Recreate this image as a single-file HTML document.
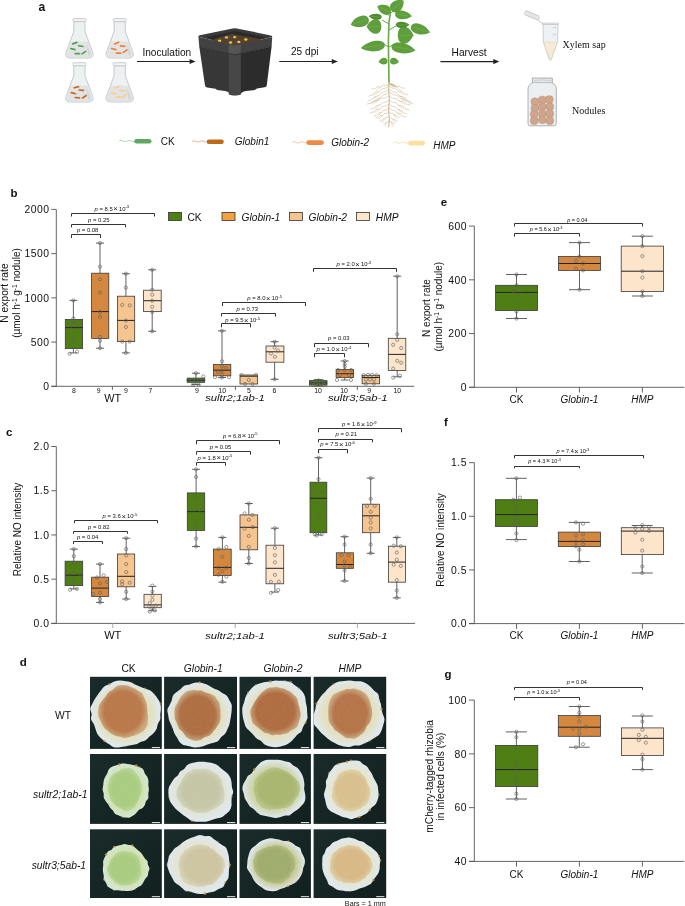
<!DOCTYPE html><html><head><meta charset="utf-8"><style>html,body{margin:0;padding:0;background:#fff;overflow:hidden;}svg{display:block;will-change:transform;}</style></head><body>
<svg width="685" height="906" viewBox="0 0 685 906">
<rect width="685" height="906" fill="#fff"/>
<text x="38.6" y="11.4" font-family='"Liberation Sans", sans-serif' font-size="12" text-anchor="start" fill="#111" font-weight="bold" >a</text>
<path d="M73.8 21.6 L73.8 31.6 L66.2 52 Q64.2 57 69.4 58 L89.4 58 Q94.6 57 92.6 52 L85 31.6 L85 21.6 Z" fill="#eef1f2" stroke="#b9bdc0" stroke-width="0.8"/>
<path d="M70.67 41.6 L66.4 52 Q64.8 56.8 69.4 57.4 L89.4 57.4 Q94 56.8 92.4 52 L88.13 41.6 Z" fill="#e1e3e4"/>
<path d="M86.4 43.6 L90.9 54 L88.4 56 Z" fill="#d3d6d8"/>
<rect x="72.8" y="18.6" width="13.2" height="3" rx="1.2" fill="#f3f5f6" stroke="#b9bdc0" stroke-width="0.7"/>
<line x1="72.7" y1="43.1" x2="77.1" y2="43.1" stroke="#4fa04f" stroke-width="1.7" stroke-linecap="round" transform="rotate(-20 74.9 43.1)"/>
<path d="M77.1 43.1 q1.5 -0.8 3 0" fill="none" stroke="#d8d8d8" stroke-width="0.4" transform="rotate(-20 74.9 43.1)"/>
<line x1="78.7" y1="46.1" x2="83.1" y2="46.1" stroke="#4fa04f" stroke-width="1.7" stroke-linecap="round" transform="rotate(10 80.9 46.1)"/>
<path d="M83.1 46.1 q1.5 -0.8 3 0" fill="none" stroke="#d8d8d8" stroke-width="0.4" transform="rotate(10 80.9 46.1)"/>
<line x1="70.7" y1="49.1" x2="75.1" y2="49.1" stroke="#4fa04f" stroke-width="1.7" stroke-linecap="round" transform="rotate(15 72.9 49.1)"/>
<path d="M75.1 49.1 q1.5 -0.8 3 0" fill="none" stroke="#d8d8d8" stroke-width="0.4" transform="rotate(15 72.9 49.1)"/>
<line x1="75.2" y1="53.6" x2="79.6" y2="53.6" stroke="#4fa04f" stroke-width="1.7" stroke-linecap="round" transform="rotate(0 77.4 53.6)"/>
<path d="M79.6 53.6 q1.5 -0.8 3 0" fill="none" stroke="#d8d8d8" stroke-width="0.4" transform="rotate(0 77.4 53.6)"/>
<line x1="81.7" y1="52.6" x2="86.1" y2="52.6" stroke="#4fa04f" stroke-width="1.7" stroke-linecap="round" transform="rotate(-35 83.9 52.6)"/>
<path d="M86.1 52.6 q1.5 -0.8 3 0" fill="none" stroke="#d8d8d8" stroke-width="0.4" transform="rotate(-35 83.9 52.6)"/>
<path d="M114.1 21.6 L114.1 31.6 L106.5 52 Q104.5 57 109.7 58 L129.7 58 Q134.9 57 132.9 52 L125.3 31.6 L125.3 21.6 Z" fill="#eef1f2" stroke="#b9bdc0" stroke-width="0.8"/>
<path d="M110.97 41.6 L106.7 52 Q105.1 56.8 109.7 57.4 L129.7 57.4 Q134.3 56.8 132.7 52 L128.43 41.6 Z" fill="#e1e3e4"/>
<path d="M126.7 43.6 L131.2 54 L128.7 56 Z" fill="#d3d6d8"/>
<rect x="113.1" y="18.6" width="13.2" height="3" rx="1.2" fill="#f3f5f6" stroke="#b9bdc0" stroke-width="0.7"/>
<line x1="114.5" y1="43.1" x2="118.9" y2="43.1" stroke="#ef7f33" stroke-width="1.7" stroke-linecap="round" transform="rotate(-25 116.7 43.1)"/>
<path d="M118.9 43.1 q1.5 -0.8 3 0" fill="none" stroke="#d8d8d8" stroke-width="0.4" transform="rotate(-25 116.7 43.1)"/>
<line x1="120.5" y1="46.1" x2="124.9" y2="46.1" stroke="#ef7f33" stroke-width="1.7" stroke-linecap="round" transform="rotate(5 122.7 46.1)"/>
<path d="M124.9 46.1 q1.5 -0.8 3 0" fill="none" stroke="#d8d8d8" stroke-width="0.4" transform="rotate(5 122.7 46.1)"/>
<line x1="111.5" y1="49.1" x2="115.9" y2="49.1" stroke="#ef7f33" stroke-width="1.7" stroke-linecap="round" transform="rotate(15 113.7 49.1)"/>
<path d="M115.9 49.1 q1.5 -0.8 3 0" fill="none" stroke="#d8d8d8" stroke-width="0.4" transform="rotate(15 113.7 49.1)"/>
<line x1="116.5" y1="53.1" x2="120.9" y2="53.1" stroke="#ef7f33" stroke-width="1.7" stroke-linecap="round" transform="rotate(0 118.7 53.1)"/>
<path d="M120.9 53.1 q1.5 -0.8 3 0" fill="none" stroke="#d8d8d8" stroke-width="0.4" transform="rotate(0 118.7 53.1)"/>
<line x1="123" y1="51.1" x2="127.4" y2="51.1" stroke="#ef7f33" stroke-width="1.7" stroke-linecap="round" transform="rotate(-35 125.2 51.1)"/>
<path d="M127.4 51.1 q1.5 -0.8 3 0" fill="none" stroke="#d8d8d8" stroke-width="0.4" transform="rotate(-35 125.2 51.1)"/>
<path d="M73.8 65.7 L73.8 75.7 L66.2 96 Q64.2 101 69.4 102 L89.4 102 Q94.6 101 92.6 96 L85 75.7 L85 65.7 Z" fill="#eef1f2" stroke="#b9bdc0" stroke-width="0.8"/>
<path d="M70.66 85.7 L66.4 96 Q64.8 100.8 69.4 101.4 L89.4 101.4 Q94 100.8 92.4 96 L88.14 85.7 Z" fill="#e1e3e4"/>
<path d="M86.4 87.7 L90.9 98 L88.4 100 Z" fill="#d3d6d8"/>
<rect x="72.8" y="62.7" width="13.2" height="3" rx="1.2" fill="#f3f5f6" stroke="#b9bdc0" stroke-width="0.7"/>
<line x1="74.2" y1="87.2" x2="78.6" y2="87.2" stroke="#c8691e" stroke-width="1.7" stroke-linecap="round" transform="rotate(-15 76.4 87.2)"/>
<path d="M78.6 87.2 q1.5 -0.8 3 0" fill="none" stroke="#d8d8d8" stroke-width="0.4" transform="rotate(-15 76.4 87.2)"/>
<line x1="79.2" y1="90.2" x2="83.6" y2="90.2" stroke="#c8691e" stroke-width="1.7" stroke-linecap="round" transform="rotate(5 81.4 90.2)"/>
<path d="M83.6 90.2 q1.5 -0.8 3 0" fill="none" stroke="#d8d8d8" stroke-width="0.4" transform="rotate(5 81.4 90.2)"/>
<line x1="71.2" y1="93.2" x2="75.6" y2="93.2" stroke="#c8691e" stroke-width="1.7" stroke-linecap="round" transform="rotate(15 73.4 93.2)"/>
<path d="M75.6 93.2 q1.5 -0.8 3 0" fill="none" stroke="#d8d8d8" stroke-width="0.4" transform="rotate(15 73.4 93.2)"/>
<line x1="75.2" y1="97.7" x2="79.6" y2="97.7" stroke="#c8691e" stroke-width="1.7" stroke-linecap="round" transform="rotate(5 77.4 97.7)"/>
<path d="M79.6 97.7 q1.5 -0.8 3 0" fill="none" stroke="#d8d8d8" stroke-width="0.4" transform="rotate(5 77.4 97.7)"/>
<line x1="82.2" y1="96.7" x2="86.6" y2="96.7" stroke="#c8691e" stroke-width="1.7" stroke-linecap="round" transform="rotate(-35 84.4 96.7)"/>
<path d="M86.6 96.7 q1.5 -0.8 3 0" fill="none" stroke="#d8d8d8" stroke-width="0.4" transform="rotate(-35 84.4 96.7)"/>
<path d="M114.1 65.7 L114.1 75.7 L106.5 96 Q104.5 101 109.7 102 L129.7 102 Q134.9 101 132.9 96 L125.3 75.7 L125.3 65.7 Z" fill="#eef1f2" stroke="#b9bdc0" stroke-width="0.8"/>
<path d="M110.96 85.7 L106.7 96 Q105.1 100.8 109.7 101.4 L129.7 101.4 Q134.3 100.8 132.7 96 L128.44 85.7 Z" fill="#e1e3e4"/>
<path d="M126.7 87.7 L131.2 98 L128.7 100 Z" fill="#d3d6d8"/>
<rect x="113.1" y="62.7" width="13.2" height="3" rx="1.2" fill="#f3f5f6" stroke="#b9bdc0" stroke-width="0.7"/>
<line x1="114.5" y1="87.2" x2="118.9" y2="87.2" stroke="#f7d08e" stroke-width="1.7" stroke-linecap="round" transform="rotate(-20 116.7 87.2)"/>
<path d="M118.9 87.2 q1.5 -0.8 3 0" fill="none" stroke="#d8d8d8" stroke-width="0.4" transform="rotate(-20 116.7 87.2)"/>
<line x1="120" y1="90.7" x2="124.4" y2="90.7" stroke="#f7d08e" stroke-width="1.7" stroke-linecap="round" transform="rotate(5 122.2 90.7)"/>
<path d="M124.4 90.7 q1.5 -0.8 3 0" fill="none" stroke="#d8d8d8" stroke-width="0.4" transform="rotate(5 122.2 90.7)"/>
<line x1="111.5" y1="93.2" x2="115.9" y2="93.2" stroke="#f7d08e" stroke-width="1.7" stroke-linecap="round" transform="rotate(10 113.7 93.2)"/>
<path d="M115.9 93.2 q1.5 -0.8 3 0" fill="none" stroke="#d8d8d8" stroke-width="0.4" transform="rotate(10 113.7 93.2)"/>
<line x1="116.5" y1="97.2" x2="120.9" y2="97.2" stroke="#f7d08e" stroke-width="1.7" stroke-linecap="round" transform="rotate(0 118.7 97.2)"/>
<path d="M120.9 97.2 q1.5 -0.8 3 0" fill="none" stroke="#d8d8d8" stroke-width="0.4" transform="rotate(0 118.7 97.2)"/>
<line x1="122.5" y1="95.7" x2="126.9" y2="95.7" stroke="#f7d08e" stroke-width="1.7" stroke-linecap="round" transform="rotate(-35 124.7 95.7)"/>
<path d="M126.9 95.7 q1.5 -0.8 3 0" fill="none" stroke="#d8d8d8" stroke-width="0.4" transform="rotate(-35 124.7 95.7)"/>
<line x1="137" y1="61.5" x2="191.6" y2="61.5" stroke="#222" stroke-width="1.1"/>
<path d="M195.6 61.5 L189.6 58.9 L189.6 64.1 Z" fill="#222"/>
<text x="142.4" y="56.1" font-family='"Liberation Sans", sans-serif' font-size="10.1" text-anchor="start" fill="#111" >Inoculation</text>
<line x1="279.3" y1="61.5" x2="333.8" y2="61.5" stroke="#222" stroke-width="1.1"/>
<path d="M337.8 61.5 L331.8 58.9 L331.8 64.1 Z" fill="#222"/>
<text x="291" y="55.1" font-family='"Liberation Sans", sans-serif' font-size="10.1" text-anchor="start" fill="#111" >25 dpi</text>
<line x1="440.5" y1="61.6" x2="495.3" y2="61.6" stroke="#222" stroke-width="1.1"/>
<path d="M499.3 61.6 L493.3 59 L493.3 64.2 Z" fill="#222"/>
<text x="451.6" y="56.3" font-family='"Liberation Sans", sans-serif' font-size="10.2" text-anchor="start" fill="#111" >Harvest</text>
<path d="M199.3 46.8 L234.7 54.8 L234.7 95.2 L231 95 Q229 91.5 225 91 L219 90.2 Q216.5 90.3 215.5 88.8 L207 87.6 Q205.2 87.2 205 85.6 Z" fill="#373737"/>
<path d="M234.7 54.8 L271.6 46.4 L266.8 85.2 Q266.5 87 264.6 87.2 L257 88.4 Q255.5 90 253 90.2 L246 91 Q241.5 91.5 240 95 L234.7 95.2 Z" fill="#2c2c2c"/>
<path d="M228.6 53.4 L234.7 54.8 L240.8 53.4 L240.8 94.6 Q237.5 95.6 234.7 95.6 Q231.5 95.6 228.8 94.6 Z" fill="#474747"/>
<path d="M198.4 36.8 Q198.2 35.6 199.8 35.2 L232.6 28.4 Q234.7 27.9 236.8 28.4 L270.8 35.4 Q272.4 35.8 272.2 37 L234.7 45.6 Z" fill="#3b3b3b"/>
<path d="M205 37.4 L234.7 31 L266 37.4 L234.7 45 Z" fill="#2a2a2a"/>
<path d="M212.5 41 Q213.5 38.8 216 38.3 L230.5 34.3 Q232 33.9 233.5 34.3 L259.5 39 Q262 40 259.8 41.2 L236 46 Q234.7 46.3 233.4 46 Z" fill="#56412f"/>
<ellipse cx="226.5" cy="37.4" rx="1.7" ry="1.2" fill="#e8c24a"/>
<ellipse cx="234.7" cy="37.1" rx="1.7" ry="1.2" fill="#e8c24a"/>
<ellipse cx="219.6" cy="40.8" rx="1.7" ry="1.2" fill="#e8c24a"/>
<ellipse cx="230.6" cy="42.5" rx="1.7" ry="1.2" fill="#e8c24a"/>
<ellipse cx="238.8" cy="41.9" rx="1.7" ry="1.2" fill="#e8c24a"/>
<ellipse cx="245.8" cy="39.5" rx="1.7" ry="1.2" fill="#e8c24a"/>
<path d="M198.4 36.8 L234.7 45.6 L272.2 37 L271.6 46.4 L234.7 54.9 L199.3 46.8 Z" fill="#424242"/>
<path d="M228.6 44.2 L234.7 45.6 L240.8 44.2 L240.8 53.4 L234.7 54.9 L228.6 53.4 Z" fill="#555"/>
<path d="M199.3 46.8 L234.7 54.9 L271.6 46.4" fill="none" stroke="#222" stroke-width="0.6"/>
<g stroke="#c9b48f" fill="none" stroke-linecap="round">
<path d="M389 81 L388.7 90 L389.4 100 L388.6 110 L389.3 119 L388.8 127" stroke-width="1"/>
<path d="M389 84 L386.17 85.43 L383.33 85.07 L380.5 87.1 L377.67 86.73 L374.83 88.77 L372 89" stroke-width="0.55"/>
<path d="M380.5 87.1 L379.08 88.67 L377.67 89.03 L376.25 90.6" stroke-width="0.4"/>
<path d="M389 84 L391.5 85.27 L394 84.73 L396.5 86.6 L399 86.07 L401.5 87.93 L404 88" stroke-width="0.55"/>
<path d="M396.5 86.6 L397.75 88.17 L399 88.53 L400.25 90.1" stroke-width="0.4"/>
<path d="M389 86 L385.67 88.27 L382.33 88.73 L379 91.6 L375.67 92.07 L372.33 94.93 L369 96" stroke-width="0.55"/>
<path d="M379 91.6 L377.33 93.17 L375.67 93.53 L374 95.1" stroke-width="0.4"/>
<path d="M389 86 L392.17 88.1 L395.33 88.4 L398.5 91.1 L401.67 91.4 L404.83 94.1 L408 95" stroke-width="0.55"/>
<path d="M398.5 91.1 L400.08 92.67 L401.67 93.03 L403.25 94.6" stroke-width="0.4"/>
<path d="M389 89 L385.5 91.6 L382 92.4 L378.5 95.6 L375 96.4 L371.5 99.6 L368 101" stroke-width="0.55"/>
<path d="M378.5 95.6 L376.75 97.17 L375 97.53 L373.25 99.1" stroke-width="0.4"/>
<path d="M389 89 L392.67 91.77 L396.33 92.73 L400 96.1 L403.67 97.07 L407.33 100.43 L411 102" stroke-width="0.55"/>
<path d="M400 96.1 L401.83 97.67 L403.67 98.03 L405.5 99.6" stroke-width="0.4"/>
<path d="M389 92 L386 94.43 L383 95.07 L380 98.1 L377 98.73 L374 101.77 L371 103" stroke-width="0.55"/>
<path d="M380 98.1 L378.5 99.67 L377 100.03 L375.5 101.6" stroke-width="0.4"/>
<path d="M389 92 L393 94.6 L397 95.4 L401 98.6 L405 99.4 L409 102.6 L413 104" stroke-width="0.55"/>
<path d="M401 98.6 L403 100.17 L405 100.53 L407 102.1" stroke-width="0.4"/>
<path d="M389 96 L385.33 97.93 L381.67 98.07 L378 100.6 L374.33 100.73 L370.67 103.27 L367 104" stroke-width="0.55"/>
<path d="M378 100.6 L376.17 102.17 L374.33 102.53 L372.5 104.1" stroke-width="0.4"/>
<path d="M389 96 L392.5 98.1 L396 98.4 L399.5 101.1 L403 101.4 L406.5 104.1 L410 105" stroke-width="0.55"/>
<path d="M399.5 101.1 L401.25 102.67 L403 103.03 L404.75 104.6" stroke-width="0.4"/>
<path d="M389 100 L386 102.1 L383 102.4 L380 105.1 L377 105.4 L374 108.1 L371 109" stroke-width="0.55"/>
<path d="M380 105.1 L378.5 106.67 L377 107.03 L375.5 108.6" stroke-width="0.4"/>
<path d="M389 100 L392.33 102.27 L395.67 102.73 L399 105.6 L402.33 106.07 L405.67 108.93 L409 110" stroke-width="0.55"/>
<path d="M399 105.6 L400.67 107.17 L402.33 107.53 L404 109.1" stroke-width="0.4"/>
<path d="M389 104 L385.83 106.1 L382.67 106.4 L379.5 109.1 L376.33 109.4 L373.17 112.1 L370 113" stroke-width="0.55"/>
<path d="M379.5 109.1 L377.92 110.67 L376.33 111.03 L374.75 112.6" stroke-width="0.4"/>
<path d="M389 104 L392 106.27 L395 106.73 L398 109.6 L401 110.07 L404 112.93 L407 114" stroke-width="0.55"/>
<path d="M398 109.6 L399.5 111.17 L401 111.53 L402.5 113.1" stroke-width="0.4"/>
<path d="M389 108 L386.5 109.93 L384 110.07 L381.5 112.6 L379 112.73 L376.5 115.27 L374 116" stroke-width="0.55"/>
<path d="M381.5 112.6 L380.25 114.17 L379 114.53 L377.75 116.1" stroke-width="0.4"/>
<path d="M389 108 L391.83 110.1 L394.67 110.4 L397.5 113.1 L400.33 113.4 L403.17 116.1 L406 117" stroke-width="0.55"/>
<path d="M397.5 113.1 L398.92 114.67 L400.33 115.03 L401.75 116.6" stroke-width="0.4"/>
<path d="M389 112 L386.83 113.6 L384.67 113.4 L382.5 115.6 L380.33 115.4 L378.17 117.6 L376 118" stroke-width="0.55"/>
<path d="M382.5 115.6 L381.42 117.17 L380.33 117.53 L379.25 119.1" stroke-width="0.4"/>
<path d="M389 112 L390.67 113.43 L392.33 113.07 L394 115.1 L395.67 114.73 L397.33 116.77 L399 117" stroke-width="0.55"/>
<path d="M394 115.1 L394.83 116.67 L395.67 117.03 L396.5 118.6" stroke-width="0.4"/>
<path d="M389 116 L387.5 117.43 L386 117.07 L384.5 119.1 L383 118.73 L381.5 120.77 L380 121" stroke-width="0.55"/>
<path d="M384.5 119.1 L383.75 120.67 L383 121.03 L382.25 122.6" stroke-width="0.4"/>
<path d="M389 117 L390.33 118.27 L391.67 117.73 L393 119.6 L394.33 119.07 L395.67 120.93 L397 121" stroke-width="0.55"/>
<path d="M393 119.6 L393.67 121.17 L394.33 121.53 L395 123.1" stroke-width="0.4"/>
<path d="M389 121 L388.17 122.1 L387.33 121.4 L386.5 123.1 L385.67 122.4 L384.83 124.1 L384 124" stroke-width="0.55"/>
<path d="M386.5 123.1 L386.08 124.67 L385.67 125.03 L385.25 126.6" stroke-width="0.4"/>
<path d="M389 121 L389.83 122.1 L390.67 121.4 L391.5 123.1 L392.33 122.4 L393.17 124.1 L394 124" stroke-width="0.55"/>
<path d="M391.5 123.1 L391.92 124.67 L392.33 125.03 L392.75 126.6" stroke-width="0.4"/>
<path d="M389 82.5 L390.17 84.1 L391.33 84.8 L392.5 86.4" stroke-width="0.5"/>
<path d="M389 82.5 L390.71 84.17 L392.41 84.95 L394.12 86.62" stroke-width="0.5"/>
<path d="M389 82.5 L391.1 84.42 L393.19 85.43 L395.29 87.35" stroke-width="0.5"/>
<path d="M389 82.5 L391.3 84.11 L393.61 84.82 L395.91 86.43" stroke-width="0.5"/>
<path d="M389 82.5 L391.31 84.14 L393.62 84.88 L395.93 86.52" stroke-width="0.5"/>
<path d="M389 82.5 L391.11 84.19 L393.23 84.98 L395.34 86.67" stroke-width="0.5"/>
<path d="M389 82.5 L390.73 83.92 L392.47 84.45 L394.2 85.87" stroke-width="0.5"/>
<path d="M389 82.5 L390.2 84.14 L391.4 84.88 L392.61 86.52" stroke-width="0.5"/>
</g>
<path d="M389 82 L388.6 60 L388.4 40 L389 22 L390.5 12" fill="none" stroke="#6aa84a" stroke-width="1.6"/>
<path d="M388.6 47 L380 42 M388.8 47 L397 43 M389 30 L396 26 M389 24 L382 20 M389.5 16 L384 9 M390 14 L396 8" stroke="#6aa84a" stroke-width="1"/>
<g transform="translate(397.5 5.5) rotate(-40) scale(1.05,1.18)"><path d="M-7.5 0 C-7.5 -6.25 2.62 -6.5 7.5 0 C2.62 6.5 -7.5 6.25 -7.5 0 Z" fill="#5f9e3d"/><path d="M-6 0 L6 0" stroke="#7dba5c" stroke-width="0.35"/></g>
<g transform="translate(384 9.2) rotate(25) scale(1.05,1.18)"><path d="M7 0 C7 -5.25 -2.45 -5.46 -7 0 C-2.45 5.46 7 5.25 7 0 Z" fill="#5f9e3d"/><path d="M5.6 0 L-5.6 0" stroke="#7dba5c" stroke-width="0.35"/></g>
<g transform="translate(403.5 15.2) rotate(8) scale(1.05,1.18)"><path d="M-8 0 C-8 -4.75 2.8 -4.94 8 0 C2.8 4.94 -8 4.75 -8 0 Z" fill="#5f9e3d"/><path d="M-6.4 0 L6.4 0" stroke="#7dba5c" stroke-width="0.35"/></g>
<g transform="translate(359.7 21.9) rotate(-18) scale(1.05,1.18)"><path d="M9 0 C9 -6 -3.15 -6.24 -9 0 C-3.15 6.24 9 6 9 0 Z" fill="#5f9e3d"/><path d="M7.2 0 L-7.2 0" stroke="#7dba5c" stroke-width="0.35"/></g>
<g transform="translate(374 26.5) rotate(0) scale(1.05,1.18)"><path d="M7 0 C7 -8.12 -2.45 -8.45 -7 0 C-2.45 8.45 7 8.12 7 0 Z" fill="#5f9e3d"/><path d="M5.6 0 L-5.6 0" stroke="#7dba5c" stroke-width="0.35"/></g>
<g transform="translate(375.2 16.7) rotate(5) scale(1.05,1.18)"><path d="M6.2 0 C6.2 -3.25 -2.17 -3.38 -6.2 0 C-2.17 3.38 6.2 3.25 6.2 0 Z" fill="#4f8c30"/><path d="M4.96 0 L-4.96 0" stroke="#7dba5c" stroke-width="0.35"/></g>
<g transform="translate(420.5 29.5) rotate(18) scale(1.05,1.18)"><path d="M-9.5 0 C-9.5 -5.62 3.32 -5.85 9.5 0 C3.32 5.85 -9.5 5.62 -9.5 0 Z" fill="#5f9e3d"/><path d="M-7.6 0 L7.6 0" stroke="#7dba5c" stroke-width="0.35"/></g>
<g transform="translate(405.6 35.2) rotate(0) scale(1.05,1.18)"><path d="M-7.4 0 C-7.4 -9.5 2.59 -9.88 7.4 0 C2.59 9.88 -7.4 9.5 -7.4 0 Z" fill="#5f9e3d"/><path d="M-5.92 0 L5.92 0" stroke="#7dba5c" stroke-width="0.35"/></g>
<g transform="translate(402.6 24.8) rotate(0) scale(1.05,1.18)"><path d="M-6.5 0 C-6.5 -3.5 2.27 -3.64 6.5 0 C2.27 3.64 -6.5 3.5 -6.5 0 Z" fill="#4f8c30"/><path d="M-5.2 0 L5.2 0" stroke="#7dba5c" stroke-width="0.35"/></g>
<g transform="translate(372.8 46.4) rotate(-8) scale(1.05,1.18)"><path d="M11.5 0 C11.5 -5.75 -4.02 -5.98 -11.5 0 C-4.02 5.98 11.5 5.75 11.5 0 Z" fill="#5f9e3d"/><path d="M9.2 0 L-9.2 0" stroke="#7dba5c" stroke-width="0.35"/></g>
<g transform="translate(403.5 48.4) rotate(10) scale(1.05,1.18)"><path d="M-11.5 0 C-11.5 -5.75 4.02 -5.98 11.5 0 C4.02 5.98 -11.5 5.75 -11.5 0 Z" fill="#5f9e3d"/><path d="M-9.2 0 L9.2 0" stroke="#7dba5c" stroke-width="0.35"/></g>
<g transform="translate(383 61.3) rotate(-10) scale(1.05,1.18)"><path d="M4.3 0 C4.3 -3.75 -1.5 -3.9 -4.3 0 C-1.5 3.9 4.3 3.75 4.3 0 Z" fill="#5f9e3d"/><path d="M3.44 0 L-3.44 0" stroke="#7dba5c" stroke-width="0.35"/></g>
<g transform="translate(394.5 61.3) rotate(10) scale(1.05,1.18)"><path d="M-4.3 0 C-4.3 -3.75 1.5 -3.9 4.3 0 C1.5 3.9 -4.3 3.75 -4.3 0 Z" fill="#5f9e3d"/><path d="M-3.44 0 L3.44 0" stroke="#7dba5c" stroke-width="0.35"/></g>
<g transform="translate(531.9 15.4) rotate(23)"><rect x="-7.5" y="-2.1" width="15" height="4.2" rx="1.3" fill="#eef1f2" stroke="#a9adb0" stroke-width="0.6"/><path d="M-6 -0.6 H6 M-6 0.7 H6" stroke="#c4c8ca" stroke-width="0.35"/></g>
<path d="M537.5 19.5 Q539.5 22.5 542.8 23.4" fill="none" stroke="#a9adb0" stroke-width="0.6"/>
<path d="M543 24 L558 24 L557.6 41.8 L551.3 59.6 Q550.3 61 549.3 59.6 L543.4 41.8 Z" fill="#eef1f3" stroke="#b0b4b7" stroke-width="0.6"/>
<path d="M543.6 42.2 L557.3 42.2 L551.2 59 Q550.3 60.2 549.4 59 Z" fill="#f4ead7" stroke="#d9c9a3" stroke-width="0.4"/>
<rect x="542.2" y="23" width="16.6" height="1.6" fill="#e4e7e9" stroke="#a9adb0" stroke-width="0.4"/>
<path d="M553.2 27.4 h2.6 M553.2 34.4 h2.6" stroke="#a0a4a6" stroke-width="0.5"/>
<text x="562.6" y="47.8" font-family='"Liberation Serif", serif' font-size="10" text-anchor="start" fill="#111" >Xylem sap</text>
<path d="M532.4 78.2 L552.2 78.2 L552.2 83 Q556.3 84.8 556.3 89 L556.3 123.4 Q556.3 125.8 553.9 125.8 L530.4 125.8 Q528 125.8 528 123.4 L528 89 Q528 84.8 532.4 83 Z" fill="#eceff1" stroke="#8f9498" stroke-width="0.7"/>
<path d="M532.4 78.2 L552.2 78.2 L552.2 82.6 L532.4 82.6 Z" fill="#e3e7ea" stroke="#8f9498" stroke-width="0.5"/>
<path d="M533.5 80.6 Q542 79.2 551 80.6" fill="none" stroke="#a8adb0" stroke-width="0.4"/>
<circle cx="534.9" cy="101.8" r="4" fill="#cfa68c" stroke="#b38e75" stroke-width="0.4"/>
<circle cx="542.3" cy="99.9" r="4" fill="#cfa68c" stroke="#b38e75" stroke-width="0.4"/>
<circle cx="549.3" cy="99.6" r="4" fill="#cfa68c" stroke="#b38e75" stroke-width="0.4"/>
<circle cx="534.9" cy="108.2" r="4" fill="#cfa68c" stroke="#b38e75" stroke-width="0.4"/>
<circle cx="542.3" cy="106.8" r="4" fill="#cfa68c" stroke="#b38e75" stroke-width="0.4"/>
<circle cx="549.8" cy="106.8" r="4" fill="#cfa68c" stroke="#b38e75" stroke-width="0.4"/>
<circle cx="534.2" cy="114.3" r="4" fill="#cfa68c" stroke="#b38e75" stroke-width="0.4"/>
<circle cx="542.3" cy="113.7" r="4" fill="#cfa68c" stroke="#b38e75" stroke-width="0.4"/>
<circle cx="549.8" cy="113.7" r="4" fill="#cfa68c" stroke="#b38e75" stroke-width="0.4"/>
<circle cx="534.2" cy="120.7" r="4" fill="#cfa68c" stroke="#b38e75" stroke-width="0.4"/>
<circle cx="542.3" cy="119.8" r="4" fill="#cfa68c" stroke="#b38e75" stroke-width="0.4"/>
<circle cx="549.8" cy="120.7" r="4" fill="#cfa68c" stroke="#b38e75" stroke-width="0.4"/>
<text x="572" y="114.4" font-family='"Liberation Serif", serif' font-size="10" text-anchor="start" fill="#111" >Nodules</text>
<path d="M119.2 141 q2 -1.4 4 0 t4 0 t4 0 t3 0" fill="none" stroke="#5ea862" stroke-width="0.55" opacity="0.85"/>
<rect x="134.2" y="139" width="17.3" height="4.6" rx="2.3" fill="#5ea862"/>
<text x="160.7" y="145" font-family='"Liberation Sans", sans-serif' font-size="10" text-anchor="start" fill="#111" >CK</text>
<path d="M192 141.5 q2 -1.4 4 0 t4 0 t4 0 t2.7 0" fill="none" stroke="#bf6a18" stroke-width="0.55" opacity="0.85"/>
<rect x="206.7" y="139.5" width="17.1" height="4.6" rx="2.3" fill="#bf6a18"/>
<text x="234.8" y="145.4" font-family='"Liberation Sans", sans-serif' font-size="10" text-anchor="start" fill="#111" font-style="italic" >Globin1</text>
<path d="M291.8 142.3 q2 -1.4 4 0 t4 0 t4 0 t2.5 0" fill="none" stroke="#ef8a45" stroke-width="0.55" opacity="0.85"/>
<rect x="306.3" y="140.3" width="17.6" height="4.6" rx="2.3" fill="#ef8a45"/>
<text x="331.2" y="146.2" font-family='"Liberation Sans", sans-serif' font-size="10" text-anchor="start" fill="#111" font-style="italic" >Globin-2</text>
<path d="M393 142.8 q2 -1.4 4 0 t4 0 t4 0 t3 0" fill="none" stroke="#e8c088" stroke-width="0.55" opacity="0.85"/>
<rect x="408" y="140.8" width="17" height="4.6" rx="2.3" fill="#fbe0a2"/>
<text x="433.2" y="148.8" font-family='"Liberation Sans", sans-serif' font-size="10" text-anchor="start" fill="#111" font-style="italic" >HMP</text>
<text x="10.4" y="196.6" font-family='"Liberation Sans", sans-serif' font-size="11.5" text-anchor="start" fill="#111" font-weight="bold" >b</text>
<line x1="56.3" y1="209.4" x2="56.3" y2="386.3" stroke="#555" stroke-width="0.9"/>
<line x1="51.3" y1="386.3" x2="414.3" y2="386.3" stroke="#555" stroke-width="0.9"/>
<line x1="51.3" y1="386.3" x2="56.3" y2="386.3" stroke="#555" stroke-width="0.9"/>
<text x="49.5" y="390.05" font-family='"Liberation Sans", sans-serif' font-size="10.4" text-anchor="end" fill="#111" letter-spacing="0.5">0</text>
<line x1="51.3" y1="342.07" x2="56.3" y2="342.07" stroke="#555" stroke-width="0.9"/>
<text x="49.5" y="345.82" font-family='"Liberation Sans", sans-serif' font-size="10.4" text-anchor="end" fill="#111" letter-spacing="0.5">500</text>
<line x1="51.3" y1="297.85" x2="56.3" y2="297.85" stroke="#555" stroke-width="0.9"/>
<text x="49.5" y="301.6" font-family='"Liberation Sans", sans-serif' font-size="10.4" text-anchor="end" fill="#111" letter-spacing="0.5">1000</text>
<line x1="51.3" y1="253.62" x2="56.3" y2="253.62" stroke="#555" stroke-width="0.9"/>
<text x="49.5" y="257.38" font-family='"Liberation Sans", sans-serif' font-size="10.4" text-anchor="end" fill="#111" letter-spacing="0.5">1500</text>
<line x1="51.3" y1="209.4" x2="56.3" y2="209.4" stroke="#555" stroke-width="0.9"/>
<text x="49.5" y="213.15" font-family='"Liberation Sans", sans-serif' font-size="10.4" text-anchor="end" fill="#111" letter-spacing="0.5">2000</text>
<text transform="translate(7.7,293) rotate(-90)" font-family='"Liberation Sans", sans-serif' font-size="10.25" text-anchor="middle" fill="#111">N export rate</text>
<text transform="translate(20.3,293) rotate(-90)" font-family='"Liberation Sans", sans-serif' font-size="10" text-anchor="middle" fill="#111">(µmol h<tspan font-size="6.5" dy="-3.5">-1</tspan><tspan dy="3.5"> g</tspan><tspan font-size="6.5" dy="-3.5">-1</tspan><tspan dy="3.5"> nodule)</tspan></text>
<rect x="168.5" y="212.4" width="13" height="8" fill="#4f7f14" stroke="#333" stroke-width="0.8"/>
<text x="187.5" y="220.5" font-family='"Liberation Sans", sans-serif' font-size="10.2" text-anchor="start" fill="#111" >CK</text>
<rect x="222" y="212.4" width="13" height="8" fill="#f7a040" stroke="#333" stroke-width="0.8"/>
<text x="241.6" y="220.5" font-family='"Liberation Sans", sans-serif' font-size="10.2" text-anchor="start" fill="#111" font-style="italic" >Globin-1</text>
<rect x="289.5" y="212.4" width="13" height="8" fill="#f5c48f" stroke="#333" stroke-width="0.8"/>
<text x="308.5" y="220.5" font-family='"Liberation Sans", sans-serif' font-size="10.2" text-anchor="start" fill="#111" font-style="italic" >Globin-2</text>
<rect x="356.5" y="212.4" width="13" height="8" fill="#fde5cc" stroke="#333" stroke-width="0.8"/>
<text x="375.8" y="220.5" font-family='"Liberation Sans", sans-serif' font-size="10.2" text-anchor="start" fill="#111" font-style="italic" >HMP</text>
<line x1="73.4" y1="300.4" x2="73.4" y2="319.5" stroke="#505050" stroke-width="0.9"/>
<line x1="69.4" y1="300.4" x2="77.4" y2="300.4" stroke="#505050" stroke-width="0.9"/>
<line x1="73.4" y1="348.6" x2="73.4" y2="352.9" stroke="#505050" stroke-width="0.9"/>
<line x1="69.4" y1="352.9" x2="77.4" y2="352.9" stroke="#505050" stroke-width="0.9"/>
<rect x="65.3" y="319.5" width="17.3" height="29.1" fill="#4f7f14" stroke="#3a3a3a" stroke-width="0.8"/>
<line x1="65.3" y1="327.6" x2="82.6" y2="327.6" stroke="#222" stroke-width="1.0"/>
<circle cx="73.4" cy="300.4" r="1.6" fill="none" stroke="#5f5f5f" stroke-width="0.62"/>
<circle cx="73.4" cy="318.6" r="1.6" fill="none" stroke="#5f5f5f" stroke-width="0.62"/>
<circle cx="73.4" cy="322.9" r="1.6" fill="none" stroke="#5f5f5f" stroke-width="0.62"/>
<circle cx="69.6" cy="327.6" r="1.6" fill="none" stroke="#5f5f5f" stroke-width="0.62"/>
<circle cx="77.1" cy="327.6" r="1.6" fill="none" stroke="#5f5f5f" stroke-width="0.62"/>
<circle cx="73.4" cy="340.7" r="1.6" fill="none" stroke="#5f5f5f" stroke-width="0.62"/>
<circle cx="69.6" cy="353.8" r="1.6" fill="none" stroke="#5f5f5f" stroke-width="0.62"/>
<circle cx="77.1" cy="351.6" r="1.6" fill="none" stroke="#5f5f5f" stroke-width="0.62"/>
<line x1="100" y1="243.1" x2="100" y2="273.2" stroke="#505050" stroke-width="0.9"/>
<line x1="96" y1="243.1" x2="104" y2="243.1" stroke="#505050" stroke-width="0.9"/>
<line x1="100" y1="338.4" x2="100" y2="348.2" stroke="#505050" stroke-width="0.9"/>
<line x1="96" y1="348.2" x2="104" y2="348.2" stroke="#505050" stroke-width="0.9"/>
<rect x="91.6" y="273.2" width="17.2" height="65.2" fill="#d4883f" stroke="#3a3a3a" stroke-width="0.8"/>
<line x1="91.6" y1="311.6" x2="108.8" y2="311.6" stroke="#222" stroke-width="1.0"/>
<circle cx="100" cy="243.1" r="1.6" fill="none" stroke="#5f5f5f" stroke-width="0.62"/>
<circle cx="100" cy="266.6" r="1.6" fill="none" stroke="#5f5f5f" stroke-width="0.62"/>
<circle cx="100" cy="279.2" r="1.6" fill="none" stroke="#5f5f5f" stroke-width="0.62"/>
<circle cx="100" cy="292.5" r="1.6" fill="none" stroke="#5f5f5f" stroke-width="0.62"/>
<circle cx="100" cy="312" r="1.6" fill="none" stroke="#5f5f5f" stroke-width="0.62"/>
<circle cx="100" cy="316.9" r="1.6" fill="none" stroke="#5f5f5f" stroke-width="0.62"/>
<circle cx="100" cy="336.9" r="1.6" fill="none" stroke="#5f5f5f" stroke-width="0.62"/>
<circle cx="100" cy="340.7" r="1.6" fill="none" stroke="#5f5f5f" stroke-width="0.62"/>
<circle cx="100" cy="348.2" r="1.6" fill="none" stroke="#5f5f5f" stroke-width="0.62"/>
<line x1="125.9" y1="273.7" x2="125.9" y2="296.2" stroke="#505050" stroke-width="0.9"/>
<line x1="121.9" y1="273.7" x2="129.9" y2="273.7" stroke="#505050" stroke-width="0.9"/>
<line x1="125.9" y1="341.6" x2="125.9" y2="352.9" stroke="#505050" stroke-width="0.9"/>
<line x1="121.9" y1="352.9" x2="129.9" y2="352.9" stroke="#505050" stroke-width="0.9"/>
<rect x="117.5" y="296.2" width="17.2" height="45.4" fill="#f5c48f" stroke="#3a3a3a" stroke-width="0.8"/>
<line x1="117.5" y1="320.4" x2="134.7" y2="320.4" stroke="#222" stroke-width="1.0"/>
<circle cx="125.9" cy="273.7" r="1.6" fill="none" stroke="#5f5f5f" stroke-width="0.62"/>
<circle cx="125.9" cy="287.6" r="1.6" fill="none" stroke="#5f5f5f" stroke-width="0.62"/>
<circle cx="122.2" cy="305" r="1.6" fill="none" stroke="#5f5f5f" stroke-width="0.62"/>
<circle cx="129.7" cy="305.4" r="1.6" fill="none" stroke="#5f5f5f" stroke-width="0.62"/>
<circle cx="125.9" cy="320.6" r="1.6" fill="none" stroke="#5f5f5f" stroke-width="0.62"/>
<circle cx="125.9" cy="327" r="1.6" fill="none" stroke="#5f5f5f" stroke-width="0.62"/>
<circle cx="122.2" cy="341.6" r="1.6" fill="none" stroke="#5f5f5f" stroke-width="0.62"/>
<circle cx="129.7" cy="341.6" r="1.6" fill="none" stroke="#5f5f5f" stroke-width="0.62"/>
<circle cx="125.9" cy="352.9" r="1.6" fill="none" stroke="#5f5f5f" stroke-width="0.62"/>
<line x1="152.2" y1="269.8" x2="152.2" y2="290.2" stroke="#505050" stroke-width="0.9"/>
<line x1="148.2" y1="269.8" x2="156.2" y2="269.8" stroke="#505050" stroke-width="0.9"/>
<line x1="152.2" y1="311.6" x2="152.2" y2="331.3" stroke="#505050" stroke-width="0.9"/>
<line x1="148.2" y1="331.3" x2="156.2" y2="331.3" stroke="#505050" stroke-width="0.9"/>
<rect x="143.6" y="290.2" width="17.6" height="21.4" fill="#fde5cc" stroke="#3a3a3a" stroke-width="0.8"/>
<line x1="143.6" y1="300.7" x2="161.2" y2="300.7" stroke="#222" stroke-width="1.0"/>
<circle cx="152.2" cy="269.8" r="1.6" fill="none" stroke="#5f5f5f" stroke-width="0.62"/>
<circle cx="152.2" cy="289.7" r="1.6" fill="none" stroke="#5f5f5f" stroke-width="0.62"/>
<circle cx="152.2" cy="294.7" r="1.6" fill="none" stroke="#5f5f5f" stroke-width="0.62"/>
<circle cx="152.2" cy="300.7" r="1.6" fill="none" stroke="#5f5f5f" stroke-width="0.62"/>
<circle cx="152.2" cy="306.9" r="1.6" fill="none" stroke="#5f5f5f" stroke-width="0.62"/>
<circle cx="152.2" cy="312" r="1.6" fill="none" stroke="#5f5f5f" stroke-width="0.62"/>
<circle cx="152.2" cy="331.3" r="1.6" fill="none" stroke="#5f5f5f" stroke-width="0.62"/>
<line x1="195.9" y1="373.2" x2="195.9" y2="378.1" stroke="#505050" stroke-width="0.9"/>
<line x1="191.9" y1="373.2" x2="199.9" y2="373.2" stroke="#505050" stroke-width="0.9"/>
<line x1="195.9" y1="382.3" x2="195.9" y2="384.5" stroke="#505050" stroke-width="0.9"/>
<line x1="191.9" y1="384.5" x2="199.9" y2="384.5" stroke="#505050" stroke-width="0.9"/>
<rect x="187.2" y="378.1" width="17.5" height="4.2" fill="#4f7f14" stroke="#3a3a3a" stroke-width="0.8"/>
<line x1="187.2" y1="380.2" x2="204.7" y2="380.2" stroke="#222" stroke-width="1.0"/>
<circle cx="195.9" cy="373.2" r="1.6" fill="none" stroke="#5f5f5f" stroke-width="0.62"/>
<circle cx="203.3" cy="376.4" r="1.6" fill="none" stroke="#5f5f5f" stroke-width="0.62"/>
<circle cx="188.5" cy="380.2" r="1.6" fill="none" stroke="#5f5f5f" stroke-width="0.62"/>
<circle cx="192.2" cy="380.2" r="1.6" fill="none" stroke="#5f5f5f" stroke-width="0.62"/>
<circle cx="195.9" cy="380.2" r="1.6" fill="none" stroke="#5f5f5f" stroke-width="0.62"/>
<circle cx="199.6" cy="380.2" r="1.6" fill="none" stroke="#5f5f5f" stroke-width="0.62"/>
<circle cx="203.3" cy="380.2" r="1.6" fill="none" stroke="#5f5f5f" stroke-width="0.62"/>
<circle cx="193" cy="384.6" r="1.6" fill="none" stroke="#5f5f5f" stroke-width="0.62"/>
<circle cx="198.8" cy="384.6" r="1.6" fill="none" stroke="#5f5f5f" stroke-width="0.62"/>
<line x1="222" y1="330.8" x2="222" y2="364.5" stroke="#505050" stroke-width="0.9"/>
<line x1="218" y1="330.8" x2="226" y2="330.8" stroke="#505050" stroke-width="0.9"/>
<line x1="222" y1="375.8" x2="222" y2="377.5" stroke="#505050" stroke-width="0.9"/>
<line x1="218" y1="377.5" x2="226" y2="377.5" stroke="#505050" stroke-width="0.9"/>
<rect x="213.4" y="364.5" width="17.4" height="11.3" fill="#d4883f" stroke="#3a3a3a" stroke-width="0.8"/>
<line x1="213.4" y1="370.2" x2="230.8" y2="370.2" stroke="#222" stroke-width="1.0"/>
<circle cx="222" cy="330.8" r="1.6" fill="none" stroke="#5f5f5f" stroke-width="0.62"/>
<circle cx="222" cy="361.3" r="1.6" fill="none" stroke="#5f5f5f" stroke-width="0.62"/>
<circle cx="222" cy="366.2" r="1.6" fill="none" stroke="#5f5f5f" stroke-width="0.62"/>
<circle cx="222" cy="370.6" r="1.6" fill="none" stroke="#5f5f5f" stroke-width="0.62"/>
<circle cx="222" cy="374.4" r="1.6" fill="none" stroke="#5f5f5f" stroke-width="0.62"/>
<circle cx="215" cy="377.1" r="1.6" fill="none" stroke="#5f5f5f" stroke-width="0.62"/>
<circle cx="229" cy="377.1" r="1.6" fill="none" stroke="#5f5f5f" stroke-width="0.62"/>
<circle cx="218" cy="372" r="1.6" fill="none" stroke="#5f5f5f" stroke-width="0.62"/>
<circle cx="226" cy="368" r="1.6" fill="none" stroke="#5f5f5f" stroke-width="0.62"/>
<circle cx="222" cy="377.5" r="1.6" fill="none" stroke="#5f5f5f" stroke-width="0.62"/>
<rect x="240" y="375" width="17.6" height="9" fill="#f5c48f" stroke="#3a3a3a" stroke-width="0.8"/>
<line x1="240" y1="376.2" x2="257.6" y2="376.2" stroke="#222" stroke-width="1.0"/>
<circle cx="241.5" cy="375" r="1.6" fill="none" stroke="#5f5f5f" stroke-width="0.62"/>
<circle cx="256" cy="375" r="1.6" fill="none" stroke="#5f5f5f" stroke-width="0.62"/>
<circle cx="248.8" cy="380" r="1.6" fill="none" stroke="#5f5f5f" stroke-width="0.62"/>
<circle cx="245" cy="384" r="1.6" fill="none" stroke="#5f5f5f" stroke-width="0.62"/>
<circle cx="252.6" cy="384" r="1.6" fill="none" stroke="#5f5f5f" stroke-width="0.62"/>
<line x1="274.6" y1="341.7" x2="274.6" y2="346" stroke="#505050" stroke-width="0.9"/>
<line x1="270.6" y1="341.7" x2="278.6" y2="341.7" stroke="#505050" stroke-width="0.9"/>
<line x1="274.6" y1="362.2" x2="274.6" y2="379.3" stroke="#505050" stroke-width="0.9"/>
<line x1="270.6" y1="379.3" x2="278.6" y2="379.3" stroke="#505050" stroke-width="0.9"/>
<rect x="266" y="346" width="17.9" height="16.2" fill="#fde5cc" stroke="#3a3a3a" stroke-width="0.8"/>
<line x1="266" y1="351.8" x2="283.9" y2="351.8" stroke="#222" stroke-width="1.0"/>
<circle cx="274.6" cy="341.7" r="1.6" fill="none" stroke="#5f5f5f" stroke-width="0.62"/>
<circle cx="274.6" cy="347.5" r="1.6" fill="none" stroke="#5f5f5f" stroke-width="0.62"/>
<circle cx="271" cy="353.5" r="1.6" fill="none" stroke="#5f5f5f" stroke-width="0.62"/>
<circle cx="275" cy="356.8" r="1.6" fill="none" stroke="#5f5f5f" stroke-width="0.62"/>
<circle cx="278" cy="350.6" r="1.6" fill="none" stroke="#5f5f5f" stroke-width="0.62"/>
<circle cx="274.6" cy="379.3" r="1.6" fill="none" stroke="#5f5f5f" stroke-width="0.62"/>
<line x1="318.5" y1="379.5" x2="318.5" y2="380.6" stroke="#505050" stroke-width="0.9"/>
<line x1="314.5" y1="379.5" x2="322.5" y2="379.5" stroke="#505050" stroke-width="0.9"/>
<line x1="318.5" y1="385.1" x2="318.5" y2="386" stroke="#505050" stroke-width="0.9"/>
<line x1="314.5" y1="386" x2="322.5" y2="386" stroke="#505050" stroke-width="0.9"/>
<rect x="309.5" y="380.6" width="17.5" height="4.5" fill="#4f7f14" stroke="#3a3a3a" stroke-width="0.8"/>
<line x1="309.5" y1="382.9" x2="327" y2="382.9" stroke="#222" stroke-width="1.0"/>
<circle cx="311.5" cy="382.5" r="1.6" fill="none" stroke="#5f5f5f" stroke-width="0.62"/>
<circle cx="314.5" cy="381" r="1.6" fill="none" stroke="#5f5f5f" stroke-width="0.62"/>
<circle cx="318.5" cy="380.5" r="1.6" fill="none" stroke="#5f5f5f" stroke-width="0.62"/>
<circle cx="322.5" cy="381" r="1.6" fill="none" stroke="#5f5f5f" stroke-width="0.62"/>
<circle cx="325.5" cy="382.5" r="1.6" fill="none" stroke="#5f5f5f" stroke-width="0.62"/>
<circle cx="313" cy="385" r="1.6" fill="none" stroke="#5f5f5f" stroke-width="0.62"/>
<circle cx="318.5" cy="385" r="1.6" fill="none" stroke="#5f5f5f" stroke-width="0.62"/>
<circle cx="324" cy="385" r="1.6" fill="none" stroke="#5f5f5f" stroke-width="0.62"/>
<circle cx="316" cy="383" r="1.6" fill="none" stroke="#5f5f5f" stroke-width="0.62"/>
<circle cx="321" cy="383" r="1.6" fill="none" stroke="#5f5f5f" stroke-width="0.62"/>
<line x1="344.7" y1="361" x2="344.7" y2="369.6" stroke="#505050" stroke-width="0.9"/>
<line x1="340.7" y1="361" x2="348.7" y2="361" stroke="#505050" stroke-width="0.9"/>
<line x1="344.7" y1="377.5" x2="344.7" y2="380" stroke="#505050" stroke-width="0.9"/>
<line x1="340.7" y1="380" x2="348.7" y2="380" stroke="#505050" stroke-width="0.9"/>
<rect x="336.1" y="369.6" width="17.5" height="7.9" fill="#d4883f" stroke="#3a3a3a" stroke-width="0.8"/>
<line x1="336.1" y1="373.7" x2="353.6" y2="373.7" stroke="#222" stroke-width="1.0"/>
<circle cx="344.7" cy="361" r="1.6" fill="none" stroke="#5f5f5f" stroke-width="0.62"/>
<circle cx="344.7" cy="364" r="1.6" fill="none" stroke="#5f5f5f" stroke-width="0.62"/>
<circle cx="344.7" cy="366.5" r="1.6" fill="none" stroke="#5f5f5f" stroke-width="0.62"/>
<circle cx="338" cy="370" r="1.6" fill="none" stroke="#5f5f5f" stroke-width="0.62"/>
<circle cx="344.7" cy="370" r="1.6" fill="none" stroke="#5f5f5f" stroke-width="0.62"/>
<circle cx="351" cy="370" r="1.6" fill="none" stroke="#5f5f5f" stroke-width="0.62"/>
<circle cx="340" cy="375" r="1.6" fill="none" stroke="#5f5f5f" stroke-width="0.62"/>
<circle cx="349" cy="375" r="1.6" fill="none" stroke="#5f5f5f" stroke-width="0.62"/>
<circle cx="337" cy="380" r="1.6" fill="none" stroke="#5f5f5f" stroke-width="0.62"/>
<circle cx="351" cy="380" r="1.6" fill="none" stroke="#5f5f5f" stroke-width="0.62"/>
<rect x="362.1" y="375.3" width="17.5" height="8.5" fill="#f5c48f" stroke="#3a3a3a" stroke-width="0.8"/>
<line x1="362.1" y1="377.5" x2="379.6" y2="377.5" stroke="#222" stroke-width="1.0"/>
<circle cx="363.6" cy="375.2" r="1.6" fill="none" stroke="#5f5f5f" stroke-width="0.62"/>
<circle cx="368" cy="374.8" r="1.6" fill="none" stroke="#5f5f5f" stroke-width="0.62"/>
<circle cx="372" cy="374.8" r="1.6" fill="none" stroke="#5f5f5f" stroke-width="0.62"/>
<circle cx="376.6" cy="375.2" r="1.6" fill="none" stroke="#5f5f5f" stroke-width="0.62"/>
<circle cx="366" cy="379.5" r="1.6" fill="none" stroke="#5f5f5f" stroke-width="0.62"/>
<circle cx="370" cy="379.5" r="1.6" fill="none" stroke="#5f5f5f" stroke-width="0.62"/>
<circle cx="374" cy="379.5" r="1.6" fill="none" stroke="#5f5f5f" stroke-width="0.62"/>
<circle cx="366" cy="383.8" r="1.6" fill="none" stroke="#5f5f5f" stroke-width="0.62"/>
<circle cx="374" cy="383.8" r="1.6" fill="none" stroke="#5f5f5f" stroke-width="0.62"/>
<line x1="397.2" y1="276.2" x2="397.2" y2="338.3" stroke="#505050" stroke-width="0.9"/>
<line x1="393.2" y1="276.2" x2="401.2" y2="276.2" stroke="#505050" stroke-width="0.9"/>
<line x1="397.2" y1="370.5" x2="397.2" y2="376.8" stroke="#505050" stroke-width="0.9"/>
<line x1="393.2" y1="376.8" x2="401.2" y2="376.8" stroke="#505050" stroke-width="0.9"/>
<rect x="388.3" y="338.3" width="17.5" height="32.2" fill="#fde5cc" stroke="#3a3a3a" stroke-width="0.8"/>
<line x1="388.3" y1="354.4" x2="405.8" y2="354.4" stroke="#222" stroke-width="1.0"/>
<circle cx="397.2" cy="276.2" r="1.6" fill="none" stroke="#5f5f5f" stroke-width="0.62"/>
<circle cx="397.2" cy="334.3" r="1.6" fill="none" stroke="#5f5f5f" stroke-width="0.62"/>
<circle cx="397.2" cy="339.8" r="1.6" fill="none" stroke="#5f5f5f" stroke-width="0.62"/>
<circle cx="393.2" cy="344.8" r="1.6" fill="none" stroke="#5f5f5f" stroke-width="0.62"/>
<circle cx="401.2" cy="348" r="1.6" fill="none" stroke="#5f5f5f" stroke-width="0.62"/>
<circle cx="397.2" cy="360.8" r="1.6" fill="none" stroke="#5f5f5f" stroke-width="0.62"/>
<circle cx="401.2" cy="362.7" r="1.6" fill="none" stroke="#5f5f5f" stroke-width="0.62"/>
<circle cx="393.2" cy="368.6" r="1.6" fill="none" stroke="#5f5f5f" stroke-width="0.62"/>
<circle cx="400" cy="375.8" r="1.6" fill="none" stroke="#5f5f5f" stroke-width="0.62"/>
<circle cx="393.2" cy="377.6" r="1.6" fill="none" stroke="#5f5f5f" stroke-width="0.62"/>
<path d="M71.5 216.5 V213.5 H154.5 V216.5" fill="none" stroke="#333" stroke-width="1"/>
<text x="94.5" y="210.52" font-family='"Liberation Sans", sans-serif' font-size="5.9" fill="#111"><tspan font-style="italic">p</tspan> = 8.5<tspan font-size="7.67" dx="0.59" dy="0.71">×</tspan><tspan dx="1.18" dy="-0.71">10</tspan><tspan font-size="4.13" dy="-2.36">-3</tspan></text>
<path d="M71.5 227.3 V224.5 H125.5 V227.3" fill="none" stroke="#333" stroke-width="1"/>
<text x="88.1" y="221.72" font-family='"Liberation Sans", sans-serif' font-size="5.9" fill="#111"><tspan font-style="italic">p</tspan> = 0.25</text>
<path d="M71.5 238 V234.5 H100.5 V238" fill="none" stroke="#333" stroke-width="1"/>
<text x="76.9" y="232.02" font-family='"Liberation Sans", sans-serif' font-size="5.9" fill="#111"><tspan font-style="italic">p</tspan> = 0.08</text>
<path d="M222.5 306.1 V302.5 H305.5 V306.1" fill="none" stroke="#333" stroke-width="1"/>
<text x="247.3" y="300.12" font-family='"Liberation Sans", sans-serif' font-size="5.9" fill="#111"><tspan font-style="italic">p</tspan> = 8.0<tspan font-size="7.67" dx="0.59" dy="0.71">×</tspan><tspan dx="1.18" dy="-0.71">10</tspan><tspan font-size="4.13" dy="-2.36">-5</tspan></text>
<path d="M221.5 316.5 V313.5 H275.5 V316.5" fill="none" stroke="#333" stroke-width="1"/>
<text x="236.5" y="311.42" font-family='"Liberation Sans", sans-serif' font-size="5.9" fill="#111"><tspan font-style="italic">p</tspan> = 0.73</text>
<path d="M221.5 327.3 V323.5 H250.5 V327.3" fill="none" stroke="#333" stroke-width="1"/>
<text x="225.3" y="322.02" font-family='"Liberation Sans", sans-serif' font-size="5.9" fill="#111"><tspan font-style="italic">p</tspan> = 9.5<tspan font-size="7.67" dx="0.59" dy="0.71">×</tspan><tspan dx="1.18" dy="-0.71">10</tspan><tspan font-size="4.13" dy="-2.36">-5</tspan></text>
<path d="M313.5 271.8 V268.5 H396.5 V271.8" fill="none" stroke="#333" stroke-width="1"/>
<text x="336.5" y="266.32" font-family='"Liberation Sans", sans-serif' font-size="5.9" fill="#111"><tspan font-style="italic">p</tspan> = 2.0<tspan font-size="7.67" dx="0.59" dy="0.71">×</tspan><tspan dx="1.18" dy="-0.71">10</tspan><tspan font-size="4.13" dy="-2.36">-3</tspan></text>
<path d="M314.5 347.2 V343.5 H368.5 V347.2" fill="none" stroke="#333" stroke-width="1"/>
<text x="328" y="340.02" font-family='"Liberation Sans", sans-serif' font-size="5.9" fill="#111"><tspan font-style="italic">p</tspan> = 0.03</text>
<path d="M314.5 357.2 V353.5 H344.5 V357.2" fill="none" stroke="#333" stroke-width="1"/>
<text x="316.6" y="351.22" font-family='"Liberation Sans", sans-serif' font-size="5.9" fill="#111"><tspan font-style="italic">p</tspan> = 1.0<tspan font-size="7.67" dx="0.59" dy="0.71">×</tspan><tspan dx="1.18" dy="-0.71">10</tspan><tspan font-size="4.13" dy="-2.36">-4</tspan></text>
<text x="74" y="393.3" font-family='"Liberation Sans", sans-serif' font-size="6.9" text-anchor="middle" fill="#111" >8</text>
<text x="98.6" y="393.3" font-family='"Liberation Sans", sans-serif' font-size="6.9" text-anchor="middle" fill="#111" >9</text>
<text x="126" y="393.3" font-family='"Liberation Sans", sans-serif' font-size="6.9" text-anchor="middle" fill="#111" >9</text>
<text x="150.4" y="393.3" font-family='"Liberation Sans", sans-serif' font-size="6.9" text-anchor="middle" fill="#111" >7</text>
<text x="197" y="393.3" font-family='"Liberation Sans", sans-serif' font-size="6.9" text-anchor="middle" fill="#111" >9</text>
<text x="222.2" y="393.3" font-family='"Liberation Sans", sans-serif' font-size="6.9" text-anchor="middle" fill="#111" >10</text>
<text x="248.9" y="393.3" font-family='"Liberation Sans", sans-serif' font-size="6.9" text-anchor="middle" fill="#111" >5</text>
<text x="274.3" y="393.3" font-family='"Liberation Sans", sans-serif' font-size="6.9" text-anchor="middle" fill="#111" >6</text>
<text x="318.1" y="393.3" font-family='"Liberation Sans", sans-serif' font-size="6.9" text-anchor="middle" fill="#111" >10</text>
<text x="344.1" y="393.3" font-family='"Liberation Sans", sans-serif' font-size="6.9" text-anchor="middle" fill="#111" >10</text>
<text x="369.2" y="393.3" font-family='"Liberation Sans", sans-serif' font-size="6.9" text-anchor="middle" fill="#111" >9</text>
<text x="397.3" y="393.3" font-family='"Liberation Sans", sans-serif' font-size="6.9" text-anchor="middle" fill="#111" >10</text>
<line x1="112.4" y1="386.3" x2="112.4" y2="390" stroke="#555" stroke-width="0.9"/>
<line x1="235.4" y1="386.3" x2="235.4" y2="390" stroke="#555" stroke-width="0.9"/>
<line x1="357.3" y1="386.3" x2="357.3" y2="390" stroke="#555" stroke-width="0.9"/>
<text transform="translate(112.7,401.9) scale(1.06,1)" font-family='"Liberation Sans", sans-serif' font-size="10.3" text-anchor="middle" fill="#111" >WT</text>
<text transform="translate(235,401.4) scale(1.18,1)" font-family='"Liberation Sans", sans-serif' font-size="9.6" text-anchor="middle" fill="#111" font-style="italic" >sultr2;1ab-1</text>
<text transform="translate(357.8,401.4) scale(1.18,1)" font-family='"Liberation Sans", sans-serif' font-size="9.6" text-anchor="middle" fill="#111" font-style="italic" >sultr3;5ab-1</text>
<text x="440.8" y="205.8" font-family='"Liberation Sans", sans-serif' font-size="11.5" text-anchor="start" fill="#111" font-weight="bold" >e</text>
<line x1="474.3" y1="226.08" x2="474.3" y2="387.3" stroke="#555" stroke-width="0.9"/>
<line x1="469" y1="387.3" x2="684.3" y2="387.3" stroke="#555" stroke-width="0.9"/>
<line x1="469" y1="387.3" x2="474.3" y2="387.3" stroke="#555" stroke-width="0.9"/>
<text x="467" y="391.05" font-family='"Liberation Sans", sans-serif' font-size="10.4" text-anchor="end" fill="#111" letter-spacing="0.5">0</text>
<line x1="469" y1="333.56" x2="474.3" y2="333.56" stroke="#555" stroke-width="0.9"/>
<text x="467" y="337.31" font-family='"Liberation Sans", sans-serif' font-size="10.4" text-anchor="end" fill="#111" letter-spacing="0.5">200</text>
<line x1="469" y1="279.82" x2="474.3" y2="279.82" stroke="#555" stroke-width="0.9"/>
<text x="467" y="283.57" font-family='"Liberation Sans", sans-serif' font-size="10.4" text-anchor="end" fill="#111" letter-spacing="0.5">400</text>
<line x1="469" y1="226.08" x2="474.3" y2="226.08" stroke="#555" stroke-width="0.9"/>
<text x="467" y="229.83" font-family='"Liberation Sans", sans-serif' font-size="10.4" text-anchor="end" fill="#111" letter-spacing="0.5">600</text>
<line x1="516.5" y1="387.3" x2="516.5" y2="392.5" stroke="#555" stroke-width="0.9"/>
<line x1="579.4" y1="387.3" x2="579.4" y2="392.5" stroke="#555" stroke-width="0.9"/>
<line x1="642.4" y1="387.3" x2="642.4" y2="392.5" stroke="#555" stroke-width="0.9"/>
<text x="516.5" y="402.9" font-family='"Liberation Sans", sans-serif' font-size="10" text-anchor="middle" fill="#111" >CK</text>
<text x="579.4" y="402.9" font-family='"Liberation Sans", sans-serif' font-size="10" text-anchor="middle" fill="#111" font-style="italic" >Globin-1</text>
<text x="642.4" y="402.9" font-family='"Liberation Sans", sans-serif' font-size="10" text-anchor="middle" fill="#111" font-style="italic" >HMP</text>
<text transform="translate(430,308) rotate(-90)" font-family='"Liberation Sans", sans-serif' font-size="10" text-anchor="middle" fill="#111">N export rate</text>
<text transform="translate(442.2,306.7) rotate(-90)" font-family='"Liberation Sans", sans-serif' font-size="10" text-anchor="middle" fill="#111">(µmol h<tspan font-size="6.5" dy="-3.5">-1</tspan><tspan dy="3.5"> g</tspan><tspan font-size="6.5" dy="-3.5">-1</tspan><tspan dy="3.5"> nodule)</tspan></text>
<line x1="516.5" y1="274.5" x2="516.5" y2="285.3" stroke="#505050" stroke-width="0.9"/>
<line x1="506" y1="274.5" x2="527" y2="274.5" stroke="#505050" stroke-width="0.9"/>
<line x1="516.5" y1="310.6" x2="516.5" y2="318.5" stroke="#505050" stroke-width="0.9"/>
<line x1="506" y1="318.5" x2="527" y2="318.5" stroke="#505050" stroke-width="0.9"/>
<rect x="495.6" y="285.3" width="42" height="25.3" fill="#4f7f14" stroke="#3a3a3a" stroke-width="0.8"/>
<line x1="495.6" y1="292.4" x2="537.6" y2="292.4" stroke="#222" stroke-width="1.0"/>
<circle cx="516.5" cy="274.5" r="1.6" fill="none" stroke="#5f5f5f" stroke-width="0.62"/>
<circle cx="516.5" cy="285.3" r="1.6" fill="none" stroke="#5f5f5f" stroke-width="0.62"/>
<circle cx="513.3" cy="291" r="1.6" fill="none" stroke="#5f5f5f" stroke-width="0.62"/>
<circle cx="519.7" cy="292.6" r="1.6" fill="none" stroke="#5f5f5f" stroke-width="0.62"/>
<circle cx="516.5" cy="303.4" r="1.6" fill="none" stroke="#5f5f5f" stroke-width="0.62"/>
<circle cx="516.5" cy="311.5" r="1.6" fill="none" stroke="#5f5f5f" stroke-width="0.62"/>
<circle cx="516.5" cy="318.6" r="1.6" fill="none" stroke="#5f5f5f" stroke-width="0.62"/>
<line x1="579.5" y1="242.6" x2="579.5" y2="256.5" stroke="#505050" stroke-width="0.9"/>
<line x1="569" y1="242.6" x2="590" y2="242.6" stroke="#505050" stroke-width="0.9"/>
<line x1="579.5" y1="270.4" x2="579.5" y2="289.7" stroke="#505050" stroke-width="0.9"/>
<line x1="569" y1="289.7" x2="590" y2="289.7" stroke="#505050" stroke-width="0.9"/>
<rect x="558.6" y="256.5" width="41.9" height="13.9" fill="#d4883f" stroke="#3a3a3a" stroke-width="0.8"/>
<line x1="558.6" y1="263.5" x2="600.5" y2="263.5" stroke="#222" stroke-width="1.0"/>
<circle cx="579.5" cy="242.6" r="1.6" fill="none" stroke="#5f5f5f" stroke-width="0.62"/>
<circle cx="579.5" cy="256.5" r="1.6" fill="none" stroke="#5f5f5f" stroke-width="0.62"/>
<circle cx="576" cy="260.9" r="1.6" fill="none" stroke="#5f5f5f" stroke-width="0.62"/>
<circle cx="583" cy="263.5" r="1.6" fill="none" stroke="#5f5f5f" stroke-width="0.62"/>
<circle cx="576" cy="268.8" r="1.6" fill="none" stroke="#5f5f5f" stroke-width="0.62"/>
<circle cx="583" cy="270.4" r="1.6" fill="none" stroke="#5f5f5f" stroke-width="0.62"/>
<circle cx="579.5" cy="289.7" r="1.6" fill="none" stroke="#5f5f5f" stroke-width="0.62"/>
<line x1="642.4" y1="236.2" x2="642.4" y2="246.1" stroke="#505050" stroke-width="0.9"/>
<line x1="631.9" y1="236.2" x2="652.9" y2="236.2" stroke="#505050" stroke-width="0.9"/>
<line x1="642.4" y1="291.4" x2="642.4" y2="296" stroke="#505050" stroke-width="0.9"/>
<line x1="631.9" y1="296" x2="652.9" y2="296" stroke="#505050" stroke-width="0.9"/>
<rect x="621.2" y="246.1" width="42.2" height="45.3" fill="#fde5cc" stroke="#3a3a3a" stroke-width="0.8"/>
<line x1="621.2" y1="271.2" x2="663.4" y2="271.2" stroke="#222" stroke-width="1.0"/>
<circle cx="642.4" cy="236.2" r="1.6" fill="none" stroke="#5f5f5f" stroke-width="0.62"/>
<circle cx="642.4" cy="246.1" r="1.6" fill="none" stroke="#5f5f5f" stroke-width="0.62"/>
<circle cx="642.4" cy="256.1" r="1.6" fill="none" stroke="#5f5f5f" stroke-width="0.62"/>
<circle cx="642.4" cy="271.2" r="1.6" fill="none" stroke="#5f5f5f" stroke-width="0.62"/>
<circle cx="642.4" cy="277.5" r="1.6" fill="none" stroke="#5f5f5f" stroke-width="0.62"/>
<circle cx="642.4" cy="291.4" r="1.6" fill="none" stroke="#5f5f5f" stroke-width="0.62"/>
<circle cx="642.4" cy="296" r="1.6" fill="none" stroke="#5f5f5f" stroke-width="0.62"/>
<path d="M514.5 236.6 V233.5 H579.5 V236.6" fill="none" stroke="#333" stroke-width="1"/>
<text x="529.8" y="231.4" font-family='"Liberation Sans", sans-serif' font-size="5.55" fill="#111"><tspan font-style="italic">p</tspan> = 5.6<tspan font-size="7.21" dx="0.56" dy="0.67">×</tspan><tspan dx="1.11" dy="-0.67">10</tspan><tspan font-size="3.88" dy="-2.22">-3</tspan></text>
<path d="M514.5 226.5 V223.5 H642.5 V226.5" fill="none" stroke="#333" stroke-width="1"/>
<text x="567.2" y="221.5" font-family='"Liberation Sans", sans-serif' font-size="5.55" fill="#111"><tspan font-style="italic">p</tspan> = 0.04</text>
<text x="444" y="425.9" font-family='"Liberation Sans", sans-serif' font-size="11.5" text-anchor="start" fill="#111" font-weight="bold" >f</text>
<line x1="474.3" y1="462.65" x2="474.3" y2="623.6" stroke="#555" stroke-width="0.9"/>
<line x1="469" y1="623.6" x2="684.3" y2="623.6" stroke="#555" stroke-width="0.9"/>
<line x1="469" y1="623.6" x2="474.3" y2="623.6" stroke="#555" stroke-width="0.9"/>
<text x="467" y="627.35" font-family='"Liberation Sans", sans-serif' font-size="10.4" text-anchor="end" fill="#111" letter-spacing="0.5">0.0</text>
<line x1="469" y1="569.95" x2="474.3" y2="569.95" stroke="#555" stroke-width="0.9"/>
<text x="467" y="573.7" font-family='"Liberation Sans", sans-serif' font-size="10.4" text-anchor="end" fill="#111" letter-spacing="0.5">0.5</text>
<line x1="469" y1="516.3" x2="474.3" y2="516.3" stroke="#555" stroke-width="0.9"/>
<text x="467" y="520.05" font-family='"Liberation Sans", sans-serif' font-size="10.4" text-anchor="end" fill="#111" letter-spacing="0.5">1.0</text>
<line x1="469" y1="462.65" x2="474.3" y2="462.65" stroke="#555" stroke-width="0.9"/>
<text x="467" y="466.4" font-family='"Liberation Sans", sans-serif' font-size="10.4" text-anchor="end" fill="#111" letter-spacing="0.5">1.5</text>
<line x1="516.5" y1="623.6" x2="516.5" y2="628.8" stroke="#555" stroke-width="0.9"/>
<line x1="579.4" y1="623.6" x2="579.4" y2="628.8" stroke="#555" stroke-width="0.9"/>
<line x1="642.4" y1="623.6" x2="642.4" y2="628.8" stroke="#555" stroke-width="0.9"/>
<text x="516.5" y="639" font-family='"Liberation Sans", sans-serif' font-size="10" text-anchor="middle" fill="#111" >CK</text>
<text x="579.4" y="639" font-family='"Liberation Sans", sans-serif' font-size="10" text-anchor="middle" fill="#111" font-style="italic" >Globin-1</text>
<text x="642.4" y="639" font-family='"Liberation Sans", sans-serif' font-size="10" text-anchor="middle" fill="#111" font-style="italic" >HMP</text>
<text transform="translate(443.5,540) rotate(-90)" font-family='"Liberation Sans", sans-serif' font-size="10" text-anchor="middle" fill="#111">Relative NO intensity</text>
<line x1="516.4" y1="478.3" x2="516.4" y2="499.7" stroke="#505050" stroke-width="0.9"/>
<line x1="505.9" y1="478.3" x2="526.9" y2="478.3" stroke="#505050" stroke-width="0.9"/>
<line x1="516.4" y1="526.5" x2="516.4" y2="539.6" stroke="#505050" stroke-width="0.9"/>
<line x1="505.9" y1="539.6" x2="526.9" y2="539.6" stroke="#505050" stroke-width="0.9"/>
<rect x="495.4" y="499.7" width="42.1" height="26.8" fill="#4f7f14" stroke="#3a3a3a" stroke-width="0.8"/>
<line x1="495.4" y1="514.6" x2="537.5" y2="514.6" stroke="#222" stroke-width="1.0"/>
<circle cx="516.4" cy="478.3" r="1.6" fill="none" stroke="#5f5f5f" stroke-width="0.62"/>
<circle cx="513.3" cy="499.7" r="1.6" fill="none" stroke="#5f5f5f" stroke-width="0.62"/>
<circle cx="520" cy="497.6" r="1.6" fill="none" stroke="#5f5f5f" stroke-width="0.62"/>
<circle cx="516.4" cy="507.2" r="1.6" fill="none" stroke="#5f5f5f" stroke-width="0.62"/>
<circle cx="516.4" cy="511.6" r="1.6" fill="none" stroke="#5f5f5f" stroke-width="0.62"/>
<circle cx="516.4" cy="516.8" r="1.6" fill="none" stroke="#5f5f5f" stroke-width="0.62"/>
<circle cx="520" cy="522.4" r="1.6" fill="none" stroke="#5f5f5f" stroke-width="0.62"/>
<circle cx="513.3" cy="524.7" r="1.6" fill="none" stroke="#5f5f5f" stroke-width="0.62"/>
<circle cx="516.4" cy="533.5" r="1.6" fill="none" stroke="#5f5f5f" stroke-width="0.62"/>
<circle cx="516.4" cy="540.1" r="1.6" fill="none" stroke="#5f5f5f" stroke-width="0.62"/>
<line x1="579.3" y1="522.4" x2="579.3" y2="532.1" stroke="#505050" stroke-width="0.9"/>
<line x1="568.8" y1="522.4" x2="589.8" y2="522.4" stroke="#505050" stroke-width="0.9"/>
<line x1="579.3" y1="546.6" x2="579.3" y2="561.5" stroke="#505050" stroke-width="0.9"/>
<line x1="568.8" y1="561.5" x2="589.8" y2="561.5" stroke="#505050" stroke-width="0.9"/>
<rect x="558.3" y="532.1" width="42.3" height="14.5" fill="#d4883f" stroke="#3a3a3a" stroke-width="0.8"/>
<line x1="558.3" y1="541.4" x2="600.6" y2="541.4" stroke="#222" stroke-width="1.0"/>
<circle cx="576" cy="522.4" r="1.6" fill="none" stroke="#5f5f5f" stroke-width="0.62"/>
<circle cx="583" cy="523.8" r="1.6" fill="none" stroke="#5f5f5f" stroke-width="0.62"/>
<circle cx="576" cy="535.6" r="1.6" fill="none" stroke="#5f5f5f" stroke-width="0.62"/>
<circle cx="583" cy="534.3" r="1.6" fill="none" stroke="#5f5f5f" stroke-width="0.62"/>
<circle cx="576" cy="541.7" r="1.6" fill="none" stroke="#5f5f5f" stroke-width="0.62"/>
<circle cx="583" cy="540.5" r="1.6" fill="none" stroke="#5f5f5f" stroke-width="0.62"/>
<circle cx="576" cy="546.1" r="1.6" fill="none" stroke="#5f5f5f" stroke-width="0.62"/>
<circle cx="583" cy="544.3" r="1.6" fill="none" stroke="#5f5f5f" stroke-width="0.62"/>
<circle cx="579.3" cy="549.6" r="1.6" fill="none" stroke="#5f5f5f" stroke-width="0.62"/>
<circle cx="579.3" cy="561.5" r="1.6" fill="none" stroke="#5f5f5f" stroke-width="0.62"/>
<line x1="642.2" y1="525.5" x2="642.2" y2="527.7" stroke="#505050" stroke-width="0.9"/>
<line x1="631.7" y1="525.5" x2="652.7" y2="525.5" stroke="#505050" stroke-width="0.9"/>
<line x1="642.2" y1="554.6" x2="642.2" y2="573" stroke="#505050" stroke-width="0.9"/>
<line x1="631.7" y1="573" x2="652.7" y2="573" stroke="#505050" stroke-width="0.9"/>
<rect x="621.3" y="527.7" width="42.3" height="26.9" fill="#fde5cc" stroke="#3a3a3a" stroke-width="0.8"/>
<line x1="621.3" y1="531.1" x2="663.6" y2="531.1" stroke="#222" stroke-width="1.0"/>
<circle cx="642.2" cy="525.1" r="1.6" fill="none" stroke="#5f5f5f" stroke-width="0.62"/>
<circle cx="635.4" cy="528" r="1.6" fill="none" stroke="#5f5f5f" stroke-width="0.62"/>
<circle cx="642.2" cy="528.9" r="1.6" fill="none" stroke="#5f5f5f" stroke-width="0.62"/>
<circle cx="649" cy="526.8" r="1.6" fill="none" stroke="#5f5f5f" stroke-width="0.62"/>
<circle cx="635.4" cy="532.6" r="1.6" fill="none" stroke="#5f5f5f" stroke-width="0.62"/>
<circle cx="649" cy="530.9" r="1.6" fill="none" stroke="#5f5f5f" stroke-width="0.62"/>
<circle cx="642.2" cy="539.7" r="1.6" fill="none" stroke="#5f5f5f" stroke-width="0.62"/>
<circle cx="642.2" cy="550.6" r="1.6" fill="none" stroke="#5f5f5f" stroke-width="0.62"/>
<circle cx="642.2" cy="566.5" r="1.6" fill="none" stroke="#5f5f5f" stroke-width="0.62"/>
<circle cx="642.2" cy="573" r="1.6" fill="none" stroke="#5f5f5f" stroke-width="0.62"/>
<path d="M514.5 468.3 V466.5 H579.5 V468.3" fill="none" stroke="#333" stroke-width="1"/>
<text x="528.2" y="462.8" font-family='"Liberation Sans", sans-serif' font-size="5.55" fill="#111"><tspan font-style="italic">p</tspan> = 4.3<tspan font-size="7.21" dx="0.56" dy="0.67">×</tspan><tspan dx="1.11" dy="-0.67">10</tspan><tspan font-size="3.88" dy="-2.22">-3</tspan></text>
<path d="M514.5 458.3 V455.5 H643.5 V458.3" fill="none" stroke="#333" stroke-width="1"/>
<text x="556.6" y="453.1" font-family='"Liberation Sans", sans-serif' font-size="5.55" fill="#111"><tspan font-style="italic">p</tspan> = 7.4<tspan font-size="7.21" dx="0.56" dy="0.67">×</tspan><tspan dx="1.11" dy="-0.67">10</tspan><tspan font-size="3.88" dy="-2.22">-3</tspan></text>
<text x="444.6" y="677.8" font-family='"Liberation Sans", sans-serif' font-size="11.5" text-anchor="start" fill="#111" font-weight="bold" >g</text>
<line x1="474.3" y1="700.1" x2="474.3" y2="861.4" stroke="#555" stroke-width="0.9"/>
<line x1="469" y1="861.4" x2="684.3" y2="861.4" stroke="#555" stroke-width="0.9"/>
<line x1="469" y1="861.4" x2="474.3" y2="861.4" stroke="#555" stroke-width="0.9"/>
<text x="467" y="865.15" font-family='"Liberation Sans", sans-serif' font-size="10.4" text-anchor="end" fill="#111" letter-spacing="0.5">40</text>
<line x1="469" y1="807.63" x2="474.3" y2="807.63" stroke="#555" stroke-width="0.9"/>
<text x="467" y="811.38" font-family='"Liberation Sans", sans-serif' font-size="10.4" text-anchor="end" fill="#111" letter-spacing="0.5">60</text>
<line x1="469" y1="753.87" x2="474.3" y2="753.87" stroke="#555" stroke-width="0.9"/>
<text x="467" y="757.62" font-family='"Liberation Sans", sans-serif' font-size="10.4" text-anchor="end" fill="#111" letter-spacing="0.5">80</text>
<line x1="469" y1="700.1" x2="474.3" y2="700.1" stroke="#555" stroke-width="0.9"/>
<text x="467" y="703.85" font-family='"Liberation Sans", sans-serif' font-size="10.4" text-anchor="end" fill="#111" letter-spacing="0.5">100</text>
<line x1="516.5" y1="861.4" x2="516.5" y2="866.6" stroke="#555" stroke-width="0.9"/>
<line x1="579.4" y1="861.4" x2="579.4" y2="866.6" stroke="#555" stroke-width="0.9"/>
<line x1="642.4" y1="861.4" x2="642.4" y2="866.6" stroke="#555" stroke-width="0.9"/>
<text x="516.5" y="877.5" font-family='"Liberation Sans", sans-serif' font-size="10" text-anchor="middle" fill="#111" >CK</text>
<text x="579.4" y="877.5" font-family='"Liberation Sans", sans-serif' font-size="10" text-anchor="middle" fill="#111" font-style="italic" >Globin-1</text>
<text x="642.4" y="877.5" font-family='"Liberation Sans", sans-serif' font-size="10" text-anchor="middle" fill="#111" font-style="italic" >HMP</text>
<text transform="translate(432.6,776.4) rotate(-90)" font-family='"Liberation Sans", sans-serif' font-size="10.25" text-anchor="middle" fill="#111">mCherry-tagged rhizobia</text>
<text transform="translate(443.6,776.5) rotate(-90)" font-family='"Liberation Sans", sans-serif' font-size="10.15" text-anchor="middle" fill="#111">in infected cells (%)</text>
<line x1="516.4" y1="731.9" x2="516.4" y2="745.4" stroke="#505050" stroke-width="0.9"/>
<line x1="505.9" y1="731.9" x2="526.9" y2="731.9" stroke="#505050" stroke-width="0.9"/>
<line x1="516.4" y1="786.6" x2="516.4" y2="799" stroke="#505050" stroke-width="0.9"/>
<line x1="505.9" y1="799" x2="526.9" y2="799" stroke="#505050" stroke-width="0.9"/>
<rect x="495.4" y="745.4" width="42.4" height="41.2" fill="#4f7f14" stroke="#3a3a3a" stroke-width="0.8"/>
<line x1="495.4" y1="769.6" x2="537.8" y2="769.6" stroke="#222" stroke-width="1.0"/>
<circle cx="516.4" cy="731.9" r="1.6" fill="none" stroke="#5f5f5f" stroke-width="0.62"/>
<circle cx="516.4" cy="737.2" r="1.6" fill="none" stroke="#5f5f5f" stroke-width="0.62"/>
<circle cx="516.4" cy="747.7" r="1.6" fill="none" stroke="#5f5f5f" stroke-width="0.62"/>
<circle cx="516.4" cy="762.6" r="1.6" fill="none" stroke="#5f5f5f" stroke-width="0.62"/>
<circle cx="516.4" cy="767" r="1.6" fill="none" stroke="#5f5f5f" stroke-width="0.62"/>
<circle cx="516.4" cy="771.4" r="1.6" fill="none" stroke="#5f5f5f" stroke-width="0.62"/>
<circle cx="516.4" cy="778" r="1.6" fill="none" stroke="#5f5f5f" stroke-width="0.62"/>
<circle cx="516.4" cy="784.5" r="1.6" fill="none" stroke="#5f5f5f" stroke-width="0.62"/>
<circle cx="516.4" cy="793.8" r="1.6" fill="none" stroke="#5f5f5f" stroke-width="0.62"/>
<circle cx="516.4" cy="799" r="1.6" fill="none" stroke="#5f5f5f" stroke-width="0.62"/>
<line x1="579.3" y1="706.5" x2="579.3" y2="715.6" stroke="#505050" stroke-width="0.9"/>
<line x1="568.8" y1="706.5" x2="589.8" y2="706.5" stroke="#505050" stroke-width="0.9"/>
<line x1="579.3" y1="736.3" x2="579.3" y2="747.2" stroke="#505050" stroke-width="0.9"/>
<line x1="568.8" y1="747.2" x2="589.8" y2="747.2" stroke="#505050" stroke-width="0.9"/>
<rect x="558.3" y="715.6" width="42.2" height="20.7" fill="#d4883f" stroke="#3a3a3a" stroke-width="0.8"/>
<line x1="558.3" y1="727.2" x2="600.5" y2="727.2" stroke="#222" stroke-width="1.0"/>
<circle cx="579.3" cy="706.5" r="1.6" fill="none" stroke="#5f5f5f" stroke-width="0.62"/>
<circle cx="579.3" cy="712.7" r="1.6" fill="none" stroke="#5f5f5f" stroke-width="0.62"/>
<circle cx="579.3" cy="716.2" r="1.6" fill="none" stroke="#5f5f5f" stroke-width="0.62"/>
<circle cx="579.3" cy="721.4" r="1.6" fill="none" stroke="#5f5f5f" stroke-width="0.62"/>
<circle cx="572.9" cy="728.4" r="1.6" fill="none" stroke="#5f5f5f" stroke-width="0.62"/>
<circle cx="586" cy="726.7" r="1.6" fill="none" stroke="#5f5f5f" stroke-width="0.62"/>
<circle cx="579.3" cy="729.3" r="1.6" fill="none" stroke="#5f5f5f" stroke-width="0.62"/>
<circle cx="579.3" cy="733.7" r="1.6" fill="none" stroke="#5f5f5f" stroke-width="0.62"/>
<circle cx="583" cy="744.2" r="1.6" fill="none" stroke="#5f5f5f" stroke-width="0.62"/>
<circle cx="576" cy="747.2" r="1.6" fill="none" stroke="#5f5f5f" stroke-width="0.62"/>
<line x1="642.4" y1="716" x2="642.4" y2="727.9" stroke="#505050" stroke-width="0.9"/>
<line x1="631.9" y1="716" x2="652.9" y2="716" stroke="#505050" stroke-width="0.9"/>
<line x1="642.4" y1="755.4" x2="642.4" y2="769.6" stroke="#505050" stroke-width="0.9"/>
<line x1="631.9" y1="769.6" x2="652.9" y2="769.6" stroke="#505050" stroke-width="0.9"/>
<rect x="621.6" y="727.9" width="41.8" height="27.5" fill="#fde5cc" stroke="#3a3a3a" stroke-width="0.8"/>
<line x1="621.6" y1="738.3" x2="663.4" y2="738.3" stroke="#222" stroke-width="1.0"/>
<circle cx="642.4" cy="715.5" r="1.6" fill="none" stroke="#5f5f5f" stroke-width="0.62"/>
<circle cx="642.4" cy="721.5" r="1.6" fill="none" stroke="#5f5f5f" stroke-width="0.62"/>
<circle cx="642.4" cy="729.8" r="1.6" fill="none" stroke="#5f5f5f" stroke-width="0.62"/>
<circle cx="638.8" cy="734.9" r="1.6" fill="none" stroke="#5f5f5f" stroke-width="0.62"/>
<circle cx="645.8" cy="736.8" r="1.6" fill="none" stroke="#5f5f5f" stroke-width="0.62"/>
<circle cx="638.8" cy="740.2" r="1.6" fill="none" stroke="#5f5f5f" stroke-width="0.62"/>
<circle cx="645.8" cy="742.7" r="1.6" fill="none" stroke="#5f5f5f" stroke-width="0.62"/>
<circle cx="642.4" cy="754.7" r="1.6" fill="none" stroke="#5f5f5f" stroke-width="0.62"/>
<circle cx="642.4" cy="759.1" r="1.6" fill="none" stroke="#5f5f5f" stroke-width="0.62"/>
<circle cx="642.4" cy="769.6" r="1.6" fill="none" stroke="#5f5f5f" stroke-width="0.62"/>
<path d="M514.5 700.4 V697.5 H579.5 V700.4" fill="none" stroke="#333" stroke-width="1"/>
<text x="527.3" y="694" font-family='"Liberation Sans", sans-serif' font-size="5.55" fill="#111"><tspan font-style="italic">p</tspan> = 1.0<tspan font-size="7.21" dx="0.56" dy="0.67">×</tspan><tspan dx="1.11" dy="-0.67">10</tspan><tspan font-size="3.88" dy="-2.22">-3</tspan></text>
<path d="M514.5 689.9 V687.5 H642.5 V689.9" fill="none" stroke="#333" stroke-width="1"/>
<text x="566.7" y="684" font-family='"Liberation Sans", sans-serif' font-size="5.55" fill="#111"><tspan font-style="italic">p</tspan> = 0.04</text>
<text x="6.1" y="436.4" font-family='"Liberation Sans", sans-serif' font-size="11.5" text-anchor="start" fill="#111" font-weight="bold" >c</text>
<line x1="56.3" y1="446.5" x2="56.3" y2="623.4" stroke="#555" stroke-width="0.9"/>
<line x1="51.3" y1="623.4" x2="415" y2="623.4" stroke="#555" stroke-width="0.9"/>
<line x1="51.3" y1="623.4" x2="56.3" y2="623.4" stroke="#555" stroke-width="0.9"/>
<text x="49.5" y="627.15" font-family='"Liberation Sans", sans-serif' font-size="10.4" text-anchor="end" fill="#111" letter-spacing="0.5">0.0</text>
<line x1="51.3" y1="579.17" x2="56.3" y2="579.17" stroke="#555" stroke-width="0.9"/>
<text x="49.5" y="582.92" font-family='"Liberation Sans", sans-serif' font-size="10.4" text-anchor="end" fill="#111" letter-spacing="0.5">0.5</text>
<line x1="51.3" y1="534.95" x2="56.3" y2="534.95" stroke="#555" stroke-width="0.9"/>
<text x="49.5" y="538.7" font-family='"Liberation Sans", sans-serif' font-size="10.4" text-anchor="end" fill="#111" letter-spacing="0.5">1.0</text>
<line x1="51.3" y1="490.72" x2="56.3" y2="490.72" stroke="#555" stroke-width="0.9"/>
<text x="49.5" y="494.47" font-family='"Liberation Sans", sans-serif' font-size="10.4" text-anchor="end" fill="#111" letter-spacing="0.5">1.5</text>
<line x1="51.3" y1="446.5" x2="56.3" y2="446.5" stroke="#555" stroke-width="0.9"/>
<text x="49.5" y="450.25" font-family='"Liberation Sans", sans-serif' font-size="10.4" text-anchor="end" fill="#111" letter-spacing="0.5">2.0</text>
<text transform="translate(20.6,529.5) rotate(-90)" font-family='"Liberation Sans", sans-serif' font-size="10" text-anchor="middle" fill="#111">Relative NO intensity</text>
<line x1="112.8" y1="623.4" x2="112.8" y2="628" stroke="#a8a8a8" stroke-width="1.0"/>
<line x1="235.2" y1="623.4" x2="235.2" y2="628" stroke="#a8a8a8" stroke-width="1.0"/>
<line x1="357.4" y1="623.4" x2="357.4" y2="628" stroke="#a8a8a8" stroke-width="1.0"/>
<text transform="translate(112.7,638.8) scale(1.06,1)" font-family='"Liberation Sans", sans-serif' font-size="10.4" text-anchor="middle" fill="#111" >WT</text>
<text transform="translate(235,638.8) scale(1.18,1)" font-family='"Liberation Sans", sans-serif' font-size="9.6" text-anchor="middle" fill="#111" font-style="italic" >sultr2;1ab-1</text>
<text transform="translate(357.8,638.8) scale(1.18,1)" font-family='"Liberation Sans", sans-serif' font-size="9.6" text-anchor="middle" fill="#111" font-style="italic" >sultr3;5ab-1</text>
<line x1="73.8" y1="549.1" x2="73.8" y2="561.2" stroke="#505050" stroke-width="0.9"/>
<line x1="69.8" y1="549.1" x2="77.8" y2="549.1" stroke="#505050" stroke-width="0.9"/>
<line x1="73.8" y1="585.6" x2="73.8" y2="588.9" stroke="#505050" stroke-width="0.9"/>
<line x1="69.8" y1="588.9" x2="77.8" y2="588.9" stroke="#505050" stroke-width="0.9"/>
<rect x="65.1" y="561.2" width="17.6" height="24.4" fill="#4f7f14" stroke="#3a3a3a" stroke-width="0.8"/>
<line x1="65.1" y1="575.2" x2="82.7" y2="575.2" stroke="#222" stroke-width="1.0"/>
<circle cx="73.8" cy="549.1" r="1.6" fill="none" stroke="#5f5f5f" stroke-width="0.62"/>
<circle cx="73.8" cy="556.2" r="1.6" fill="none" stroke="#5f5f5f" stroke-width="0.62"/>
<circle cx="73.8" cy="562.9" r="1.6" fill="none" stroke="#5f5f5f" stroke-width="0.62"/>
<circle cx="73.8" cy="573" r="1.6" fill="none" stroke="#5f5f5f" stroke-width="0.62"/>
<circle cx="67.1" cy="575.5" r="1.6" fill="none" stroke="#5f5f5f" stroke-width="0.62"/>
<circle cx="80.5" cy="574.2" r="1.6" fill="none" stroke="#5f5f5f" stroke-width="0.62"/>
<circle cx="73.8" cy="581.4" r="1.6" fill="none" stroke="#5f5f5f" stroke-width="0.62"/>
<circle cx="70.1" cy="589.8" r="1.6" fill="none" stroke="#5f5f5f" stroke-width="0.62"/>
<circle cx="76.8" cy="588.9" r="1.6" fill="none" stroke="#5f5f5f" stroke-width="0.62"/>
<line x1="100" y1="564.1" x2="100" y2="577.2" stroke="#505050" stroke-width="0.9"/>
<line x1="96" y1="564.1" x2="104" y2="564.1" stroke="#505050" stroke-width="0.9"/>
<line x1="100" y1="596.5" x2="100" y2="602.4" stroke="#505050" stroke-width="0.9"/>
<line x1="96" y1="602.4" x2="104" y2="602.4" stroke="#505050" stroke-width="0.9"/>
<rect x="91.6" y="577.2" width="17.1" height="19.3" fill="#d4883f" stroke="#3a3a3a" stroke-width="0.8"/>
<line x1="91.6" y1="588.1" x2="108.7" y2="588.1" stroke="#222" stroke-width="1.0"/>
<circle cx="100" cy="564.1" r="1.6" fill="none" stroke="#5f5f5f" stroke-width="0.62"/>
<circle cx="103.7" cy="575.5" r="1.6" fill="none" stroke="#5f5f5f" stroke-width="0.62"/>
<circle cx="97" cy="577.5" r="1.6" fill="none" stroke="#5f5f5f" stroke-width="0.62"/>
<circle cx="100" cy="583.6" r="1.6" fill="none" stroke="#5f5f5f" stroke-width="0.62"/>
<circle cx="107" cy="581.9" r="1.6" fill="none" stroke="#5f5f5f" stroke-width="0.62"/>
<circle cx="100" cy="592.6" r="1.6" fill="none" stroke="#5f5f5f" stroke-width="0.62"/>
<circle cx="93.3" cy="594" r="1.6" fill="none" stroke="#5f5f5f" stroke-width="0.62"/>
<circle cx="100" cy="599" r="1.6" fill="none" stroke="#5f5f5f" stroke-width="0.62"/>
<circle cx="100" cy="602.4" r="1.6" fill="none" stroke="#5f5f5f" stroke-width="0.62"/>
<line x1="126.2" y1="538.2" x2="126.2" y2="554" stroke="#505050" stroke-width="0.9"/>
<line x1="122.2" y1="538.2" x2="130.2" y2="538.2" stroke="#505050" stroke-width="0.9"/>
<line x1="126.2" y1="586.8" x2="126.2" y2="599" stroke="#505050" stroke-width="0.9"/>
<line x1="122.2" y1="599" x2="130.2" y2="599" stroke="#505050" stroke-width="0.9"/>
<rect x="117.4" y="554" width="17.3" height="32.8" fill="#f5c48f" stroke="#3a3a3a" stroke-width="0.8"/>
<line x1="117.4" y1="576.3" x2="134.7" y2="576.3" stroke="#222" stroke-width="1.0"/>
<circle cx="126.2" cy="538.2" r="1.6" fill="none" stroke="#5f5f5f" stroke-width="0.62"/>
<circle cx="126.2" cy="549.1" r="1.6" fill="none" stroke="#5f5f5f" stroke-width="0.62"/>
<circle cx="126.2" cy="555.4" r="1.6" fill="none" stroke="#5f5f5f" stroke-width="0.62"/>
<circle cx="126.2" cy="564.1" r="1.6" fill="none" stroke="#5f5f5f" stroke-width="0.62"/>
<circle cx="126.2" cy="572.1" r="1.6" fill="none" stroke="#5f5f5f" stroke-width="0.62"/>
<circle cx="122.1" cy="581.4" r="1.6" fill="none" stroke="#5f5f5f" stroke-width="0.62"/>
<circle cx="129.7" cy="582.7" r="1.6" fill="none" stroke="#5f5f5f" stroke-width="0.62"/>
<circle cx="122.1" cy="584.2" r="1.6" fill="none" stroke="#5f5f5f" stroke-width="0.62"/>
<circle cx="126.2" cy="591.8" r="1.6" fill="none" stroke="#5f5f5f" stroke-width="0.62"/>
<circle cx="126.2" cy="599" r="1.6" fill="none" stroke="#5f5f5f" stroke-width="0.62"/>
<line x1="152.4" y1="586.4" x2="152.4" y2="594.3" stroke="#505050" stroke-width="0.9"/>
<line x1="148.4" y1="586.4" x2="156.4" y2="586.4" stroke="#505050" stroke-width="0.9"/>
<line x1="152.4" y1="607.7" x2="152.4" y2="610.8" stroke="#505050" stroke-width="0.9"/>
<line x1="148.4" y1="610.8" x2="156.4" y2="610.8" stroke="#505050" stroke-width="0.9"/>
<rect x="144" y="594.3" width="17.3" height="13.4" fill="#fde5cc" stroke="#3a3a3a" stroke-width="0.8"/>
<line x1="144" y1="604.9" x2="161.3" y2="604.9" stroke="#222" stroke-width="1.0"/>
<circle cx="152.4" cy="585.6" r="1.6" fill="none" stroke="#5f5f5f" stroke-width="0.62"/>
<circle cx="152.4" cy="591.5" r="1.6" fill="none" stroke="#5f5f5f" stroke-width="0.62"/>
<circle cx="152.4" cy="595.6" r="1.6" fill="none" stroke="#5f5f5f" stroke-width="0.62"/>
<circle cx="152.4" cy="599.8" r="1.6" fill="none" stroke="#5f5f5f" stroke-width="0.62"/>
<circle cx="149.8" cy="603.2" r="1.6" fill="none" stroke="#5f5f5f" stroke-width="0.62"/>
<circle cx="155.7" cy="605.7" r="1.6" fill="none" stroke="#5f5f5f" stroke-width="0.62"/>
<circle cx="149" cy="606.6" r="1.6" fill="none" stroke="#5f5f5f" stroke-width="0.62"/>
<circle cx="152.4" cy="608.2" r="1.6" fill="none" stroke="#5f5f5f" stroke-width="0.62"/>
<circle cx="149.8" cy="611.6" r="1.6" fill="none" stroke="#5f5f5f" stroke-width="0.62"/>
<circle cx="154.9" cy="610.4" r="1.6" fill="none" stroke="#5f5f5f" stroke-width="0.62"/>
<line x1="196.1" y1="469.3" x2="196.1" y2="492.9" stroke="#505050" stroke-width="0.9"/>
<line x1="192.1" y1="469.3" x2="200.1" y2="469.3" stroke="#505050" stroke-width="0.9"/>
<line x1="196.1" y1="530.4" x2="196.1" y2="546.5" stroke="#505050" stroke-width="0.9"/>
<line x1="192.1" y1="546.5" x2="200.1" y2="546.5" stroke="#505050" stroke-width="0.9"/>
<rect x="187.3" y="492.9" width="17.4" height="37.5" fill="#4f7f14" stroke="#3a3a3a" stroke-width="0.8"/>
<line x1="187.3" y1="511.6" x2="204.7" y2="511.6" stroke="#222" stroke-width="1.0"/>
<circle cx="196.1" cy="469.3" r="1.6" fill="none" stroke="#5f5f5f" stroke-width="0.62"/>
<circle cx="196.1" cy="477" r="1.6" fill="none" stroke="#5f5f5f" stroke-width="0.62"/>
<circle cx="196.1" cy="497.9" r="1.6" fill="none" stroke="#5f5f5f" stroke-width="0.62"/>
<circle cx="196.1" cy="505.4" r="1.6" fill="none" stroke="#5f5f5f" stroke-width="0.62"/>
<circle cx="192.1" cy="511.2" r="1.6" fill="none" stroke="#5f5f5f" stroke-width="0.62"/>
<circle cx="200.3" cy="510.5" r="1.6" fill="none" stroke="#5f5f5f" stroke-width="0.62"/>
<circle cx="196.1" cy="521.1" r="1.6" fill="none" stroke="#5f5f5f" stroke-width="0.62"/>
<circle cx="196.1" cy="527.5" r="1.6" fill="none" stroke="#5f5f5f" stroke-width="0.62"/>
<circle cx="196.1" cy="538.5" r="1.6" fill="none" stroke="#5f5f5f" stroke-width="0.62"/>
<circle cx="196.1" cy="546.5" r="1.6" fill="none" stroke="#5f5f5f" stroke-width="0.62"/>
<line x1="222.4" y1="537.4" x2="222.4" y2="549.1" stroke="#505050" stroke-width="0.9"/>
<line x1="218.4" y1="537.4" x2="226.4" y2="537.4" stroke="#505050" stroke-width="0.9"/>
<line x1="222.4" y1="575.6" x2="222.4" y2="582.2" stroke="#505050" stroke-width="0.9"/>
<line x1="218.4" y1="582.2" x2="226.4" y2="582.2" stroke="#505050" stroke-width="0.9"/>
<rect x="213.5" y="549.1" width="17.7" height="26.5" fill="#d4883f" stroke="#3a3a3a" stroke-width="0.8"/>
<line x1="213.5" y1="567.4" x2="231.2" y2="567.4" stroke="#222" stroke-width="1.0"/>
<circle cx="222.4" cy="537.4" r="1.6" fill="none" stroke="#5f5f5f" stroke-width="0.62"/>
<circle cx="226.3" cy="546.9" r="1.6" fill="none" stroke="#5f5f5f" stroke-width="0.62"/>
<circle cx="218.6" cy="549.1" r="1.6" fill="none" stroke="#5f5f5f" stroke-width="0.62"/>
<circle cx="222.4" cy="556.8" r="1.6" fill="none" stroke="#5f5f5f" stroke-width="0.62"/>
<circle cx="218.6" cy="567.9" r="1.6" fill="none" stroke="#5f5f5f" stroke-width="0.62"/>
<circle cx="226.3" cy="567.9" r="1.6" fill="none" stroke="#5f5f5f" stroke-width="0.62"/>
<circle cx="222.4" cy="571.2" r="1.6" fill="none" stroke="#5f5f5f" stroke-width="0.62"/>
<circle cx="218.6" cy="574.7" r="1.6" fill="none" stroke="#5f5f5f" stroke-width="0.62"/>
<circle cx="226.3" cy="576.7" r="1.6" fill="none" stroke="#5f5f5f" stroke-width="0.62"/>
<circle cx="222.4" cy="581.8" r="1.6" fill="none" stroke="#5f5f5f" stroke-width="0.62"/>
<line x1="248.8" y1="503.5" x2="248.8" y2="514.9" stroke="#505050" stroke-width="0.9"/>
<line x1="244.8" y1="503.5" x2="252.8" y2="503.5" stroke="#505050" stroke-width="0.9"/>
<line x1="248.8" y1="549.8" x2="248.8" y2="563.5" stroke="#505050" stroke-width="0.9"/>
<line x1="244.8" y1="563.5" x2="252.8" y2="563.5" stroke="#505050" stroke-width="0.9"/>
<rect x="240" y="514.9" width="17.7" height="34.9" fill="#f5c48f" stroke="#3a3a3a" stroke-width="0.8"/>
<line x1="240" y1="527.3" x2="257.7" y2="527.3" stroke="#222" stroke-width="1.0"/>
<circle cx="248.8" cy="503.5" r="1.6" fill="none" stroke="#5f5f5f" stroke-width="0.62"/>
<circle cx="244.6" cy="513.4" r="1.6" fill="none" stroke="#5f5f5f" stroke-width="0.62"/>
<circle cx="252.4" cy="514.9" r="1.6" fill="none" stroke="#5f5f5f" stroke-width="0.62"/>
<circle cx="248.8" cy="519.8" r="1.6" fill="none" stroke="#5f5f5f" stroke-width="0.62"/>
<circle cx="244.6" cy="528.6" r="1.6" fill="none" stroke="#5f5f5f" stroke-width="0.62"/>
<circle cx="252.8" cy="527.1" r="1.6" fill="none" stroke="#5f5f5f" stroke-width="0.62"/>
<circle cx="248.8" cy="535.9" r="1.6" fill="none" stroke="#5f5f5f" stroke-width="0.62"/>
<circle cx="248.8" cy="546.9" r="1.6" fill="none" stroke="#5f5f5f" stroke-width="0.62"/>
<circle cx="248.8" cy="558" r="1.6" fill="none" stroke="#5f5f5f" stroke-width="0.62"/>
<circle cx="248.8" cy="563.5" r="1.6" fill="none" stroke="#5f5f5f" stroke-width="0.62"/>
<line x1="274.9" y1="528.2" x2="274.9" y2="545.2" stroke="#505050" stroke-width="0.9"/>
<line x1="270.9" y1="528.2" x2="278.9" y2="528.2" stroke="#505050" stroke-width="0.9"/>
<line x1="274.9" y1="583.8" x2="274.9" y2="592.1" stroke="#505050" stroke-width="0.9"/>
<line x1="270.9" y1="592.1" x2="278.9" y2="592.1" stroke="#505050" stroke-width="0.9"/>
<rect x="266" y="545.2" width="17.7" height="38.6" fill="#fde5cc" stroke="#3a3a3a" stroke-width="0.8"/>
<line x1="266" y1="568.3" x2="283.7" y2="568.3" stroke="#222" stroke-width="1.0"/>
<circle cx="274.9" cy="528.2" r="1.6" fill="none" stroke="#5f5f5f" stroke-width="0.62"/>
<circle cx="274.9" cy="548" r="1.6" fill="none" stroke="#5f5f5f" stroke-width="0.62"/>
<circle cx="274.9" cy="555.2" r="1.6" fill="none" stroke="#5f5f5f" stroke-width="0.62"/>
<circle cx="274.9" cy="562.4" r="1.6" fill="none" stroke="#5f5f5f" stroke-width="0.62"/>
<circle cx="274.9" cy="574.9" r="1.6" fill="none" stroke="#5f5f5f" stroke-width="0.62"/>
<circle cx="270.9" cy="581.8" r="1.6" fill="none" stroke="#5f5f5f" stroke-width="0.62"/>
<circle cx="278.8" cy="581.8" r="1.6" fill="none" stroke="#5f5f5f" stroke-width="0.62"/>
<circle cx="278.2" cy="590" r="1.6" fill="none" stroke="#5f5f5f" stroke-width="0.62"/>
<circle cx="270.9" cy="592.8" r="1.6" fill="none" stroke="#5f5f5f" stroke-width="0.62"/>
<line x1="318.5" y1="457.7" x2="318.5" y2="482.2" stroke="#505050" stroke-width="0.9"/>
<line x1="314.5" y1="457.7" x2="322.5" y2="457.7" stroke="#505050" stroke-width="0.9"/>
<line x1="318.5" y1="532.7" x2="318.5" y2="535" stroke="#505050" stroke-width="0.9"/>
<line x1="314.5" y1="535" x2="322.5" y2="535" stroke="#505050" stroke-width="0.9"/>
<rect x="310" y="482.2" width="16.8" height="50.5" fill="#4f7f14" stroke="#3a3a3a" stroke-width="0.8"/>
<line x1="310" y1="498.3" x2="326.8" y2="498.3" stroke="#222" stroke-width="1.0"/>
<circle cx="318.5" cy="457.7" r="1.6" fill="none" stroke="#5f5f5f" stroke-width="0.62"/>
<circle cx="318.5" cy="479.1" r="1.6" fill="none" stroke="#5f5f5f" stroke-width="0.62"/>
<circle cx="314.7" cy="492.8" r="1.6" fill="none" stroke="#5f5f5f" stroke-width="0.62"/>
<circle cx="322.1" cy="492.1" r="1.6" fill="none" stroke="#5f5f5f" stroke-width="0.62"/>
<circle cx="318.5" cy="504" r="1.6" fill="none" stroke="#5f5f5f" stroke-width="0.62"/>
<circle cx="318.5" cy="515.4" r="1.6" fill="none" stroke="#5f5f5f" stroke-width="0.62"/>
<circle cx="314.7" cy="534.3" r="1.6" fill="none" stroke="#5f5f5f" stroke-width="0.62"/>
<circle cx="321.8" cy="534.3" r="1.6" fill="none" stroke="#5f5f5f" stroke-width="0.62"/>
<circle cx="316.6" cy="535.5" r="1.6" fill="none" stroke="#5f5f5f" stroke-width="0.62"/>
<line x1="344.6" y1="536.7" x2="344.6" y2="552.8" stroke="#505050" stroke-width="0.9"/>
<line x1="340.6" y1="536.7" x2="348.6" y2="536.7" stroke="#505050" stroke-width="0.9"/>
<line x1="344.6" y1="568.3" x2="344.6" y2="581" stroke="#505050" stroke-width="0.9"/>
<line x1="340.6" y1="581" x2="348.6" y2="581" stroke="#505050" stroke-width="0.9"/>
<rect x="336.3" y="552.8" width="17.1" height="15.5" fill="#d4883f" stroke="#3a3a3a" stroke-width="0.8"/>
<line x1="336.3" y1="564.5" x2="353.4" y2="564.5" stroke="#222" stroke-width="1.0"/>
<circle cx="344.6" cy="536.7" r="1.6" fill="none" stroke="#5f5f5f" stroke-width="0.62"/>
<circle cx="344.6" cy="544.5" r="1.6" fill="none" stroke="#5f5f5f" stroke-width="0.62"/>
<circle cx="341.5" cy="555.2" r="1.6" fill="none" stroke="#5f5f5f" stroke-width="0.62"/>
<circle cx="348.6" cy="555.2" r="1.6" fill="none" stroke="#5f5f5f" stroke-width="0.62"/>
<circle cx="344.6" cy="561.6" r="1.6" fill="none" stroke="#5f5f5f" stroke-width="0.62"/>
<circle cx="344.6" cy="565.2" r="1.6" fill="none" stroke="#5f5f5f" stroke-width="0.62"/>
<circle cx="350.3" cy="567.1" r="1.6" fill="none" stroke="#5f5f5f" stroke-width="0.62"/>
<circle cx="344.6" cy="570.4" r="1.6" fill="none" stroke="#5f5f5f" stroke-width="0.62"/>
<circle cx="344.6" cy="581" r="1.6" fill="none" stroke="#5f5f5f" stroke-width="0.62"/>
<line x1="370.7" y1="478.1" x2="370.7" y2="504.2" stroke="#505050" stroke-width="0.9"/>
<line x1="366.7" y1="478.1" x2="374.7" y2="478.1" stroke="#505050" stroke-width="0.9"/>
<line x1="370.7" y1="532.7" x2="370.7" y2="553.3" stroke="#505050" stroke-width="0.9"/>
<line x1="366.7" y1="553.3" x2="374.7" y2="553.3" stroke="#505050" stroke-width="0.9"/>
<rect x="362.4" y="504.2" width="17" height="28.5" fill="#f5c48f" stroke="#3a3a3a" stroke-width="0.8"/>
<line x1="362.4" y1="515.8" x2="379.4" y2="515.8" stroke="#222" stroke-width="1.0"/>
<circle cx="370.7" cy="478.1" r="1.6" fill="none" stroke="#5f5f5f" stroke-width="0.62"/>
<circle cx="370.7" cy="498.8" r="1.6" fill="none" stroke="#5f5f5f" stroke-width="0.62"/>
<circle cx="367.1" cy="505.9" r="1.6" fill="none" stroke="#5f5f5f" stroke-width="0.62"/>
<circle cx="374.7" cy="505.9" r="1.6" fill="none" stroke="#5f5f5f" stroke-width="0.62"/>
<circle cx="370.7" cy="511.8" r="1.6" fill="none" stroke="#5f5f5f" stroke-width="0.62"/>
<circle cx="370.7" cy="517.7" r="1.6" fill="none" stroke="#5f5f5f" stroke-width="0.62"/>
<circle cx="370.7" cy="522.5" r="1.6" fill="none" stroke="#5f5f5f" stroke-width="0.62"/>
<circle cx="370.7" cy="528.4" r="1.6" fill="none" stroke="#5f5f5f" stroke-width="0.62"/>
<circle cx="370.7" cy="544.5" r="1.6" fill="none" stroke="#5f5f5f" stroke-width="0.62"/>
<circle cx="370.7" cy="553.3" r="1.6" fill="none" stroke="#5f5f5f" stroke-width="0.62"/>
<line x1="396.8" y1="537.4" x2="396.8" y2="546.2" stroke="#505050" stroke-width="0.9"/>
<line x1="392.8" y1="537.4" x2="400.8" y2="537.4" stroke="#505050" stroke-width="0.9"/>
<line x1="396.8" y1="582.2" x2="396.8" y2="597.9" stroke="#505050" stroke-width="0.9"/>
<line x1="392.8" y1="597.9" x2="400.8" y2="597.9" stroke="#505050" stroke-width="0.9"/>
<rect x="388.5" y="546.2" width="17" height="36" fill="#fde5cc" stroke="#3a3a3a" stroke-width="0.8"/>
<line x1="388.5" y1="562.1" x2="405.5" y2="562.1" stroke="#222" stroke-width="1.0"/>
<circle cx="396.8" cy="537.4" r="1.6" fill="none" stroke="#5f5f5f" stroke-width="0.62"/>
<circle cx="393.7" cy="545.7" r="1.6" fill="none" stroke="#5f5f5f" stroke-width="0.62"/>
<circle cx="400.8" cy="546.2" r="1.6" fill="none" stroke="#5f5f5f" stroke-width="0.62"/>
<circle cx="396.8" cy="552.6" r="1.6" fill="none" stroke="#5f5f5f" stroke-width="0.62"/>
<circle cx="396.8" cy="559.7" r="1.6" fill="none" stroke="#5f5f5f" stroke-width="0.62"/>
<circle cx="393.7" cy="564.7" r="1.6" fill="none" stroke="#5f5f5f" stroke-width="0.62"/>
<circle cx="400.8" cy="565.9" r="1.6" fill="none" stroke="#5f5f5f" stroke-width="0.62"/>
<circle cx="396.8" cy="580.1" r="1.6" fill="none" stroke="#5f5f5f" stroke-width="0.62"/>
<circle cx="396.8" cy="590.5" r="1.6" fill="none" stroke="#5f5f5f" stroke-width="0.62"/>
<circle cx="396.8" cy="597.9" r="1.6" fill="none" stroke="#5f5f5f" stroke-width="0.62"/>
<path d="M74.5 523.2 V520.5 H157.5 V523.2" fill="none" stroke="#333" stroke-width="1"/>
<text x="102.6" y="518.22" font-family='"Liberation Sans", sans-serif' font-size="5.9" fill="#111"><tspan font-style="italic">p</tspan> = 3.6<tspan font-size="7.67" dx="0.59" dy="0.71">×</tspan><tspan dx="1.18" dy="-0.71">10</tspan><tspan font-size="4.13" dy="-2.36">-5</tspan></text>
<path d="M73.5 533.8 V531.5 H127.5 V533.8" fill="none" stroke="#333" stroke-width="1"/>
<text x="88.1" y="528.62" font-family='"Liberation Sans", sans-serif' font-size="5.9" fill="#111"><tspan font-style="italic">p</tspan> = 0.82</text>
<path d="M73.5 544 V541.5 H102.5 V544" fill="none" stroke="#333" stroke-width="1"/>
<text x="76.9" y="539.12" font-family='"Liberation Sans", sans-serif' font-size="5.9" fill="#111"><tspan font-style="italic">p</tspan> = 0.04</text>
<path d="M196.5 444.3 V440.5 H279.5 V444.3" fill="none" stroke="#333" stroke-width="1"/>
<text x="223" y="437.62" font-family='"Liberation Sans", sans-serif' font-size="5.9" fill="#111"><tspan font-style="italic">p</tspan> = 6.8<tspan font-size="7.67" dx="0.59" dy="0.71">×</tspan><tspan dx="1.18" dy="-0.71">10</tspan><tspan font-size="4.13" dy="-2.36">-5</tspan></text>
<path d="M196.5 454.7 V451.5 H250.5 V454.7" fill="none" stroke="#333" stroke-width="1"/>
<text x="209.8" y="448.62" font-family='"Liberation Sans", sans-serif' font-size="5.9" fill="#111"><tspan font-style="italic">p</tspan> = 0.05</text>
<path d="M196.5 465.7 V462.5 H225.5 V465.7" fill="none" stroke="#333" stroke-width="1"/>
<text x="197.6" y="459.72" font-family='"Liberation Sans", sans-serif' font-size="5.9" fill="#111"><tspan font-style="italic">p</tspan> = 1.8<tspan font-size="7.67" dx="0.59" dy="0.71">×</tspan><tspan dx="1.18" dy="-0.71">10</tspan><tspan font-size="4.13" dy="-2.36">-5</tspan></text>
<path d="M318.5 432.3 V428.5 H401.5 V432.3" fill="none" stroke="#333" stroke-width="1"/>
<text x="341.9" y="426.32" font-family='"Liberation Sans", sans-serif' font-size="5.9" fill="#111"><tspan font-style="italic">p</tspan> = 1.6<tspan font-size="7.67" dx="0.59" dy="0.71">×</tspan><tspan dx="1.18" dy="-0.71">10</tspan><tspan font-size="4.13" dy="-2.36">-9</tspan></text>
<path d="M318.5 442.3 V439.5 H372.5 V442.3" fill="none" stroke="#333" stroke-width="1"/>
<text x="335.6" y="436.42" font-family='"Liberation Sans", sans-serif' font-size="5.9" fill="#111"><tspan font-style="italic">p</tspan> = 0.21</text>
<path d="M318.5 453.3 V449.5 H347.5 V453.3" fill="none" stroke="#333" stroke-width="1"/>
<text x="320.2" y="446.32" font-family='"Liberation Sans", sans-serif' font-size="5.9" fill="#111"><tspan font-style="italic">p</tspan> = 7.5<tspan font-size="7.67" dx="0.59" dy="0.71">×</tspan><tspan dx="1.18" dy="-0.71">10</tspan><tspan font-size="4.13" dy="-2.36">-6</tspan></text>
<text x="19.7" y="665.9" font-family='"Liberation Sans", sans-serif' font-size="11.5" text-anchor="start" fill="#111" font-weight="bold" >d</text>
<text x="128.6" y="671.8" font-family='"Liberation Sans", sans-serif' font-size="10.3" text-anchor="middle" fill="#111" >CK</text>
<text x="203.3" y="671.8" font-family='"Liberation Sans", sans-serif' font-size="10.3" text-anchor="middle" fill="#111" font-style="italic" >Globin-1</text>
<text x="283" y="671.8" font-family='"Liberation Sans", sans-serif' font-size="10.3" text-anchor="middle" fill="#111" font-style="italic" >Globin-2</text>
<text x="350" y="671.8" font-family='"Liberation Sans", sans-serif' font-size="10.3" text-anchor="middle" fill="#111" font-style="italic" >HMP</text>
<text x="55.1" y="719.2" font-family='"Liberation Sans", sans-serif' font-size="10.3" text-anchor="start" fill="#111" >WT</text>
<text x="33.1" y="797.8" font-family='"Liberation Sans", sans-serif' font-size="10.3" text-anchor="start" fill="#111" font-style="italic" >sultr2;1ab-1</text>
<text x="31.7" y="869" font-family='"Liberation Sans", sans-serif' font-size="10.3" text-anchor="start" fill="#111" font-style="italic" >sultr3;5ab-1</text>
<text x="385.8" y="905.5" font-family='"Liberation Sans", sans-serif' font-size="7.2" text-anchor="end" fill="#111" >Bars = 1 mm</text>
<defs>
<filter id="nz" x="0" y="0" width="100%" height="100%"><feTurbulence type="fractalNoise" baseFrequency="0.8" numOctaves="2" seed="4" result="t"/><feColorMatrix in="t" type="matrix" values="0 0 0 0 1  0 0 0 0 0.95  0 0 0 0 0.82  0 0 0 0.9 -0.35" result="w"/><feComposite in="w" in2="SourceGraphic" operator="in"/></filter>
<linearGradient id="bg" x1="0" y1="0" x2="1" y2="1"><stop offset="0" stop-color="#1a2b2a"/><stop offset="1" stop-color="#122120"/></linearGradient>
<radialGradient id="gi0"><stop offset="0" stop-color="#b9784a"/><stop offset="0.75" stop-color="#b9784a"/><stop offset="1" stop-color="#b9784a" stop-opacity="0.55"/></radialGradient>
<radialGradient id="go0"><stop offset="0" stop-color="#e2e0c0"/><stop offset="0.72" stop-color="#e2e0c0"/><stop offset="1" stop-color="#dfe8f0"/></radialGradient>
<radialGradient id="gi1"><stop offset="0" stop-color="#ad6e42"/><stop offset="0.75" stop-color="#ad6e42"/><stop offset="1" stop-color="#ad6e42" stop-opacity="0.55"/></radialGradient>
<radialGradient id="go1"><stop offset="0" stop-color="#e2e0c0"/><stop offset="0.72" stop-color="#e2e0c0"/><stop offset="1" stop-color="#dfe8f0"/></radialGradient>
<radialGradient id="gi2"><stop offset="0" stop-color="#af6c40"/><stop offset="0.75" stop-color="#af6c40"/><stop offset="1" stop-color="#af6c40" stop-opacity="0.55"/></radialGradient>
<radialGradient id="go2"><stop offset="0" stop-color="#e2e0c0"/><stop offset="0.72" stop-color="#e2e0c0"/><stop offset="1" stop-color="#dfe8f0"/></radialGradient>
<radialGradient id="gi3"><stop offset="0" stop-color="#b57448"/><stop offset="0.75" stop-color="#b57448"/><stop offset="1" stop-color="#b57448" stop-opacity="0.55"/></radialGradient>
<radialGradient id="go3"><stop offset="0" stop-color="#e2e0c0"/><stop offset="0.72" stop-color="#e2e0c0"/><stop offset="1" stop-color="#dfe8f0"/></radialGradient>
<radialGradient id="gi4"><stop offset="0" stop-color="#a8cc80"/><stop offset="0.75" stop-color="#a8cc80"/><stop offset="1" stop-color="#a8cc80" stop-opacity="0.55"/></radialGradient>
<radialGradient id="go4"><stop offset="0" stop-color="#cfe0b0"/><stop offset="0.72" stop-color="#cfe0b0"/><stop offset="1" stop-color="#d4e6d0"/></radialGradient>
<radialGradient id="gi5"><stop offset="0" stop-color="#c4c6a6"/><stop offset="0.75" stop-color="#c4c6a6"/><stop offset="1" stop-color="#c4c6a6" stop-opacity="0.55"/></radialGradient>
<radialGradient id="go5"><stop offset="0" stop-color="#e0e4d4"/><stop offset="0.72" stop-color="#e0e4d4"/><stop offset="1" stop-color="#dfe8f0"/></radialGradient>
<radialGradient id="gi6"><stop offset="0" stop-color="#a8b670"/><stop offset="0.75" stop-color="#a8b670"/><stop offset="1" stop-color="#a8b670" stop-opacity="0.55"/></radialGradient>
<radialGradient id="go6"><stop offset="0" stop-color="#ccd4a8"/><stop offset="0.72" stop-color="#ccd4a8"/><stop offset="1" stop-color="#dfe8f0"/></radialGradient>
<radialGradient id="gi7"><stop offset="0" stop-color="#d9c08e"/><stop offset="0.75" stop-color="#d9c08e"/><stop offset="1" stop-color="#d9c08e" stop-opacity="0.55"/></radialGradient>
<radialGradient id="go7"><stop offset="0" stop-color="#e4e6d0"/><stop offset="0.72" stop-color="#e4e6d0"/><stop offset="1" stop-color="#dfe8f0"/></radialGradient>
<radialGradient id="gi8"><stop offset="0" stop-color="#a8cc80"/><stop offset="0.75" stop-color="#a8cc80"/><stop offset="1" stop-color="#a8cc80" stop-opacity="0.55"/></radialGradient>
<radialGradient id="go8"><stop offset="0" stop-color="#cfe0b0"/><stop offset="0.72" stop-color="#cfe0b0"/><stop offset="1" stop-color="#d4e6d0"/></radialGradient>
<radialGradient id="gi9"><stop offset="0" stop-color="#cdc4a2"/><stop offset="0.75" stop-color="#cdc4a2"/><stop offset="1" stop-color="#cdc4a2" stop-opacity="0.55"/></radialGradient>
<radialGradient id="go9"><stop offset="0" stop-color="#e2e4d4"/><stop offset="0.72" stop-color="#e2e4d4"/><stop offset="1" stop-color="#dfe8f0"/></radialGradient>
<radialGradient id="gi10"><stop offset="0" stop-color="#9eac6c"/><stop offset="0.75" stop-color="#9eac6c"/><stop offset="1" stop-color="#9eac6c" stop-opacity="0.55"/></radialGradient>
<radialGradient id="go10"><stop offset="0" stop-color="#c8cc9a"/><stop offset="0.72" stop-color="#c8cc9a"/><stop offset="1" stop-color="#dfe8f0"/></radialGradient>
<radialGradient id="gi11"><stop offset="0" stop-color="#d8b886"/><stop offset="0.75" stop-color="#d8b886"/><stop offset="1" stop-color="#d8b886" stop-opacity="0.55"/></radialGradient>
<radialGradient id="go11"><stop offset="0" stop-color="#e4e6d0"/><stop offset="0.72" stop-color="#e4e6d0"/><stop offset="1" stop-color="#dfe8f0"/></radialGradient>
</defs>
<rect x="90" y="676.8" width="71.8" height="72.1" fill="url(#bg)"/>
<rect x="164.1" y="676.8" width="72.9" height="72.1" fill="url(#bg)"/>
<rect x="239.5" y="676.8" width="71.4" height="72.1" fill="url(#bg)"/>
<rect x="313.6" y="676.8" width="72.6" height="72.1" fill="url(#bg)"/>
<rect x="90" y="754" width="71.8" height="69.9" fill="url(#bg)"/>
<rect x="164.1" y="754" width="72.9" height="69.9" fill="url(#bg)"/>
<rect x="239.5" y="754" width="71.4" height="69.9" fill="url(#bg)"/>
<rect x="313.6" y="754" width="72.6" height="69.9" fill="url(#bg)"/>
<rect x="90" y="829.3" width="71.8" height="68.7" fill="url(#bg)"/>
<rect x="164.1" y="829.3" width="72.9" height="68.7" fill="url(#bg)"/>
<rect x="239.5" y="829.3" width="71.4" height="68.7" fill="url(#bg)"/>
<rect x="313.6" y="829.3" width="72.6" height="68.7" fill="url(#bg)"/>
<g>
<path d="M160.27 714 C160.16 715.75 160.67 717.54 160.26 719.19 C159.86 720.84 158.46 722.29 157.84 723.91 C157.22 725.53 157.27 727.37 156.55 728.92 C155.82 730.46 154.66 731.88 153.48 733.17 C152.31 734.45 150.78 735.44 149.49 736.62 C148.19 737.79 147.2 739.35 145.72 740.24 C144.23 741.12 142.22 741.24 140.59 741.92 C138.96 742.61 137.6 743.79 135.96 744.34 C134.32 744.9 132.49 744.9 130.75 745.24 C129 745.58 127.31 746.02 125.5 746.37 C123.69 746.72 121.81 747.19 119.9 747.35 C117.98 747.51 115.81 747.84 114.01 747.33 C112.22 746.82 110.72 745.29 109.14 744.27 C107.56 743.26 105.98 742.33 104.52 741.22 C103.07 740.11 101.66 738.94 100.43 737.64 C99.19 736.34 97.97 734.96 97.13 733.43 C96.28 731.91 95.93 730.1 95.36 728.48 C94.78 726.87 94.39 725.31 93.67 723.75 C92.95 722.19 91.38 720.77 91.05 719.14 C90.72 717.52 91.81 715.73 91.67 714 C91.54 712.27 90.13 710.43 90.24 708.73 C90.35 707.04 91.59 705.43 92.33 703.84 C93.07 702.25 93.8 700.69 94.68 699.19 C95.55 697.7 96.57 696.29 97.58 694.88 C98.6 693.46 99.66 692.1 100.77 690.69 C101.88 689.28 102.8 687.48 104.24 686.41 C105.68 685.34 107.75 685.08 109.43 684.27 C111.11 683.46 112.58 682.17 114.32 681.55 C116.06 680.93 118.01 680.58 119.88 680.53 C121.74 680.48 123.67 680.98 125.5 681.26 C127.33 681.54 129.16 681.63 130.84 682.21 C132.52 682.79 134.01 683.99 135.59 684.73 C137.16 685.48 138.69 686.03 140.27 686.67 C141.85 687.31 143.41 687.93 145.08 688.59 C146.76 689.24 148.77 689.66 150.31 690.61 C151.84 691.56 153.08 692.95 154.29 694.28 C155.5 695.61 156.57 697.09 157.56 698.6 C158.54 700.11 159.65 701.68 160.22 703.36 C160.78 705.05 160.92 706.94 160.93 708.71 C160.94 710.48 160.38 712.25 160.27 714Z" fill="url(#go0)"/>
<circle cx="125.5" cy="746.37" r="0.93" fill="#c49a3c" opacity="0.75"/>
<circle cx="104.52" cy="741.22" r="1.13" fill="#c49a3c" opacity="0.75"/>
<circle cx="109.43" cy="684.27" r="1.16" fill="#c49a3c" opacity="0.75"/>
<circle cx="145.08" cy="688.59" r="0.97" fill="#c49a3c" opacity="0.75"/>
<circle cx="154.29" cy="694.28" r="0.65" fill="#c49a3c" opacity="0.75"/>
<circle cx="160.22" cy="703.36" r="0.8" fill="#c49a3c" opacity="0.75"/>
<path d="M147.43 712 C147.56 713.3 147.94 714.61 148.02 715.96 C148.1 717.3 148.01 718.67 147.9 720.08 C147.8 721.48 147.78 723.03 147.38 724.39 C146.98 725.75 146.25 727.04 145.49 728.23 C144.72 729.43 143.88 730.68 142.79 731.54 C141.7 732.4 140.18 732.79 138.94 733.39 C137.71 734 136.59 734.71 135.36 735.18 C134.13 735.65 132.8 735.79 131.56 736.19 C130.31 736.59 129.15 737.27 127.89 737.57 C126.63 737.88 125.28 738.15 124 738.03 C122.72 737.91 121.47 737.17 120.22 736.85 C118.96 736.53 117.69 736.46 116.48 736.09 C115.26 735.72 114.04 735.23 112.91 734.63 C111.78 734.03 110.75 733.23 109.7 732.47 C108.64 731.72 107.56 730.98 106.59 730.11 C105.61 729.24 104.63 728.3 103.83 727.24 C103.03 726.19 102.4 724.97 101.79 723.77 C101.17 722.57 100.71 721.32 100.14 720.06 C99.57 718.81 98.7 717.57 98.37 716.22 C98.03 714.88 98.08 713.4 98.12 712 C98.16 710.6 98.34 709.18 98.61 707.82 C98.89 706.45 99.16 705.04 99.75 703.81 C100.35 702.58 101.37 701.51 102.19 700.44 C103.01 699.38 103.89 698.43 104.7 697.41 C105.5 696.4 106.2 695.34 107.01 694.33 C107.83 693.32 108.6 692.18 109.59 691.37 C110.58 690.56 111.89 690.29 112.96 689.46 C114.03 688.64 114.84 687.1 116.01 686.42 C117.17 685.74 118.61 685.61 119.94 685.36 C121.27 685.12 122.65 684.92 124 684.95 C125.35 684.98 126.73 685.19 128.03 685.56 C129.32 685.92 130.53 686.64 131.76 687.16 C132.99 687.69 134.26 688.07 135.4 688.72 C136.54 689.38 137.49 690.35 138.6 691.1 C139.71 691.85 141.16 692.26 142.05 693.23 C142.93 694.2 143.33 695.72 143.93 696.94 C144.52 698.17 145.12 699.33 145.59 700.56 C146.06 701.79 146.48 703.04 146.75 704.31 C147.03 705.58 147.12 706.89 147.23 708.17 C147.35 709.45 147.3 710.7 147.43 712Z" fill="url(#gi0)"/>
<path d="M160.27 714 C160.16 715.75 160.67 717.54 160.26 719.19 C159.86 720.84 158.46 722.29 157.84 723.91 C157.22 725.53 157.27 727.37 156.55 728.92 C155.82 730.46 154.66 731.88 153.48 733.17 C152.31 734.45 150.78 735.44 149.49 736.62 C148.19 737.79 147.2 739.35 145.72 740.24 C144.23 741.12 142.22 741.24 140.59 741.92 C138.96 742.61 137.6 743.79 135.96 744.34 C134.32 744.9 132.49 744.9 130.75 745.24 C129 745.58 127.31 746.02 125.5 746.37 C123.69 746.72 121.81 747.19 119.9 747.35 C117.98 747.51 115.81 747.84 114.01 747.33 C112.22 746.82 110.72 745.29 109.14 744.27 C107.56 743.26 105.98 742.33 104.52 741.22 C103.07 740.11 101.66 738.94 100.43 737.64 C99.19 736.34 97.97 734.96 97.13 733.43 C96.28 731.91 95.93 730.1 95.36 728.48 C94.78 726.87 94.39 725.31 93.67 723.75 C92.95 722.19 91.38 720.77 91.05 719.14 C90.72 717.52 91.81 715.73 91.67 714 C91.54 712.27 90.13 710.43 90.24 708.73 C90.35 707.04 91.59 705.43 92.33 703.84 C93.07 702.25 93.8 700.69 94.68 699.19 C95.55 697.7 96.57 696.29 97.58 694.88 C98.6 693.46 99.66 692.1 100.77 690.69 C101.88 689.28 102.8 687.48 104.24 686.41 C105.68 685.34 107.75 685.08 109.43 684.27 C111.11 683.46 112.58 682.17 114.32 681.55 C116.06 680.93 118.01 680.58 119.88 680.53 C121.74 680.48 123.67 680.98 125.5 681.26 C127.33 681.54 129.16 681.63 130.84 682.21 C132.52 682.79 134.01 683.99 135.59 684.73 C137.16 685.48 138.69 686.03 140.27 686.67 C141.85 687.31 143.41 687.93 145.08 688.59 C146.76 689.24 148.77 689.66 150.31 690.61 C151.84 691.56 153.08 692.95 154.29 694.28 C155.5 695.61 156.57 697.09 157.56 698.6 C158.54 700.11 159.65 701.68 160.22 703.36 C160.78 705.05 160.92 706.94 160.93 708.71 C160.94 710.48 160.38 712.25 160.27 714Z" fill="#fff" filter="url(#nz)" opacity="0.16"/>
</g>
<g>
<path d="M231.12 715 C230.89 716.66 230.61 718.25 230.3 719.86 C230 721.47 229.79 723.1 229.3 724.65 C228.82 726.2 228.08 727.67 227.4 729.16 C226.71 730.65 226.17 732.3 225.18 733.59 C224.19 734.87 222.59 735.65 221.45 736.85 C220.32 738.06 219.65 739.84 218.38 740.84 C217.1 741.84 215.34 742.31 213.79 742.84 C212.23 743.37 210.58 743.53 209.03 744.01 C207.47 744.49 206.03 745.21 204.46 745.71 C202.89 746.21 201.27 746.71 199.6 747 C197.93 747.28 196.16 747.53 194.47 747.42 C192.77 747.31 191.14 746.67 189.42 746.32 C187.7 745.97 185.75 746.01 184.15 745.33 C182.54 744.65 180.99 743.53 179.81 742.24 C178.62 740.95 177.92 739.07 177.02 737.58 C176.11 736.1 175.1 734.8 174.39 733.31 C173.69 731.83 173.37 730.16 172.78 728.67 C172.19 727.17 171.51 725.8 170.88 724.33 C170.25 722.86 169.42 721.41 168.97 719.85 C168.53 718.3 168.48 716.66 168.21 715 C167.94 713.34 167.15 711.53 167.36 709.89 C167.57 708.26 168.77 706.74 169.48 705.21 C170.19 703.69 171.03 702.33 171.62 700.74 C172.21 699.15 172.15 697.11 173 695.67 C173.85 694.23 175.41 693.21 176.7 692.1 C177.99 691 179.42 690.12 180.74 689.04 C182.06 687.95 183.13 686.36 184.62 685.59 C186.1 684.82 188.01 684.86 189.66 684.4 C191.31 683.94 192.85 683.16 194.51 682.84 C196.16 682.52 197.93 682.31 199.6 682.47 C201.27 682.64 202.95 683.31 204.53 683.85 C206.12 684.39 207.65 685.01 209.11 685.73 C210.57 686.45 211.84 687.44 213.28 688.15 C214.72 688.86 216.33 689.23 217.76 690 C219.19 690.77 220.4 691.84 221.85 692.75 C223.31 693.65 225.27 694.26 226.5 695.46 C227.74 696.65 228.42 698.36 229.26 699.89 C230.1 701.41 231.17 702.94 231.57 704.61 C231.97 706.29 231.74 708.19 231.67 709.92 C231.59 711.65 231.34 713.34 231.12 715Z" fill="url(#go1)"/>
<circle cx="199.6" cy="747" r="0.62" fill="#c49a3c" opacity="0.75"/>
<circle cx="199.6" cy="682.47" r="1.13" fill="#c49a3c" opacity="0.75"/>
<path d="M220.46 714.4 C220.49 715.72 220.86 717.08 220.72 718.38 C220.59 719.68 220.15 721 219.65 722.19 C219.14 723.38 218.35 724.44 217.69 725.52 C217.03 726.61 216.43 727.71 215.69 728.69 C214.96 729.67 214.04 730.46 213.26 731.42 C212.48 732.38 211.89 733.62 210.99 734.43 C210.09 735.25 208.96 735.84 207.87 736.31 C206.78 736.79 205.54 736.73 204.44 737.28 C203.34 737.82 202.41 738.99 201.27 739.57 C200.13 740.14 198.84 740.58 197.6 740.72 C196.36 740.87 195.04 740.71 193.81 740.44 C192.57 740.18 191.37 739.64 190.2 739.14 C189.04 738.64 187.79 738.24 186.8 737.44 C185.81 736.64 185.05 735.38 184.26 734.35 C183.48 733.32 182.91 732.18 182.08 731.27 C181.24 730.37 179.96 729.88 179.23 728.91 C178.5 727.93 178.2 726.58 177.7 725.42 C177.2 724.26 176.75 723.12 176.24 721.94 C175.73 720.77 174.88 719.61 174.61 718.36 C174.35 717.1 174.69 715.73 174.65 714.4 C174.61 713.07 174.25 711.71 174.36 710.4 C174.47 709.09 174.8 707.73 175.3 706.52 C175.79 705.32 176.71 704.3 177.33 703.18 C177.96 702.05 178.42 700.86 179.06 699.76 C179.7 698.65 180.39 697.54 181.18 696.56 C181.98 695.57 182.92 694.7 183.85 693.83 C184.79 692.96 185.69 691.89 186.78 691.32 C187.88 690.76 189.23 690.67 190.43 690.43 C191.64 690.19 192.83 689.85 194.03 689.88 C195.22 689.9 196.42 690.5 197.6 690.58 C198.78 690.66 199.98 690.13 201.1 690.36 C202.22 690.58 203.22 691.52 204.31 691.94 C205.41 692.36 206.56 692.51 207.69 692.88 C208.82 693.26 209.97 693.67 211.11 694.19 C212.25 694.71 213.59 695.15 214.54 695.99 C215.49 696.83 216.02 698.16 216.81 699.23 C217.6 700.3 218.73 701.19 219.27 702.4 C219.8 703.61 219.8 705.14 220.02 706.48 C220.24 707.82 220.5 709.12 220.58 710.44 C220.65 711.76 220.44 713.08 220.46 714.4Z" fill="url(#gi1)"/>
<path d="M231.12 715 C230.89 716.66 230.61 718.25 230.3 719.86 C230 721.47 229.79 723.1 229.3 724.65 C228.82 726.2 228.08 727.67 227.4 729.16 C226.71 730.65 226.17 732.3 225.18 733.59 C224.19 734.87 222.59 735.65 221.45 736.85 C220.32 738.06 219.65 739.84 218.38 740.84 C217.1 741.84 215.34 742.31 213.79 742.84 C212.23 743.37 210.58 743.53 209.03 744.01 C207.47 744.49 206.03 745.21 204.46 745.71 C202.89 746.21 201.27 746.71 199.6 747 C197.93 747.28 196.16 747.53 194.47 747.42 C192.77 747.31 191.14 746.67 189.42 746.32 C187.7 745.97 185.75 746.01 184.15 745.33 C182.54 744.65 180.99 743.53 179.81 742.24 C178.62 740.95 177.92 739.07 177.02 737.58 C176.11 736.1 175.1 734.8 174.39 733.31 C173.69 731.83 173.37 730.16 172.78 728.67 C172.19 727.17 171.51 725.8 170.88 724.33 C170.25 722.86 169.42 721.41 168.97 719.85 C168.53 718.3 168.48 716.66 168.21 715 C167.94 713.34 167.15 711.53 167.36 709.89 C167.57 708.26 168.77 706.74 169.48 705.21 C170.19 703.69 171.03 702.33 171.62 700.74 C172.21 699.15 172.15 697.11 173 695.67 C173.85 694.23 175.41 693.21 176.7 692.1 C177.99 691 179.42 690.12 180.74 689.04 C182.06 687.95 183.13 686.36 184.62 685.59 C186.1 684.82 188.01 684.86 189.66 684.4 C191.31 683.94 192.85 683.16 194.51 682.84 C196.16 682.52 197.93 682.31 199.6 682.47 C201.27 682.64 202.95 683.31 204.53 683.85 C206.12 684.39 207.65 685.01 209.11 685.73 C210.57 686.45 211.84 687.44 213.28 688.15 C214.72 688.86 216.33 689.23 217.76 690 C219.19 690.77 220.4 691.84 221.85 692.75 C223.31 693.65 225.27 694.26 226.5 695.46 C227.74 696.65 228.42 698.36 229.26 699.89 C230.1 701.41 231.17 702.94 231.57 704.61 C231.97 706.29 231.74 708.19 231.67 709.92 C231.59 711.65 231.34 713.34 231.12 715Z" fill="#fff" filter="url(#nz)" opacity="0.16"/>
</g>
<g>
<path d="M307.16 712.6 C307.25 714.3 307.67 716.09 307.41 717.75 C307.15 719.41 306.31 721.03 305.58 722.56 C304.85 724.09 303.76 725.39 303.03 726.9 C302.3 728.42 302.19 730.35 301.21 731.65 C300.23 732.96 298.36 733.56 297.16 734.72 C295.95 735.88 295.12 737.35 293.97 738.62 C292.82 739.88 291.64 741.27 290.26 742.32 C288.88 743.37 287.28 744.23 285.67 744.91 C284.06 745.59 282.32 746.02 280.59 746.41 C278.86 746.8 277.06 747.25 275.3 747.24 C273.54 747.24 271.73 746.82 270.01 746.39 C268.3 745.96 266.5 745.6 265 744.69 C263.51 743.77 262.43 741.95 261.05 740.92 C259.66 739.89 257.99 739.52 256.7 738.51 C255.41 737.5 254.45 736.06 253.31 734.86 C252.17 733.66 251.04 732.52 249.85 731.32 C248.66 730.11 247.09 729.04 246.18 727.62 C245.26 726.2 244.88 724.42 244.35 722.78 C243.83 721.14 243.34 719.47 243.01 717.78 C242.67 716.08 242.42 714.34 242.32 712.6 C242.23 710.86 242.14 709.04 242.45 707.33 C242.75 705.63 243.65 704.04 244.15 702.36 C244.66 700.67 244.84 698.86 245.49 697.23 C246.14 695.59 247.07 694.03 248.06 692.56 C249.04 691.1 250.18 689.68 251.42 688.42 C252.65 687.16 253.97 685.86 255.49 685 C257.01 684.14 258.86 683.75 260.53 683.25 C262.19 682.75 263.83 682.29 265.48 682 C267.13 681.72 268.8 681.8 270.44 681.54 C272.08 681.29 273.66 680.61 275.3 680.48 C276.94 680.36 278.58 680.72 280.28 680.79 C281.97 680.85 283.75 680.67 285.48 680.88 C287.22 681.09 289.12 681.29 290.68 682.04 C292.25 682.78 293.44 684.29 294.85 685.36 C296.27 686.42 297.85 687.25 299.19 688.41 C300.53 689.57 301.89 690.85 302.89 692.31 C303.88 693.78 304.67 695.49 305.16 697.2 C305.65 698.91 305.52 700.84 305.81 702.56 C306.1 704.29 306.67 705.86 306.89 707.53 C307.12 709.21 307.07 710.9 307.16 712.6Z" fill="url(#go2)"/>
<circle cx="307.41" cy="717.75" r="0.79" fill="#c49a3c" opacity="0.75"/>
<circle cx="305.58" cy="722.56" r="1.14" fill="#c49a3c" opacity="0.75"/>
<circle cx="248.06" cy="692.56" r="1.04" fill="#c49a3c" opacity="0.75"/>
<circle cx="255.49" cy="685" r="0.87" fill="#c49a3c" opacity="0.75"/>
<circle cx="270.44" cy="681.54" r="1.39" fill="#c49a3c" opacity="0.75"/>
<circle cx="285.48" cy="680.88" r="0.81" fill="#c49a3c" opacity="0.75"/>
<circle cx="290.68" cy="682.04" r="1.22" fill="#c49a3c" opacity="0.75"/>
<circle cx="299.19" cy="688.41" r="0.94" fill="#c49a3c" opacity="0.75"/>
<path d="M300.3 711.5 C300.5 712.73 300.87 714.03 300.79 715.27 C300.72 716.51 300.18 717.71 299.84 718.93 C299.49 720.16 299.15 721.38 298.74 722.62 C298.33 723.87 298.11 725.34 297.36 726.4 C296.6 727.45 295.34 728.25 294.2 728.98 C293.07 729.7 291.67 730.03 290.55 730.73 C289.43 731.42 288.65 732.61 287.5 733.16 C286.34 733.71 284.89 733.69 283.62 734.01 C282.35 734.33 281.16 734.95 279.89 735.06 C278.62 735.16 277.3 734.57 276 734.62 C274.7 734.68 273.31 735.55 272.06 735.38 C270.81 735.21 269.76 734 268.52 733.6 C267.28 733.2 265.76 733.48 264.6 732.97 C263.45 732.47 262.57 731.36 261.58 730.56 C260.59 729.75 259.65 728.95 258.66 728.14 C257.68 727.33 256.64 726.57 255.65 725.69 C254.66 724.81 253.41 723.98 252.73 722.88 C252.04 721.79 251.89 720.38 251.54 719.13 C251.2 717.87 250.9 716.62 250.67 715.35 C250.44 714.08 250.04 712.76 250.17 711.5 C250.31 710.24 250.98 708.96 251.49 707.77 C252 706.59 252.64 705.48 253.23 704.4 C253.83 703.31 254.4 702.26 255.06 701.26 C255.72 700.25 256.48 699.35 257.17 698.37 C257.86 697.38 258.44 696.33 259.18 695.35 C259.92 694.37 260.7 693.36 261.61 692.49 C262.53 691.62 263.59 690.89 264.66 690.13 C265.73 689.37 266.78 688.34 268.02 687.91 C269.25 687.48 270.72 687.67 272.05 687.54 C273.38 687.41 274.69 687.06 276 687.12 C277.31 687.19 278.6 687.68 279.89 687.93 C281.18 688.18 282.52 688.22 283.75 688.62 C284.97 689.02 286.07 689.77 287.23 690.33 C288.4 690.9 289.71 691.27 290.75 692.01 C291.79 692.75 292.51 693.87 293.45 694.75 C294.39 695.63 295.67 696.26 296.39 697.28 C297.12 698.29 297.47 699.63 297.81 700.83 C298.15 702.04 298.16 703.32 298.45 704.5 C298.74 705.68 299.26 706.75 299.56 707.92 C299.87 709.08 300.09 710.27 300.3 711.5Z" fill="url(#gi2)"/>
<path d="M307.16 712.6 C307.25 714.3 307.67 716.09 307.41 717.75 C307.15 719.41 306.31 721.03 305.58 722.56 C304.85 724.09 303.76 725.39 303.03 726.9 C302.3 728.42 302.19 730.35 301.21 731.65 C300.23 732.96 298.36 733.56 297.16 734.72 C295.95 735.88 295.12 737.35 293.97 738.62 C292.82 739.88 291.64 741.27 290.26 742.32 C288.88 743.37 287.28 744.23 285.67 744.91 C284.06 745.59 282.32 746.02 280.59 746.41 C278.86 746.8 277.06 747.25 275.3 747.24 C273.54 747.24 271.73 746.82 270.01 746.39 C268.3 745.96 266.5 745.6 265 744.69 C263.51 743.77 262.43 741.95 261.05 740.92 C259.66 739.89 257.99 739.52 256.7 738.51 C255.41 737.5 254.45 736.06 253.31 734.86 C252.17 733.66 251.04 732.52 249.85 731.32 C248.66 730.11 247.09 729.04 246.18 727.62 C245.26 726.2 244.88 724.42 244.35 722.78 C243.83 721.14 243.34 719.47 243.01 717.78 C242.67 716.08 242.42 714.34 242.32 712.6 C242.23 710.86 242.14 709.04 242.45 707.33 C242.75 705.63 243.65 704.04 244.15 702.36 C244.66 700.67 244.84 698.86 245.49 697.23 C246.14 695.59 247.07 694.03 248.06 692.56 C249.04 691.1 250.18 689.68 251.42 688.42 C252.65 687.16 253.97 685.86 255.49 685 C257.01 684.14 258.86 683.75 260.53 683.25 C262.19 682.75 263.83 682.29 265.48 682 C267.13 681.72 268.8 681.8 270.44 681.54 C272.08 681.29 273.66 680.61 275.3 680.48 C276.94 680.36 278.58 680.72 280.28 680.79 C281.97 680.85 283.75 680.67 285.48 680.88 C287.22 681.09 289.12 681.29 290.68 682.04 C292.25 682.78 293.44 684.29 294.85 685.36 C296.27 686.42 297.85 687.25 299.19 688.41 C300.53 689.57 301.89 690.85 302.89 692.31 C303.88 693.78 304.67 695.49 305.16 697.2 C305.65 698.91 305.52 700.84 305.81 702.56 C306.1 704.29 306.67 705.86 306.89 707.53 C307.12 709.21 307.07 710.9 307.16 712.6Z" fill="#fff" filter="url(#nz)" opacity="0.16"/>
</g>
<g>
<path d="M382.67 713.8 C383.16 715.48 384.33 717.31 384.45 719.05 C384.58 720.79 383.86 722.52 383.43 724.26 C383 725.99 382.57 727.77 381.89 729.46 C381.21 731.14 380.56 733.02 379.35 734.39 C378.14 735.76 376.19 736.63 374.63 737.68 C373.07 738.73 371.59 739.77 370.01 740.68 C368.43 741.58 366.79 742.35 365.14 743.12 C363.5 743.88 361.9 744.88 360.15 745.28 C358.4 745.68 356.43 745.22 354.62 745.49 C352.82 745.76 351.1 746.74 349.3 746.89 C347.5 747.04 345.62 746.71 343.82 746.41 C342.03 746.1 340.21 745.68 338.53 745.05 C336.85 744.41 335.28 743.48 333.73 742.61 C332.18 741.75 330.62 740.89 329.22 739.85 C327.82 738.82 326.65 737.55 325.33 736.4 C324.01 735.26 322.53 734.24 321.29 732.99 C320.05 731.73 319.09 730.29 317.91 728.88 C316.72 727.48 314.89 726.18 314.19 724.56 C313.48 722.93 313.7 720.92 313.66 719.12 C313.62 717.33 313.65 715.53 313.95 713.8 C314.26 712.07 315.07 710.43 315.48 708.75 C315.89 707.07 315.82 705.31 316.4 703.72 C316.98 702.13 318.01 700.65 318.95 699.22 C319.88 697.78 320.91 696.41 322.01 695.1 C323.1 693.8 324.35 692.64 325.53 691.39 C326.72 690.14 327.82 688.79 329.12 687.62 C330.43 686.44 331.85 685.3 333.38 684.34 C334.9 683.37 336.54 682.35 338.28 681.82 C340.02 681.28 341.97 681.35 343.81 681.12 C345.65 680.89 347.47 680.4 349.3 680.43 C351.13 680.45 352.9 681.12 354.76 681.27 C356.63 681.42 358.65 681.01 360.49 681.34 C362.33 681.67 364.18 682.37 365.81 683.25 C367.44 684.13 368.9 685.38 370.26 686.6 C371.62 687.82 372.66 689.3 373.96 690.55 C375.26 691.8 377.17 692.63 378.06 694.1 C378.95 695.57 378.83 697.71 379.31 699.38 C379.79 701.05 380.55 702.51 380.92 704.11 C381.29 705.71 381.22 707.37 381.51 708.99 C381.81 710.6 382.18 712.12 382.67 713.8Z" fill="url(#go3)"/>
<circle cx="374.63" cy="737.68" r="0.81" fill="#c49a3c" opacity="0.75"/>
<circle cx="370.01" cy="740.68" r="0.92" fill="#c49a3c" opacity="0.75"/>
<circle cx="365.14" cy="743.12" r="0.62" fill="#c49a3c" opacity="0.75"/>
<circle cx="316.4" cy="703.72" r="1.27" fill="#c49a3c" opacity="0.75"/>
<circle cx="333.38" cy="684.34" r="1.02" fill="#c49a3c" opacity="0.75"/>
<circle cx="379.31" cy="699.38" r="0.71" fill="#c49a3c" opacity="0.75"/>
<circle cx="381.51" cy="708.99" r="1.27" fill="#c49a3c" opacity="0.75"/>
<path d="M372.2 712.7 C372.2 714.01 372.05 715.35 371.82 716.63 C371.59 717.91 371.28 719.2 370.82 720.39 C370.35 721.57 369.72 722.71 369.04 723.72 C368.35 724.74 367.33 725.43 366.7 726.49 C366.08 727.55 365.92 729 365.29 730.07 C364.66 731.14 363.78 732.04 362.92 732.91 C362.06 733.78 361.1 734.53 360.13 735.29 C359.15 736.04 358.15 736.85 357.07 737.43 C355.99 738.02 354.82 738.69 353.64 738.82 C352.46 738.95 351.2 738.33 350 738.23 C348.8 738.13 347.56 738.57 346.44 738.21 C345.33 737.84 344.32 736.76 343.32 736.05 C342.33 735.33 341.43 734.59 340.49 733.92 C339.54 733.24 338.62 732.65 337.66 732.01 C336.69 731.37 335.52 730.92 334.71 730.08 C333.89 729.23 333.5 727.93 332.76 726.93 C332.02 725.94 330.97 725.17 330.28 724.12 C329.59 723.06 328.94 721.85 328.61 720.6 C328.28 719.35 328.39 717.92 328.32 716.6 C328.25 715.29 328.2 714 328.19 712.7 C328.17 711.4 328.18 710.1 328.24 708.78 C328.31 707.47 328.37 706.11 328.59 704.79 C328.81 703.48 329.11 702.11 329.58 700.88 C330.06 699.64 330.74 698.47 331.44 697.38 C332.15 696.29 332.88 695.12 333.83 694.33 C334.79 693.54 336.09 693.17 337.17 692.63 C338.25 692.1 339.26 691.54 340.33 691.13 C341.39 690.71 342.49 690.5 343.55 690.13 C344.61 689.77 345.61 689.12 346.69 688.94 C347.76 688.75 348.88 689.1 350 689.02 C351.12 688.93 352.27 688.39 353.38 688.45 C354.49 688.51 355.56 689.06 356.67 689.37 C357.78 689.68 358.94 689.89 360.03 690.33 C361.12 690.77 362.2 691.35 363.22 692.03 C364.24 692.7 365.29 693.43 366.13 694.37 C366.97 695.3 367.64 696.48 368.26 697.62 C368.89 698.76 369.48 699.94 369.89 701.18 C370.3 702.42 370.42 703.78 370.74 705.04 C371.05 706.31 371.55 707.5 371.79 708.78 C372.04 710.05 372.19 711.39 372.2 712.7Z" fill="url(#gi3)"/>
<path d="M382.67 713.8 C383.16 715.48 384.33 717.31 384.45 719.05 C384.58 720.79 383.86 722.52 383.43 724.26 C383 725.99 382.57 727.77 381.89 729.46 C381.21 731.14 380.56 733.02 379.35 734.39 C378.14 735.76 376.19 736.63 374.63 737.68 C373.07 738.73 371.59 739.77 370.01 740.68 C368.43 741.58 366.79 742.35 365.14 743.12 C363.5 743.88 361.9 744.88 360.15 745.28 C358.4 745.68 356.43 745.22 354.62 745.49 C352.82 745.76 351.1 746.74 349.3 746.89 C347.5 747.04 345.62 746.71 343.82 746.41 C342.03 746.1 340.21 745.68 338.53 745.05 C336.85 744.41 335.28 743.48 333.73 742.61 C332.18 741.75 330.62 740.89 329.22 739.85 C327.82 738.82 326.65 737.55 325.33 736.4 C324.01 735.26 322.53 734.24 321.29 732.99 C320.05 731.73 319.09 730.29 317.91 728.88 C316.72 727.48 314.89 726.18 314.19 724.56 C313.48 722.93 313.7 720.92 313.66 719.12 C313.62 717.33 313.65 715.53 313.95 713.8 C314.26 712.07 315.07 710.43 315.48 708.75 C315.89 707.07 315.82 705.31 316.4 703.72 C316.98 702.13 318.01 700.65 318.95 699.22 C319.88 697.78 320.91 696.41 322.01 695.1 C323.1 693.8 324.35 692.64 325.53 691.39 C326.72 690.14 327.82 688.79 329.12 687.62 C330.43 686.44 331.85 685.3 333.38 684.34 C334.9 683.37 336.54 682.35 338.28 681.82 C340.02 681.28 341.97 681.35 343.81 681.12 C345.65 680.89 347.47 680.4 349.3 680.43 C351.13 680.45 352.9 681.12 354.76 681.27 C356.63 681.42 358.65 681.01 360.49 681.34 C362.33 681.67 364.18 682.37 365.81 683.25 C367.44 684.13 368.9 685.38 370.26 686.6 C371.62 687.82 372.66 689.3 373.96 690.55 C375.26 691.8 377.17 692.63 378.06 694.1 C378.95 695.57 378.83 697.71 379.31 699.38 C379.79 701.05 380.55 702.51 380.92 704.11 C381.29 705.71 381.22 707.37 381.51 708.99 C381.81 710.6 382.18 712.12 382.67 713.8Z" fill="#fff" filter="url(#nz)" opacity="0.16"/>
</g>
<g>
<path d="M148.92 789.4 C148.91 790.78 148.38 792.12 148.27 793.54 C148.16 794.96 148.64 796.59 148.27 797.89 C147.89 799.2 146.6 800.13 146 801.36 C145.4 802.6 145.31 804.16 144.66 805.31 C144.01 806.47 143.08 807.52 142.1 808.3 C141.11 809.08 139.72 809.22 138.74 809.99 C137.76 810.76 137.12 811.98 136.2 812.91 C135.29 813.84 134.31 814.81 133.24 815.57 C132.17 816.33 131 817.14 129.79 817.48 C128.58 817.82 127.25 817.68 126 817.61 C124.75 817.53 123.48 817.39 122.27 817.04 C121.07 816.69 119.94 816 118.77 815.51 C117.61 815.02 116.25 814.94 115.28 814.1 C114.31 813.26 113.8 811.51 112.96 810.47 C112.12 809.44 111 808.91 110.24 807.9 C109.47 806.9 109.08 805.53 108.37 804.44 C107.65 803.35 106.71 802.48 105.96 801.39 C105.21 800.29 104.21 799.16 103.84 797.85 C103.46 796.55 103.92 794.95 103.71 793.54 C103.5 792.14 102.66 790.8 102.59 789.4 C102.51 788 103.08 786.59 103.26 785.17 C103.44 783.75 103.36 782.26 103.66 780.88 C103.97 779.5 104.52 778.15 105.11 776.91 C105.71 775.66 106.62 774.67 107.25 773.41 C107.88 772.14 108.09 770.41 108.89 769.32 C109.69 768.22 110.92 767.49 112.04 766.84 C113.15 766.19 114.41 765.81 115.59 765.41 C116.76 765.01 117.94 764.75 119.09 764.44 C120.25 764.13 121.36 763.65 122.51 763.54 C123.66 763.42 124.85 763.62 126 763.74 C127.15 763.87 128.26 764.07 129.39 764.28 C130.52 764.48 131.6 764.76 132.76 764.98 C133.91 765.21 135.16 765.25 136.31 765.64 C137.47 766.03 138.54 766.69 139.68 767.3 C140.81 767.92 142.26 768.31 143.11 769.32 C143.96 770.33 144.1 772.15 144.78 773.38 C145.47 774.61 146.62 775.46 147.23 776.7 C147.84 777.95 148.28 779.41 148.45 780.84 C148.63 782.26 148.22 783.83 148.29 785.26 C148.37 786.68 148.92 788.02 148.92 789.4Z" fill="url(#go4)"/>
<circle cx="122.27" cy="817.04" r="0.68" fill="#c49a3c" opacity="0.75"/>
<circle cx="119.09" cy="764.44" r="1.19" fill="#c49a3c" opacity="0.75"/>
<circle cx="136.31" cy="765.64" r="1.34" fill="#c49a3c" opacity="0.75"/>
<circle cx="139.68" cy="767.3" r="0.98" fill="#c49a3c" opacity="0.75"/>
<path d="M141.72 789 C141.59 790.1 141.67 791.19 141.47 792.22 C141.27 793.26 140.87 794.26 140.51 795.22 C140.14 796.19 139.7 797.07 139.31 798 C138.91 798.93 138.57 799.87 138.15 800.8 C137.74 801.74 137.27 802.61 136.82 803.6 C136.37 804.6 136.08 805.95 135.46 806.78 C134.83 807.6 133.91 808.08 133.07 808.56 C132.23 809.04 131.31 809.28 130.43 809.66 C129.56 810.05 128.71 810.69 127.8 810.87 C126.9 811.04 125.9 810.96 125 810.72 C124.1 810.47 123.22 809.83 122.39 809.38 C121.55 808.94 120.79 808.46 119.99 808.04 C119.2 807.62 118.39 807.33 117.63 806.87 C116.87 806.41 116.16 805.83 115.43 805.28 C114.69 804.73 113.84 804.28 113.21 803.57 C112.57 802.86 112.11 801.9 111.6 801.03 C111.08 800.16 110.54 799.31 110.12 798.36 C109.71 797.42 109.45 796.38 109.13 795.37 C108.81 794.36 108.48 793.35 108.22 792.28 C107.95 791.22 107.66 790.11 107.56 789 C107.47 787.89 107.5 786.72 107.63 785.6 C107.76 784.49 108.04 783.38 108.33 782.31 C108.61 781.23 108.91 780.14 109.33 779.14 C109.75 778.14 110.25 777.13 110.86 776.31 C111.48 775.49 112.28 774.83 113.03 774.21 C113.78 773.59 114.55 773.03 115.35 772.59 C116.14 772.15 117.02 771.95 117.8 771.55 C118.59 771.16 119.3 770.73 120.06 770.22 C120.82 769.71 121.55 768.75 122.37 768.48 C123.19 768.21 124.11 768.68 125 768.59 C125.89 768.5 126.79 767.99 127.7 767.95 C128.61 767.9 129.54 768.08 130.44 768.32 C131.34 768.56 132.32 768.8 133.09 769.39 C133.86 769.99 134.41 771.1 135.06 771.89 C135.72 772.68 136.42 773.35 137.02 774.16 C137.61 774.97 138.13 775.86 138.65 776.75 C139.17 777.63 139.72 778.51 140.14 779.47 C140.57 780.42 140.88 781.46 141.23 782.49 C141.58 783.51 142.15 784.54 142.24 785.63 C142.32 786.71 141.85 787.9 141.72 789Z" fill="url(#gi4)"/>
<path d="M148.92 789.4 C148.91 790.78 148.38 792.12 148.27 793.54 C148.16 794.96 148.64 796.59 148.27 797.89 C147.89 799.2 146.6 800.13 146 801.36 C145.4 802.6 145.31 804.16 144.66 805.31 C144.01 806.47 143.08 807.52 142.1 808.3 C141.11 809.08 139.72 809.22 138.74 809.99 C137.76 810.76 137.12 811.98 136.2 812.91 C135.29 813.84 134.31 814.81 133.24 815.57 C132.17 816.33 131 817.14 129.79 817.48 C128.58 817.82 127.25 817.68 126 817.61 C124.75 817.53 123.48 817.39 122.27 817.04 C121.07 816.69 119.94 816 118.77 815.51 C117.61 815.02 116.25 814.94 115.28 814.1 C114.31 813.26 113.8 811.51 112.96 810.47 C112.12 809.44 111 808.91 110.24 807.9 C109.47 806.9 109.08 805.53 108.37 804.44 C107.65 803.35 106.71 802.48 105.96 801.39 C105.21 800.29 104.21 799.16 103.84 797.85 C103.46 796.55 103.92 794.95 103.71 793.54 C103.5 792.14 102.66 790.8 102.59 789.4 C102.51 788 103.08 786.59 103.26 785.17 C103.44 783.75 103.36 782.26 103.66 780.88 C103.97 779.5 104.52 778.15 105.11 776.91 C105.71 775.66 106.62 774.67 107.25 773.41 C107.88 772.14 108.09 770.41 108.89 769.32 C109.69 768.22 110.92 767.49 112.04 766.84 C113.15 766.19 114.41 765.81 115.59 765.41 C116.76 765.01 117.94 764.75 119.09 764.44 C120.25 764.13 121.36 763.65 122.51 763.54 C123.66 763.42 124.85 763.62 126 763.74 C127.15 763.87 128.26 764.07 129.39 764.28 C130.52 764.48 131.6 764.76 132.76 764.98 C133.91 765.21 135.16 765.25 136.31 765.64 C137.47 766.03 138.54 766.69 139.68 767.3 C140.81 767.92 142.26 768.31 143.11 769.32 C143.96 770.33 144.1 772.15 144.78 773.38 C145.47 774.61 146.62 775.46 147.23 776.7 C147.84 777.95 148.28 779.41 148.45 780.84 C148.63 782.26 148.22 783.83 148.29 785.26 C148.37 786.68 148.92 788.02 148.92 789.4Z" fill="#fff" filter="url(#nz)" opacity="0.16"/>
</g>
<g>
<path d="M233.21 792 C233.19 793.48 232.12 794.93 231.84 796.43 C231.56 797.93 231.58 799.38 231.51 800.99 C231.44 802.59 231.77 804.44 231.44 806.06 C231.11 807.69 230.47 809.38 229.51 810.74 C228.55 812.1 227 813.11 225.67 814.19 C224.35 815.28 223.11 816.53 221.55 817.23 C220 817.93 217.99 817.92 216.35 818.4 C214.71 818.88 213.3 819.58 211.74 820.11 C210.18 820.64 208.62 821.32 207 821.6 C205.38 821.88 203.67 821.76 202 821.77 C200.33 821.77 198.66 821.77 196.99 821.63 C195.33 821.48 193.52 821.47 191.99 820.89 C190.45 820.31 189.15 819.05 187.78 818.16 C186.41 817.26 185.06 816.46 183.77 815.52 C182.49 814.59 181.31 813.56 180.07 812.56 C178.84 811.55 177.49 810.61 176.34 809.48 C175.18 808.35 174.16 807.08 173.14 805.78 C172.13 804.48 170.95 803.15 170.23 801.68 C169.51 800.2 169.14 798.54 168.83 796.93 C168.52 795.31 168.35 793.64 168.38 792 C168.4 790.36 168.46 788.65 168.97 787.09 C169.47 785.54 170.57 784.09 171.42 782.69 C172.27 781.28 172.98 779.84 174.04 778.65 C175.11 777.45 176.8 776.72 177.82 775.53 C178.83 774.34 179.08 772.6 180.13 771.5 C181.18 770.39 182.9 769.98 184.1 768.91 C185.31 767.83 186.05 766.04 187.35 765.05 C188.66 764.06 190.35 763.5 191.95 763 C193.54 762.49 195.26 762.19 196.93 762 C198.61 761.8 200.32 761.8 202 761.84 C203.68 761.87 205.36 762.02 207.03 762.21 C208.71 762.39 210.44 762.53 212.07 762.96 C213.69 763.38 215.37 763.94 216.8 764.77 C218.23 765.6 219.38 766.9 220.66 767.93 C221.93 768.96 223.2 769.91 224.45 770.95 C225.7 771.99 227.16 772.93 228.18 774.17 C229.19 775.41 229.98 776.9 230.55 778.36 C231.12 779.83 231.36 781.45 231.6 782.98 C231.83 784.52 231.69 786.05 231.96 787.55 C232.23 789.05 233.23 790.52 233.21 792Z" fill="url(#go5)"/>
<circle cx="231.84" cy="796.43" r="0.84" fill="#c49a3c" opacity="0.75"/>
<circle cx="191.99" cy="820.89" r="1" fill="#c49a3c" opacity="0.75"/>
<circle cx="168.83" cy="796.93" r="0.87" fill="#c49a3c" opacity="0.75"/>
<path d="M224.06 791 C224.25 792.12 224.71 793.29 224.75 794.45 C224.78 795.6 224.4 796.72 224.26 797.93 C224.11 799.13 224.45 800.64 223.88 801.69 C223.32 802.74 221.87 803.43 220.89 804.24 C219.91 805.06 219.01 805.88 218 806.58 C216.99 807.28 215.88 807.84 214.82 808.44 C213.77 809.05 212.75 809.63 211.68 810.21 C210.61 810.78 209.56 811.48 208.41 811.9 C207.25 812.32 205.99 812.57 204.76 812.75 C203.52 812.93 202.26 812.93 201 812.98 C199.74 813.03 198.44 813.2 197.19 813.06 C195.94 812.91 194.65 812.61 193.52 812.12 C192.38 811.63 191.41 810.76 190.38 810.11 C189.35 809.46 188.45 808.78 187.34 808.23 C186.24 807.68 184.81 807.46 183.77 806.79 C182.73 806.13 181.84 805.2 181.11 804.25 C180.39 803.29 180.12 802.09 179.43 801.08 C178.74 800.06 177.46 799.24 176.97 798.16 C176.48 797.07 176.52 795.76 176.46 794.56 C176.4 793.37 176.43 792.16 176.63 791 C176.83 789.84 177.22 788.69 177.66 787.61 C178.11 786.54 178.73 785.52 179.31 784.54 C179.89 783.56 180.59 782.69 181.14 781.72 C181.69 780.76 182.04 779.72 182.61 778.76 C183.19 777.79 183.9 776.92 184.57 775.94 C185.23 774.95 185.67 773.57 186.6 772.83 C187.53 772.09 189.04 772.09 190.15 771.48 C191.26 770.86 192.07 769.53 193.26 769.15 C194.44 768.77 195.94 769.24 197.23 769.19 C198.52 769.15 199.73 768.96 201 768.88 C202.27 768.8 203.58 768.61 204.85 768.71 C206.12 768.81 207.43 769.08 208.63 769.48 C209.83 769.89 210.97 770.5 212.04 771.14 C213.11 771.78 214.02 772.61 215.02 773.31 C216.02 774.02 217.22 774.53 218.06 775.36 C218.9 776.2 219.38 777.35 220.06 778.31 C220.74 779.27 221.74 780.07 222.14 781.13 C222.54 782.18 222.22 783.51 222.46 784.61 C222.7 785.71 223.3 786.66 223.57 787.72 C223.83 788.79 223.86 789.88 224.06 791Z" fill="url(#gi5)"/>
<path d="M233.21 792 C233.19 793.48 232.12 794.93 231.84 796.43 C231.56 797.93 231.58 799.38 231.51 800.99 C231.44 802.59 231.77 804.44 231.44 806.06 C231.11 807.69 230.47 809.38 229.51 810.74 C228.55 812.1 227 813.11 225.67 814.19 C224.35 815.28 223.11 816.53 221.55 817.23 C220 817.93 217.99 817.92 216.35 818.4 C214.71 818.88 213.3 819.58 211.74 820.11 C210.18 820.64 208.62 821.32 207 821.6 C205.38 821.88 203.67 821.76 202 821.77 C200.33 821.77 198.66 821.77 196.99 821.63 C195.33 821.48 193.52 821.47 191.99 820.89 C190.45 820.31 189.15 819.05 187.78 818.16 C186.41 817.26 185.06 816.46 183.77 815.52 C182.49 814.59 181.31 813.56 180.07 812.56 C178.84 811.55 177.49 810.61 176.34 809.48 C175.18 808.35 174.16 807.08 173.14 805.78 C172.13 804.48 170.95 803.15 170.23 801.68 C169.51 800.2 169.14 798.54 168.83 796.93 C168.52 795.31 168.35 793.64 168.38 792 C168.4 790.36 168.46 788.65 168.97 787.09 C169.47 785.54 170.57 784.09 171.42 782.69 C172.27 781.28 172.98 779.84 174.04 778.65 C175.11 777.45 176.8 776.72 177.82 775.53 C178.83 774.34 179.08 772.6 180.13 771.5 C181.18 770.39 182.9 769.98 184.1 768.91 C185.31 767.83 186.05 766.04 187.35 765.05 C188.66 764.06 190.35 763.5 191.95 763 C193.54 762.49 195.26 762.19 196.93 762 C198.61 761.8 200.32 761.8 202 761.84 C203.68 761.87 205.36 762.02 207.03 762.21 C208.71 762.39 210.44 762.53 212.07 762.96 C213.69 763.38 215.37 763.94 216.8 764.77 C218.23 765.6 219.38 766.9 220.66 767.93 C221.93 768.96 223.2 769.91 224.45 770.95 C225.7 771.99 227.16 772.93 228.18 774.17 C229.19 775.41 229.98 776.9 230.55 778.36 C231.12 779.83 231.36 781.45 231.6 782.98 C231.83 784.52 231.69 786.05 231.96 787.55 C232.23 789.05 233.23 790.52 233.21 792Z" fill="#fff" filter="url(#nz)" opacity="0.16"/>
</g>
<g>
<path d="M304.11 789 C304.21 790.47 304.81 791.91 305.02 793.45 C305.22 794.99 305.52 796.66 305.36 798.23 C305.19 799.79 304.82 801.47 304.04 802.84 C303.27 804.22 301.82 805.3 300.7 806.47 C299.57 807.63 298.53 808.85 297.28 809.84 C296.02 810.83 294.5 811.49 293.17 812.4 C291.85 813.31 290.81 814.74 289.32 815.3 C287.84 815.85 285.87 815.39 284.28 815.73 C282.7 816.07 281.35 816.96 279.8 817.34 C278.25 817.73 276.59 818.09 275 818.04 C273.41 817.99 271.81 817.4 270.25 817.07 C268.68 816.73 267.2 816.33 265.62 816.01 C264.04 815.68 262.22 815.75 260.77 815.12 C259.33 814.5 258.14 813.26 256.95 812.24 C255.76 811.22 254.84 810 253.63 808.99 C252.43 807.98 250.78 807.31 249.7 806.19 C248.63 805.07 247.99 803.6 247.17 802.26 C246.36 800.93 245.37 799.62 244.81 798.18 C244.24 796.74 244.17 795.16 243.78 793.63 C243.39 792.1 242.53 790.55 242.44 789 C242.36 787.45 242.73 785.78 243.28 784.3 C243.83 782.82 244.98 781.48 245.73 780.1 C246.49 778.73 246.82 777.2 247.82 776.04 C248.82 774.89 250.64 774.25 251.71 773.17 C252.78 772.09 253.33 770.77 254.24 769.58 C255.15 768.39 256.1 767.2 257.15 766.02 C258.21 764.84 259.25 763.44 260.56 762.49 C261.87 761.53 263.44 760.72 265.02 760.28 C266.61 759.84 268.4 759.94 270.07 759.86 C271.73 759.79 273.36 759.78 275 759.82 C276.64 759.86 278.28 759.89 279.89 760.11 C281.5 760.33 283.06 760.8 284.67 761.17 C286.28 761.53 288.12 761.57 289.54 762.3 C290.97 763.03 291.88 764.62 293.21 765.55 C294.54 766.49 296.34 766.88 297.54 767.91 C298.75 768.94 299.59 770.39 300.43 771.71 C301.28 773.04 302.04 774.42 302.61 775.84 C303.18 777.26 303.54 778.77 303.84 780.23 C304.15 781.7 304.38 783.18 304.42 784.64 C304.47 786.1 304.01 787.53 304.11 789Z" fill="url(#go6)"/>
<circle cx="300.7" cy="806.47" r="0.76" fill="#c49a3c" opacity="0.75"/>
<circle cx="289.32" cy="815.3" r="0.63" fill="#c49a3c" opacity="0.75"/>
<circle cx="256.95" cy="812.24" r="0.68" fill="#c49a3c" opacity="0.75"/>
<circle cx="254.24" cy="769.58" r="1.27" fill="#c49a3c" opacity="0.75"/>
<path d="M300.15 789 C300.08 790.13 299.58 791.26 299.29 792.37 C299.01 793.48 299 794.67 298.43 795.65 C297.87 796.64 296.58 797.34 295.9 798.26 C295.23 799.18 294.97 800.25 294.39 801.2 C293.8 802.15 293.18 803.14 292.39 803.97 C291.6 804.79 290.62 805.5 289.64 806.15 C288.67 806.79 287.67 807.53 286.52 807.86 C285.38 808.18 283.97 807.9 282.79 808.08 C281.61 808.27 280.6 808.79 279.46 808.97 C278.33 809.14 277.16 809.07 276 809.12 C274.84 809.17 273.71 809.17 272.48 809.28 C271.25 809.39 269.83 809.92 268.6 809.79 C267.37 809.67 266.28 808.96 265.1 808.52 C263.93 808.09 262.52 807.88 261.53 807.19 C260.54 806.49 259.98 805.26 259.18 804.36 C258.38 803.46 257.3 802.78 256.73 801.78 C256.17 800.79 256.06 799.5 255.8 798.4 C255.53 797.3 255.45 796.22 255.13 795.19 C254.82 794.16 254.23 793.22 253.92 792.19 C253.61 791.16 253.24 790.06 253.28 789 C253.32 787.94 254.01 786.92 254.13 785.84 C254.26 784.75 253.86 783.57 254.04 782.49 C254.22 781.4 254.63 780.29 255.2 779.32 C255.77 778.36 256.71 777.57 257.46 776.7 C258.21 775.83 258.85 774.88 259.71 774.13 C260.57 773.37 261.64 772.82 262.62 772.18 C263.6 771.55 264.54 770.88 265.58 770.32 C266.61 769.77 267.71 769.3 268.83 768.84 C269.94 768.39 271.09 767.84 272.29 767.59 C273.48 767.35 274.79 767.22 276 767.36 C277.21 767.5 278.43 768.01 279.57 768.43 C280.7 768.85 281.75 769.4 282.81 769.86 C283.87 770.32 284.91 770.72 285.94 771.19 C286.97 771.66 288.08 772.06 288.98 772.69 C289.88 773.32 290.49 774.27 291.35 774.99 C292.2 775.7 293.27 776.23 294.11 776.99 C294.96 777.74 295.62 778.63 296.43 779.5 C297.23 780.36 298.39 781.18 298.94 782.19 C299.49 783.21 299.52 784.43 299.73 785.57 C299.93 786.7 300.22 787.87 300.15 789Z" fill="url(#gi6)"/>
<path d="M304.11 789 C304.21 790.47 304.81 791.91 305.02 793.45 C305.22 794.99 305.52 796.66 305.36 798.23 C305.19 799.79 304.82 801.47 304.04 802.84 C303.27 804.22 301.82 805.3 300.7 806.47 C299.57 807.63 298.53 808.85 297.28 809.84 C296.02 810.83 294.5 811.49 293.17 812.4 C291.85 813.31 290.81 814.74 289.32 815.3 C287.84 815.85 285.87 815.39 284.28 815.73 C282.7 816.07 281.35 816.96 279.8 817.34 C278.25 817.73 276.59 818.09 275 818.04 C273.41 817.99 271.81 817.4 270.25 817.07 C268.68 816.73 267.2 816.33 265.62 816.01 C264.04 815.68 262.22 815.75 260.77 815.12 C259.33 814.5 258.14 813.26 256.95 812.24 C255.76 811.22 254.84 810 253.63 808.99 C252.43 807.98 250.78 807.31 249.7 806.19 C248.63 805.07 247.99 803.6 247.17 802.26 C246.36 800.93 245.37 799.62 244.81 798.18 C244.24 796.74 244.17 795.16 243.78 793.63 C243.39 792.1 242.53 790.55 242.44 789 C242.36 787.45 242.73 785.78 243.28 784.3 C243.83 782.82 244.98 781.48 245.73 780.1 C246.49 778.73 246.82 777.2 247.82 776.04 C248.82 774.89 250.64 774.25 251.71 773.17 C252.78 772.09 253.33 770.77 254.24 769.58 C255.15 768.39 256.1 767.2 257.15 766.02 C258.21 764.84 259.25 763.44 260.56 762.49 C261.87 761.53 263.44 760.72 265.02 760.28 C266.61 759.84 268.4 759.94 270.07 759.86 C271.73 759.79 273.36 759.78 275 759.82 C276.64 759.86 278.28 759.89 279.89 760.11 C281.5 760.33 283.06 760.8 284.67 761.17 C286.28 761.53 288.12 761.57 289.54 762.3 C290.97 763.03 291.88 764.62 293.21 765.55 C294.54 766.49 296.34 766.88 297.54 767.91 C298.75 768.94 299.59 770.39 300.43 771.71 C301.28 773.04 302.04 774.42 302.61 775.84 C303.18 777.26 303.54 778.77 303.84 780.23 C304.15 781.7 304.38 783.18 304.42 784.64 C304.47 786.1 304.01 787.53 304.11 789Z" fill="#fff" filter="url(#nz)" opacity="0.16"/>
</g>
<g>
<path d="M378.16 790 C378.33 791.54 378.72 793.15 378.67 794.71 C378.62 796.27 378.31 797.88 377.85 799.37 C377.39 800.86 376.8 802.39 375.92 803.64 C375.04 804.88 373.63 805.78 372.58 806.84 C371.53 807.9 370.58 808.91 369.61 809.98 C368.64 811.06 367.86 812.41 366.76 813.3 C365.66 814.19 364.28 814.71 363.01 815.32 C361.74 815.93 360.47 816.51 359.16 816.97 C357.85 817.43 356.5 817.7 355.14 818.08 C353.78 818.47 352.37 819.31 351 819.26 C349.63 819.22 348.26 818.18 346.9 817.81 C345.53 817.45 344.12 817.5 342.81 817.09 C341.49 816.67 340.27 815.92 338.99 815.32 C337.7 814.72 336.43 814.14 335.11 813.49 C333.78 812.85 332.27 812.33 331.03 811.45 C329.78 810.57 328.49 809.52 327.65 808.22 C326.81 806.93 326.46 805.2 326.01 803.68 C325.56 802.15 325.29 800.6 324.95 799.09 C324.61 797.58 323.95 796.11 323.97 794.6 C324 793.08 324.74 791.47 325.1 790 C325.46 788.53 326 787.23 326.14 785.77 C326.27 784.31 325.65 782.66 325.92 781.25 C326.18 779.83 327.22 778.67 327.73 777.27 C328.24 775.86 328.31 774.13 328.99 772.83 C329.67 771.52 330.9 770.6 331.83 769.41 C332.76 768.23 333.44 766.64 334.56 765.7 C335.69 764.77 337.22 764.33 338.57 763.81 C339.93 763.29 341.33 762.91 342.7 762.57 C344.08 762.23 345.45 762.11 346.84 761.77 C348.22 761.43 349.58 760.72 351 760.53 C352.42 760.33 353.89 760.47 355.34 760.6 C356.78 760.72 358.39 760.64 359.69 761.27 C361 761.9 361.97 763.48 363.16 764.36 C364.36 765.24 365.83 765.55 366.88 766.53 C367.92 767.5 368.6 769 369.43 770.2 C370.27 771.4 371.2 772.46 371.88 773.7 C372.57 774.95 372.91 776.38 373.54 777.67 C374.16 778.95 374.96 780.1 375.64 781.4 C376.33 782.7 377.22 784.03 377.64 785.47 C378.06 786.9 377.99 788.46 378.16 790Z" fill="url(#go7)"/>
<circle cx="378.67" cy="794.71" r="0.99" fill="#c49a3c" opacity="0.75"/>
<circle cx="369.61" cy="809.98" r="1.35" fill="#c49a3c" opacity="0.75"/>
<circle cx="359.16" cy="816.97" r="1.34" fill="#c49a3c" opacity="0.75"/>
<circle cx="328.99" cy="772.83" r="0.8" fill="#c49a3c" opacity="0.75"/>
<circle cx="338.57" cy="763.81" r="1.05" fill="#c49a3c" opacity="0.75"/>
<circle cx="346.84" cy="761.77" r="1.27" fill="#c49a3c" opacity="0.75"/>
<circle cx="351" cy="760.53" r="1.08" fill="#c49a3c" opacity="0.75"/>
<path d="M370.31 791 C370.43 792.11 370.52 793.28 370.41 794.4 C370.31 795.52 369.92 796.59 369.66 797.7 C369.39 798.81 369.28 800.02 368.82 801.04 C368.36 802.05 367.65 802.98 366.91 803.78 C366.18 804.57 365.26 805.21 364.41 805.82 C363.56 806.44 362.66 806.89 361.83 807.48 C361.01 808.06 360.32 808.87 359.46 809.34 C358.59 809.81 357.6 809.98 356.67 810.28 C355.74 810.57 354.83 810.89 353.88 811.13 C352.94 811.37 351.96 811.73 351 811.71 C350.04 811.69 349.09 811.2 348.13 811.01 C347.18 810.81 346.2 810.79 345.26 810.52 C344.33 810.25 343.38 809.89 342.52 809.39 C341.67 808.88 341.03 808.04 340.15 807.5 C339.28 806.96 338.07 806.83 337.28 806.17 C336.49 805.5 336.1 804.37 335.41 803.52 C334.71 802.68 333.67 802.03 333.09 801.09 C332.51 800.14 332.15 798.97 331.95 797.84 C331.74 796.72 331.75 795.49 331.87 794.35 C331.98 793.21 332.45 792.09 332.62 791 C332.79 789.91 332.68 788.85 332.89 787.83 C333.1 786.8 333.62 785.88 333.87 784.85 C334.11 783.81 333.96 782.58 334.36 781.63 C334.75 780.68 335.74 780.1 336.23 779.14 C336.73 778.18 336.8 776.85 337.33 775.89 C337.86 774.92 338.6 774.04 339.4 773.35 C340.19 772.66 341.19 772.22 342.12 771.73 C343.04 771.24 343.96 770.64 344.95 770.41 C345.93 770.18 347.03 770.54 348.04 770.35 C349.05 770.16 350 769.34 351 769.27 C352 769.21 353 769.8 354.02 769.96 C355.04 770.11 356.13 769.91 357.12 770.18 C358.11 770.45 359.14 770.89 359.96 771.56 C360.78 772.23 361.3 773.43 362.05 774.2 C362.79 774.96 363.75 775.38 364.43 776.15 C365.12 776.93 365.77 777.83 366.16 778.83 C366.55 779.82 366.44 781.12 366.78 782.11 C367.12 783.11 367.72 783.89 368.2 784.82 C368.68 785.76 369.3 786.71 369.65 787.74 C370 788.76 370.18 789.89 370.31 791Z" fill="url(#gi7)"/>
<path d="M378.16 790 C378.33 791.54 378.72 793.15 378.67 794.71 C378.62 796.27 378.31 797.88 377.85 799.37 C377.39 800.86 376.8 802.39 375.92 803.64 C375.04 804.88 373.63 805.78 372.58 806.84 C371.53 807.9 370.58 808.91 369.61 809.98 C368.64 811.06 367.86 812.41 366.76 813.3 C365.66 814.19 364.28 814.71 363.01 815.32 C361.74 815.93 360.47 816.51 359.16 816.97 C357.85 817.43 356.5 817.7 355.14 818.08 C353.78 818.47 352.37 819.31 351 819.26 C349.63 819.22 348.26 818.18 346.9 817.81 C345.53 817.45 344.12 817.5 342.81 817.09 C341.49 816.67 340.27 815.92 338.99 815.32 C337.7 814.72 336.43 814.14 335.11 813.49 C333.78 812.85 332.27 812.33 331.03 811.45 C329.78 810.57 328.49 809.52 327.65 808.22 C326.81 806.93 326.46 805.2 326.01 803.68 C325.56 802.15 325.29 800.6 324.95 799.09 C324.61 797.58 323.95 796.11 323.97 794.6 C324 793.08 324.74 791.47 325.1 790 C325.46 788.53 326 787.23 326.14 785.77 C326.27 784.31 325.65 782.66 325.92 781.25 C326.18 779.83 327.22 778.67 327.73 777.27 C328.24 775.86 328.31 774.13 328.99 772.83 C329.67 771.52 330.9 770.6 331.83 769.41 C332.76 768.23 333.44 766.64 334.56 765.7 C335.69 764.77 337.22 764.33 338.57 763.81 C339.93 763.29 341.33 762.91 342.7 762.57 C344.08 762.23 345.45 762.11 346.84 761.77 C348.22 761.43 349.58 760.72 351 760.53 C352.42 760.33 353.89 760.47 355.34 760.6 C356.78 760.72 358.39 760.64 359.69 761.27 C361 761.9 361.97 763.48 363.16 764.36 C364.36 765.24 365.83 765.55 366.88 766.53 C367.92 767.5 368.6 769 369.43 770.2 C370.27 771.4 371.2 772.46 371.88 773.7 C372.57 774.95 372.91 776.38 373.54 777.67 C374.16 778.95 374.96 780.1 375.64 781.4 C376.33 782.7 377.22 784.03 377.64 785.47 C378.06 786.9 377.99 788.46 378.16 790Z" fill="#fff" filter="url(#nz)" opacity="0.16"/>
</g>
<g>
<path d="M149.45 868.5 C149.51 869.75 148.6 871.02 148.3 872.27 C148 873.52 148.18 874.9 147.65 876.02 C147.13 877.14 145.86 877.97 145.16 878.99 C144.45 880.02 144.04 881.13 143.41 882.17 C142.79 883.21 142.26 884.43 141.39 885.24 C140.51 886.05 139.2 886.4 138.18 887.03 C137.15 887.66 136.25 888.41 135.23 889.01 C134.2 889.6 133.15 890.25 132.03 890.59 C130.9 890.94 129.67 891.02 128.5 891.06 C127.33 891.11 126.16 890.92 125 890.88 C123.84 890.84 122.69 890.93 121.54 890.84 C120.38 890.74 119.29 890.41 118.07 890.31 C116.84 890.2 115.37 890.53 114.17 890.21 C112.97 889.9 111.95 889.05 110.86 888.39 C109.77 887.73 108.46 887.2 107.63 886.24 C106.81 885.29 106.56 883.78 105.93 882.66 C105.29 881.54 104.18 880.71 103.82 879.53 C103.46 878.34 103.9 876.8 103.76 875.55 C103.63 874.31 103.17 873.23 103.02 872.06 C102.86 870.88 102.8 869.68 102.84 868.5 C102.89 867.32 103.23 866.19 103.28 864.99 C103.33 863.78 102.95 862.44 103.15 861.25 C103.35 860.05 103.98 858.94 104.48 857.82 C104.97 856.69 105.5 855.57 106.12 854.49 C106.74 853.41 107.29 852.15 108.21 851.34 C109.12 850.54 110.6 850.41 111.6 849.66 C112.6 848.91 113.18 847.52 114.21 846.86 C115.24 846.21 116.57 846.06 117.76 845.74 C118.95 845.43 120.15 845.25 121.35 844.97 C122.56 844.7 123.79 844.06 125 844.07 C126.21 844.09 127.41 844.83 128.63 845.06 C129.86 845.28 131.22 844.98 132.33 845.44 C133.45 845.89 134.39 846.98 135.32 847.8 C136.25 848.62 137.03 849.55 137.92 850.33 C138.82 851.11 139.89 851.63 140.7 852.46 C141.51 853.29 142.1 854.34 142.78 855.3 C143.46 856.26 144.01 857.25 144.77 858.21 C145.53 859.17 146.82 859.98 147.36 861.08 C147.89 862.17 147.62 863.55 147.97 864.78 C148.32 866.02 149.4 867.25 149.45 868.5Z" fill="url(#go8)"/>
<circle cx="135.23" cy="889.01" r="0.63" fill="#c49a3c" opacity="0.75"/>
<circle cx="114.17" cy="890.21" r="0.78" fill="#c49a3c" opacity="0.75"/>
<circle cx="107.63" cy="886.24" r="0.6" fill="#c49a3c" opacity="0.75"/>
<circle cx="103.82" cy="879.53" r="0.89" fill="#c49a3c" opacity="0.75"/>
<circle cx="106.12" cy="854.49" r="1.35" fill="#c49a3c" opacity="0.75"/>
<circle cx="114.21" cy="846.86" r="1.11" fill="#c49a3c" opacity="0.75"/>
<circle cx="132.33" cy="845.44" r="1.12" fill="#c49a3c" opacity="0.75"/>
<path d="M141 868.5 C141.1 869.39 141.55 870.3 141.61 871.21 C141.67 872.12 141.54 873.06 141.36 873.97 C141.19 874.88 140.93 875.81 140.55 876.66 C140.17 877.5 139.59 878.24 139.1 879.05 C138.62 879.86 138.34 880.93 137.64 881.52 C136.95 882.1 135.74 882.13 134.92 882.55 C134.09 882.98 133.47 883.61 132.7 884.05 C131.92 884.49 131.13 885.02 130.27 885.19 C129.41 885.36 128.43 885.05 127.55 885.09 C126.67 885.13 125.87 885.33 125 885.43 C124.13 885.53 123.22 885.75 122.36 885.68 C121.49 885.61 120.63 885.27 119.8 884.99 C118.96 884.71 118.12 884.4 117.32 884.01 C116.53 883.62 115.67 883.24 115.01 882.66 C114.34 882.08 113.93 881.18 113.33 880.51 C112.73 879.85 111.99 879.35 111.39 878.68 C110.79 878.01 110.19 877.3 109.72 876.51 C109.26 875.73 109.03 874.84 108.6 873.99 C108.17 873.14 107.38 872.33 107.13 871.41 C106.89 870.5 107.03 869.45 107.15 868.5 C107.26 867.55 107.43 866.56 107.82 865.7 C108.21 864.83 109.11 864.14 109.5 863.32 C109.9 862.49 109.82 861.52 110.19 860.73 C110.57 859.94 111.19 859.26 111.73 858.58 C112.27 857.89 112.9 857.31 113.46 856.62 C114.01 855.92 114.42 855.04 115.06 854.41 C115.69 853.79 116.48 853.31 117.26 852.87 C118.04 852.42 118.87 852.05 119.72 851.76 C120.56 851.48 121.45 851.31 122.33 851.17 C123.21 851.03 124.12 850.88 125 850.92 C125.88 850.97 126.75 851.26 127.63 851.41 C128.51 851.57 129.38 851.65 130.26 851.83 C131.14 852.02 132.08 852.16 132.91 852.52 C133.74 852.88 134.5 853.44 135.25 853.98 C135.99 854.52 136.77 855.07 137.38 855.75 C137.99 856.44 138.52 857.26 138.91 858.1 C139.29 858.94 139.4 859.93 139.69 860.8 C139.97 861.66 140.4 862.43 140.61 863.28 C140.83 864.13 140.92 865.02 140.99 865.89 C141.05 866.76 140.9 867.61 141 868.5Z" fill="url(#gi8)"/>
<path d="M149.45 868.5 C149.51 869.75 148.6 871.02 148.3 872.27 C148 873.52 148.18 874.9 147.65 876.02 C147.13 877.14 145.86 877.97 145.16 878.99 C144.45 880.02 144.04 881.13 143.41 882.17 C142.79 883.21 142.26 884.43 141.39 885.24 C140.51 886.05 139.2 886.4 138.18 887.03 C137.15 887.66 136.25 888.41 135.23 889.01 C134.2 889.6 133.15 890.25 132.03 890.59 C130.9 890.94 129.67 891.02 128.5 891.06 C127.33 891.11 126.16 890.92 125 890.88 C123.84 890.84 122.69 890.93 121.54 890.84 C120.38 890.74 119.29 890.41 118.07 890.31 C116.84 890.2 115.37 890.53 114.17 890.21 C112.97 889.9 111.95 889.05 110.86 888.39 C109.77 887.73 108.46 887.2 107.63 886.24 C106.81 885.29 106.56 883.78 105.93 882.66 C105.29 881.54 104.18 880.71 103.82 879.53 C103.46 878.34 103.9 876.8 103.76 875.55 C103.63 874.31 103.17 873.23 103.02 872.06 C102.86 870.88 102.8 869.68 102.84 868.5 C102.89 867.32 103.23 866.19 103.28 864.99 C103.33 863.78 102.95 862.44 103.15 861.25 C103.35 860.05 103.98 858.94 104.48 857.82 C104.97 856.69 105.5 855.57 106.12 854.49 C106.74 853.41 107.29 852.15 108.21 851.34 C109.12 850.54 110.6 850.41 111.6 849.66 C112.6 848.91 113.18 847.52 114.21 846.86 C115.24 846.21 116.57 846.06 117.76 845.74 C118.95 845.43 120.15 845.25 121.35 844.97 C122.56 844.7 123.79 844.06 125 844.07 C126.21 844.09 127.41 844.83 128.63 845.06 C129.86 845.28 131.22 844.98 132.33 845.44 C133.45 845.89 134.39 846.98 135.32 847.8 C136.25 848.62 137.03 849.55 137.92 850.33 C138.82 851.11 139.89 851.63 140.7 852.46 C141.51 853.29 142.1 854.34 142.78 855.3 C143.46 856.26 144.01 857.25 144.77 858.21 C145.53 859.17 146.82 859.98 147.36 861.08 C147.89 862.17 147.62 863.55 147.97 864.78 C148.32 866.02 149.4 867.25 149.45 868.5Z" fill="#fff" filter="url(#nz)" opacity="0.16"/>
</g>
<g>
<path d="M229.85 865 C229.81 866.44 229.15 867.83 228.98 869.29 C228.81 870.75 228.97 872.24 228.83 873.76 C228.7 875.29 228.74 877.01 228.16 878.42 C227.58 879.84 226.16 880.83 225.35 882.23 C224.54 883.63 224.43 885.68 223.32 886.81 C222.2 887.94 220.14 888.25 218.65 889.01 C217.16 889.78 215.9 890.82 214.38 891.4 C212.86 891.98 211.14 892.12 209.55 892.5 C207.96 892.87 206.44 893.41 204.85 893.64 C203.26 893.88 201.61 893.99 200 893.92 C198.39 893.86 196.77 893.61 195.22 893.26 C193.66 892.91 192.25 892.2 190.68 891.83 C189.11 891.46 187.25 891.68 185.81 891.05 C184.38 890.43 183.28 889.08 182.08 888.08 C180.87 887.08 179.8 886.02 178.57 885.04 C177.34 884.06 175.72 883.35 174.7 882.2 C173.67 881.05 173.17 879.5 172.41 878.15 C171.64 876.8 170.75 875.51 170.08 874.09 C169.42 872.68 168.92 871.19 168.42 869.68 C167.92 868.16 167.11 866.57 167.07 865 C167.02 863.43 167.8 861.84 168.15 860.28 C168.5 858.72 168.51 857.06 169.16 855.63 C169.8 854.19 171.02 852.92 172.01 851.66 C173 850.4 173.91 849.11 175.1 848.08 C176.29 847.04 177.9 846.42 179.13 845.47 C180.35 844.53 181.24 843.32 182.44 842.39 C183.65 841.47 184.99 840.68 186.35 839.94 C187.71 839.2 189.14 838.55 190.61 837.97 C192.08 837.38 193.6 836.9 195.16 836.42 C196.73 835.94 198.38 835.13 200 835.1 C201.62 835.07 203.21 836.02 204.87 836.23 C206.53 836.43 208.44 835.82 209.95 836.34 C211.47 836.86 212.65 838.41 213.98 839.34 C215.31 840.27 216.64 841.02 217.93 841.91 C219.22 842.8 220.37 843.79 221.7 844.7 C223.03 845.62 224.92 846.2 225.9 847.39 C226.89 848.58 227.13 850.36 227.61 851.84 C228.1 853.31 228.54 854.77 228.8 856.24 C229.07 857.72 229.01 859.22 229.19 860.68 C229.36 862.13 229.88 863.56 229.85 865Z" fill="url(#go9)"/>
<circle cx="229.85" cy="865" r="1.15" fill="#c49a3c" opacity="0.75"/>
<circle cx="225.35" cy="882.23" r="1.07" fill="#c49a3c" opacity="0.75"/>
<circle cx="204.85" cy="893.64" r="1.29" fill="#c49a3c" opacity="0.75"/>
<circle cx="190.68" cy="891.83" r="0.76" fill="#c49a3c" opacity="0.75"/>
<circle cx="185.81" cy="891.05" r="0.63" fill="#c49a3c" opacity="0.75"/>
<circle cx="167.07" cy="865" r="0.68" fill="#c49a3c" opacity="0.75"/>
<circle cx="179.13" cy="845.47" r="0.81" fill="#c49a3c" opacity="0.75"/>
<circle cx="217.93" cy="841.91" r="0.93" fill="#c49a3c" opacity="0.75"/>
<path d="M225.28 866 C225.13 867.12 224.08 868.19 223.75 869.29 C223.42 870.39 223.77 871.62 223.31 872.62 C222.85 873.62 221.72 874.42 220.99 875.3 C220.26 876.18 219.62 877.03 218.93 877.9 C218.25 878.76 217.6 879.63 216.87 880.49 C216.15 881.36 215.48 882.34 214.59 883.08 C213.71 883.82 212.71 884.61 211.57 884.95 C210.44 885.28 208.97 884.89 207.79 885.09 C206.62 885.3 205.64 885.96 204.5 886.19 C203.37 886.42 202.19 886.37 201 886.48 C199.81 886.58 198.57 886.92 197.39 886.82 C196.21 886.72 195.12 886.14 193.92 885.89 C192.72 885.65 191.36 885.73 190.19 885.36 C189.03 884.99 188.01 884.28 186.93 883.68 C185.86 883.07 184.54 882.61 183.75 881.75 C182.96 880.88 182.78 879.49 182.18 878.48 C181.59 877.47 180.52 876.74 180.16 875.69 C179.81 874.65 180.13 873.32 180.03 872.22 C179.93 871.12 179.79 870.14 179.56 869.1 C179.33 868.06 178.76 867.05 178.63 866 C178.5 864.95 178.61 863.84 178.78 862.79 C178.95 861.73 179.4 860.74 179.64 859.66 C179.88 858.59 179.72 857.31 180.2 856.33 C180.69 855.34 181.88 854.7 182.57 853.78 C183.26 852.86 183.57 851.64 184.35 850.8 C185.13 849.96 186.25 849.38 187.24 848.71 C188.23 848.05 189.21 847.34 190.29 846.81 C191.37 846.28 192.54 845.84 193.71 845.52 C194.88 845.19 196.12 845.02 197.33 844.87 C198.55 844.71 199.79 844.54 201 844.59 C202.21 844.63 203.42 844.93 204.62 845.14 C205.81 845.35 207.12 845.34 208.16 845.87 C209.2 846.41 209.86 847.73 210.86 848.33 C211.85 848.94 213.25 848.86 214.13 849.5 C215.02 850.13 215.37 851.38 216.16 852.15 C216.96 852.93 218.04 853.4 218.9 854.12 C219.77 854.85 220.52 855.68 221.36 856.53 C222.21 857.37 223.43 858.17 223.98 859.18 C224.53 860.19 224.46 861.44 224.67 862.58 C224.89 863.71 225.43 864.88 225.28 866Z" fill="url(#gi9)"/>
<path d="M229.85 865 C229.81 866.44 229.15 867.83 228.98 869.29 C228.81 870.75 228.97 872.24 228.83 873.76 C228.7 875.29 228.74 877.01 228.16 878.42 C227.58 879.84 226.16 880.83 225.35 882.23 C224.54 883.63 224.43 885.68 223.32 886.81 C222.2 887.94 220.14 888.25 218.65 889.01 C217.16 889.78 215.9 890.82 214.38 891.4 C212.86 891.98 211.14 892.12 209.55 892.5 C207.96 892.87 206.44 893.41 204.85 893.64 C203.26 893.88 201.61 893.99 200 893.92 C198.39 893.86 196.77 893.61 195.22 893.26 C193.66 892.91 192.25 892.2 190.68 891.83 C189.11 891.46 187.25 891.68 185.81 891.05 C184.38 890.43 183.28 889.08 182.08 888.08 C180.87 887.08 179.8 886.02 178.57 885.04 C177.34 884.06 175.72 883.35 174.7 882.2 C173.67 881.05 173.17 879.5 172.41 878.15 C171.64 876.8 170.75 875.51 170.08 874.09 C169.42 872.68 168.92 871.19 168.42 869.68 C167.92 868.16 167.11 866.57 167.07 865 C167.02 863.43 167.8 861.84 168.15 860.28 C168.5 858.72 168.51 857.06 169.16 855.63 C169.8 854.19 171.02 852.92 172.01 851.66 C173 850.4 173.91 849.11 175.1 848.08 C176.29 847.04 177.9 846.42 179.13 845.47 C180.35 844.53 181.24 843.32 182.44 842.39 C183.65 841.47 184.99 840.68 186.35 839.94 C187.71 839.2 189.14 838.55 190.61 837.97 C192.08 837.38 193.6 836.9 195.16 836.42 C196.73 835.94 198.38 835.13 200 835.1 C201.62 835.07 203.21 836.02 204.87 836.23 C206.53 836.43 208.44 835.82 209.95 836.34 C211.47 836.86 212.65 838.41 213.98 839.34 C215.31 840.27 216.64 841.02 217.93 841.91 C219.22 842.8 220.37 843.79 221.7 844.7 C223.03 845.62 224.92 846.2 225.9 847.39 C226.89 848.58 227.13 850.36 227.61 851.84 C228.1 853.31 228.54 854.77 228.8 856.24 C229.07 857.72 229.01 859.22 229.19 860.68 C229.36 862.13 229.88 863.56 229.85 865Z" fill="#fff" filter="url(#nz)" opacity="0.16"/>
</g>
<g>
<path d="M304.67 864 C304.41 865.37 303.59 866.66 303.23 867.99 C302.88 869.32 302.91 870.69 302.53 871.98 C302.14 873.28 301.56 874.55 300.94 875.78 C300.31 877.01 299.65 878.28 298.77 879.37 C297.89 880.46 296.78 881.44 295.64 882.31 C294.51 883.19 293.25 883.96 291.97 884.61 C290.69 885.27 289.29 885.7 287.97 886.25 C286.65 886.8 285.4 887.44 284.05 887.92 C282.7 888.41 281.31 888.63 279.88 889.15 C278.46 889.67 277.01 890.73 275.5 891.04 C273.99 891.35 272.36 891.14 270.79 891.01 C269.23 890.88 267.54 890.81 266.12 890.25 C264.69 889.69 263.51 888.48 262.25 887.65 C260.98 886.81 259.7 886.1 258.54 885.22 C257.39 884.34 256.23 883.42 255.32 882.35 C254.4 881.28 253.71 880.02 253.06 878.82 C252.42 877.62 252.12 876.3 251.46 875.13 C250.81 873.96 249.86 872.96 249.13 871.79 C248.4 870.61 247.39 869.39 247.09 868.09 C246.78 866.79 247.22 865.35 247.29 864 C247.37 862.65 247.36 861.31 247.55 859.98 C247.74 858.64 248.1 857.33 248.45 856.01 C248.8 854.69 249.11 853.31 249.67 852.04 C250.23 850.76 250.86 849.41 251.8 848.35 C252.74 847.28 254.17 846.56 255.29 845.63 C256.41 844.7 257.36 843.62 258.52 842.75 C259.68 841.88 260.93 841.03 262.27 840.39 C263.6 839.75 265.07 839.26 266.53 838.9 C267.98 838.53 269.51 838.18 271.01 838.2 C272.5 838.23 274.04 838.79 275.5 839.03 C276.96 839.28 278.36 839.35 279.74 839.66 C281.12 839.97 282.34 840.63 283.76 840.88 C285.19 841.13 286.89 840.8 288.31 841.15 C289.73 841.49 291.08 842.22 292.3 842.98 C293.52 843.73 294.36 844.88 295.64 845.69 C296.91 846.5 299 846.79 299.97 847.84 C300.93 848.89 300.89 850.66 301.45 851.98 C302.01 853.31 302.76 854.48 303.32 855.78 C303.88 857.08 304.59 858.41 304.81 859.78 C305.03 861.15 304.93 862.63 304.67 864Z" fill="url(#go10)"/>
<circle cx="295.64" cy="882.31" r="0.77" fill="#c49a3c" opacity="0.75"/>
<circle cx="287.97" cy="886.25" r="0.92" fill="#c49a3c" opacity="0.75"/>
<circle cx="288.31" cy="841.15" r="0.94" fill="#c49a3c" opacity="0.75"/>
<path d="M295.39 864 C295.38 864.99 295.32 865.99 295.14 866.96 C294.97 867.93 294.82 868.96 294.33 869.83 C293.84 870.7 292.75 871.32 292.2 872.16 C291.65 873 291.52 874 291.04 874.87 C290.56 875.75 290.01 876.65 289.33 877.41 C288.64 878.18 287.75 878.78 286.92 879.47 C286.1 880.16 285.29 880.9 284.38 881.55 C283.47 882.21 282.55 883.13 281.46 883.39 C280.38 883.66 279.01 883.14 277.85 883.15 C276.69 883.16 275.6 883.6 274.5 883.47 C273.4 883.34 272.35 882.65 271.28 882.38 C270.21 882.12 269.11 882.16 268.07 881.89 C267.04 881.62 265.99 881.25 265.06 880.76 C264.13 880.28 263.29 879.6 262.48 878.97 C261.67 878.33 261.01 877.58 260.19 876.94 C259.37 876.31 258.3 875.85 257.57 875.13 C256.84 874.41 256.34 873.48 255.81 872.61 C255.29 871.74 254.73 870.85 254.4 869.91 C254.07 868.97 254.02 867.94 253.85 866.96 C253.67 865.97 253.46 865 253.34 864 C253.22 863 253.04 861.95 253.14 860.94 C253.24 859.93 253.59 858.93 253.93 857.95 C254.27 856.98 254.72 856.04 255.16 855.08 C255.6 854.12 255.8 852.96 256.55 852.2 C257.29 851.44 258.7 851.14 259.64 850.55 C260.58 849.96 261.24 849.13 262.19 848.67 C263.15 848.21 264.36 848.14 265.37 847.79 C266.38 847.45 267.24 846.82 268.25 846.59 C269.25 846.36 270.38 846.67 271.42 846.41 C272.46 846.14 273.44 845.15 274.5 844.97 C275.56 844.79 276.69 845.15 277.77 845.3 C278.86 845.46 279.92 845.66 281 845.9 C282.08 846.13 283.21 846.32 284.23 846.72 C285.25 847.12 286.29 847.63 287.12 848.29 C287.95 848.94 288.5 849.92 289.23 850.67 C289.97 851.42 290.88 852.01 291.54 852.8 C292.2 853.58 292.66 854.5 293.2 855.38 C293.74 856.25 294.43 857.1 294.76 858.04 C295.09 858.99 295.08 860.04 295.19 861.04 C295.29 862.03 295.4 863.01 295.39 864Z" fill="url(#gi10)"/>
<path d="M304.67 864 C304.41 865.37 303.59 866.66 303.23 867.99 C302.88 869.32 302.91 870.69 302.53 871.98 C302.14 873.28 301.56 874.55 300.94 875.78 C300.31 877.01 299.65 878.28 298.77 879.37 C297.89 880.46 296.78 881.44 295.64 882.31 C294.51 883.19 293.25 883.96 291.97 884.61 C290.69 885.27 289.29 885.7 287.97 886.25 C286.65 886.8 285.4 887.44 284.05 887.92 C282.7 888.41 281.31 888.63 279.88 889.15 C278.46 889.67 277.01 890.73 275.5 891.04 C273.99 891.35 272.36 891.14 270.79 891.01 C269.23 890.88 267.54 890.81 266.12 890.25 C264.69 889.69 263.51 888.48 262.25 887.65 C260.98 886.81 259.7 886.1 258.54 885.22 C257.39 884.34 256.23 883.42 255.32 882.35 C254.4 881.28 253.71 880.02 253.06 878.82 C252.42 877.62 252.12 876.3 251.46 875.13 C250.81 873.96 249.86 872.96 249.13 871.79 C248.4 870.61 247.39 869.39 247.09 868.09 C246.78 866.79 247.22 865.35 247.29 864 C247.37 862.65 247.36 861.31 247.55 859.98 C247.74 858.64 248.1 857.33 248.45 856.01 C248.8 854.69 249.11 853.31 249.67 852.04 C250.23 850.76 250.86 849.41 251.8 848.35 C252.74 847.28 254.17 846.56 255.29 845.63 C256.41 844.7 257.36 843.62 258.52 842.75 C259.68 841.88 260.93 841.03 262.27 840.39 C263.6 839.75 265.07 839.26 266.53 838.9 C267.98 838.53 269.51 838.18 271.01 838.2 C272.5 838.23 274.04 838.79 275.5 839.03 C276.96 839.28 278.36 839.35 279.74 839.66 C281.12 839.97 282.34 840.63 283.76 840.88 C285.19 841.13 286.89 840.8 288.31 841.15 C289.73 841.49 291.08 842.22 292.3 842.98 C293.52 843.73 294.36 844.88 295.64 845.69 C296.91 846.5 299 846.79 299.97 847.84 C300.93 848.89 300.89 850.66 301.45 851.98 C302.01 853.31 302.76 854.48 303.32 855.78 C303.88 857.08 304.59 858.41 304.81 859.78 C305.03 861.15 304.93 862.63 304.67 864Z" fill="#fff" filter="url(#nz)" opacity="0.16"/>
</g>
<g>
<path d="M379.76 864.6 C379.64 866.03 379.86 867.45 379.64 868.85 C379.43 870.24 379.07 871.68 378.47 872.96 C377.87 874.25 376.89 875.43 376.03 876.58 C375.18 877.73 374.17 878.72 373.34 879.89 C372.51 881.05 372.11 882.58 371.08 883.57 C370.06 884.55 368.51 885.13 367.19 885.8 C365.87 886.46 364.51 887.04 363.14 887.54 C361.77 888.03 360.34 888.27 358.96 888.77 C357.58 889.26 356.3 890.11 354.87 890.51 C353.45 890.91 351.91 891.05 350.4 891.16 C348.89 891.28 347.35 891.27 345.81 891.18 C344.28 891.08 342.73 890.89 341.19 890.61 C339.65 890.32 337.98 890.1 336.58 889.48 C335.18 888.85 334.08 887.68 332.78 886.84 C331.49 886 329.75 885.53 328.8 884.42 C327.84 883.3 327.68 881.49 327.05 880.16 C326.41 878.84 325.6 877.73 325 876.47 C324.41 875.21 323.9 873.93 323.47 872.63 C323.04 871.33 322.64 870 322.43 868.66 C322.21 867.33 322.22 865.96 322.2 864.6 C322.18 863.24 322.23 861.9 322.3 860.52 C322.37 859.14 322.22 857.64 322.63 856.32 C323.05 855.01 324.18 853.93 324.8 852.64 C325.42 851.35 325.5 849.72 326.36 848.58 C327.21 847.44 328.82 846.82 329.91 845.8 C331 844.79 331.68 843.34 332.89 842.5 C334.1 841.65 335.76 841.37 337.15 840.75 C338.55 840.14 339.82 839.27 341.26 838.79 C342.7 838.32 344.27 838.12 345.79 837.93 C347.32 837.74 348.89 837.49 350.4 837.65 C351.91 837.81 353.43 838.36 354.84 838.87 C356.26 839.37 357.5 840.2 358.87 840.68 C360.25 841.16 361.84 841.13 363.1 841.74 C364.36 842.35 365.3 843.52 366.46 844.33 C367.61 845.14 368.84 845.8 370.02 846.6 C371.21 847.41 372.43 848.22 373.56 849.16 C374.7 850.1 375.93 851.09 376.83 852.25 C377.73 853.4 378.38 854.75 378.97 856.08 C379.56 857.42 380.23 858.83 380.36 860.25 C380.49 861.67 379.88 863.17 379.76 864.6Z" fill="url(#go11)"/>
<circle cx="373.34" cy="879.89" r="1.26" fill="#c49a3c" opacity="0.75"/>
<circle cx="350.4" cy="891.16" r="0.61" fill="#c49a3c" opacity="0.75"/>
<circle cx="332.78" cy="886.84" r="0.71" fill="#c49a3c" opacity="0.75"/>
<circle cx="378.97" cy="856.08" r="0.99" fill="#c49a3c" opacity="0.75"/>
<circle cx="380.36" cy="860.25" r="0.97" fill="#c49a3c" opacity="0.75"/>
<path d="M372.29 864.6 C372.36 865.62 372.2 866.69 371.96 867.69 C371.73 868.69 371.3 869.67 370.89 870.62 C370.49 871.58 370.22 872.63 369.54 873.42 C368.86 874.22 367.52 874.61 366.82 875.39 C366.11 876.17 366 877.35 365.29 878.08 C364.59 878.81 363.48 879.2 362.58 879.76 C361.67 880.32 360.83 880.95 359.88 881.43 C358.93 881.91 357.91 882.3 356.87 882.63 C355.84 882.95 354.76 883.3 353.69 883.37 C352.61 883.44 351.48 883.12 350.4 883.04 C349.32 882.95 348.3 882.89 347.2 882.86 C346.11 882.84 344.87 883.14 343.83 882.88 C342.8 882.63 342.02 881.72 340.97 881.34 C339.93 880.96 338.6 881.01 337.56 880.58 C336.53 880.15 335.5 879.52 334.75 878.76 C334 877.99 333.66 876.88 333.06 876 C332.45 875.12 331.58 874.4 331.12 873.49 C330.66 872.57 330.54 871.49 330.32 870.5 C330.11 869.51 329.8 868.53 329.83 867.55 C329.86 866.56 330.46 865.58 330.48 864.6 C330.51 863.62 329.91 862.63 329.98 861.67 C330.05 860.72 330.6 859.81 330.9 858.87 C331.2 857.92 331.46 856.98 331.79 856.02 C332.13 855.06 332.27 853.9 332.92 853.11 C333.57 852.32 334.88 852 335.69 851.29 C336.5 850.59 336.94 849.52 337.77 848.88 C338.61 848.23 339.7 847.81 340.72 847.41 C341.74 847.01 342.85 846.86 343.89 846.48 C344.94 846.11 345.92 845.38 347 845.18 C348.08 844.98 349.27 845.24 350.4 845.28 C351.53 845.33 352.66 845.26 353.76 845.43 C354.85 845.6 355.94 845.94 356.97 846.31 C358.01 846.67 359.1 847 359.97 847.61 C360.83 848.22 361.4 849.25 362.16 849.96 C362.91 850.66 363.77 851.17 364.5 851.84 C365.24 852.51 365.87 853.25 366.57 853.97 C367.27 854.69 368 855.39 368.7 856.17 C369.4 856.94 370.3 857.71 370.77 858.61 C371.25 859.51 371.29 860.57 371.54 861.57 C371.8 862.57 372.22 863.58 372.29 864.6Z" fill="url(#gi11)"/>
<path d="M379.76 864.6 C379.64 866.03 379.86 867.45 379.64 868.85 C379.43 870.24 379.07 871.68 378.47 872.96 C377.87 874.25 376.89 875.43 376.03 876.58 C375.18 877.73 374.17 878.72 373.34 879.89 C372.51 881.05 372.11 882.58 371.08 883.57 C370.06 884.55 368.51 885.13 367.19 885.8 C365.87 886.46 364.51 887.04 363.14 887.54 C361.77 888.03 360.34 888.27 358.96 888.77 C357.58 889.26 356.3 890.11 354.87 890.51 C353.45 890.91 351.91 891.05 350.4 891.16 C348.89 891.28 347.35 891.27 345.81 891.18 C344.28 891.08 342.73 890.89 341.19 890.61 C339.65 890.32 337.98 890.1 336.58 889.48 C335.18 888.85 334.08 887.68 332.78 886.84 C331.49 886 329.75 885.53 328.8 884.42 C327.84 883.3 327.68 881.49 327.05 880.16 C326.41 878.84 325.6 877.73 325 876.47 C324.41 875.21 323.9 873.93 323.47 872.63 C323.04 871.33 322.64 870 322.43 868.66 C322.21 867.33 322.22 865.96 322.2 864.6 C322.18 863.24 322.23 861.9 322.3 860.52 C322.37 859.14 322.22 857.64 322.63 856.32 C323.05 855.01 324.18 853.93 324.8 852.64 C325.42 851.35 325.5 849.72 326.36 848.58 C327.21 847.44 328.82 846.82 329.91 845.8 C331 844.79 331.68 843.34 332.89 842.5 C334.1 841.65 335.76 841.37 337.15 840.75 C338.55 840.14 339.82 839.27 341.26 838.79 C342.7 838.32 344.27 838.12 345.79 837.93 C347.32 837.74 348.89 837.49 350.4 837.65 C351.91 837.81 353.43 838.36 354.84 838.87 C356.26 839.37 357.5 840.2 358.87 840.68 C360.25 841.16 361.84 841.13 363.1 841.74 C364.36 842.35 365.3 843.52 366.46 844.33 C367.61 845.14 368.84 845.8 370.02 846.6 C371.21 847.41 372.43 848.22 373.56 849.16 C374.7 850.1 375.93 851.09 376.83 852.25 C377.73 853.4 378.38 854.75 378.97 856.08 C379.56 857.42 380.23 858.83 380.36 860.25 C380.49 861.67 379.88 863.17 379.76 864.6Z" fill="#fff" filter="url(#nz)" opacity="0.16"/>
</g>
<rect x="151.8" y="747" width="8.2" height="1.1" fill="#d8dcdc"/>
<rect x="227" y="747" width="8.2" height="1.1" fill="#d8dcdc"/>
<rect x="300.9" y="747" width="8.2" height="1.1" fill="#d8dcdc"/>
<rect x="376.2" y="747" width="8.2" height="1.1" fill="#d8dcdc"/>
<rect x="151.8" y="822" width="8.2" height="1.1" fill="#d8dcdc"/>
<rect x="227" y="822" width="8.2" height="1.1" fill="#d8dcdc"/>
<rect x="300.9" y="822" width="8.2" height="1.1" fill="#d8dcdc"/>
<rect x="376.2" y="822" width="8.2" height="1.1" fill="#d8dcdc"/>
<rect x="151.8" y="896.1" width="8.2" height="1.1" fill="#d8dcdc"/>
<rect x="227" y="896.1" width="8.2" height="1.1" fill="#d8dcdc"/>
<rect x="300.9" y="896.1" width="8.2" height="1.1" fill="#d8dcdc"/>
<rect x="376.2" y="896.1" width="8.2" height="1.1" fill="#d8dcdc"/>
</svg></body></html>
